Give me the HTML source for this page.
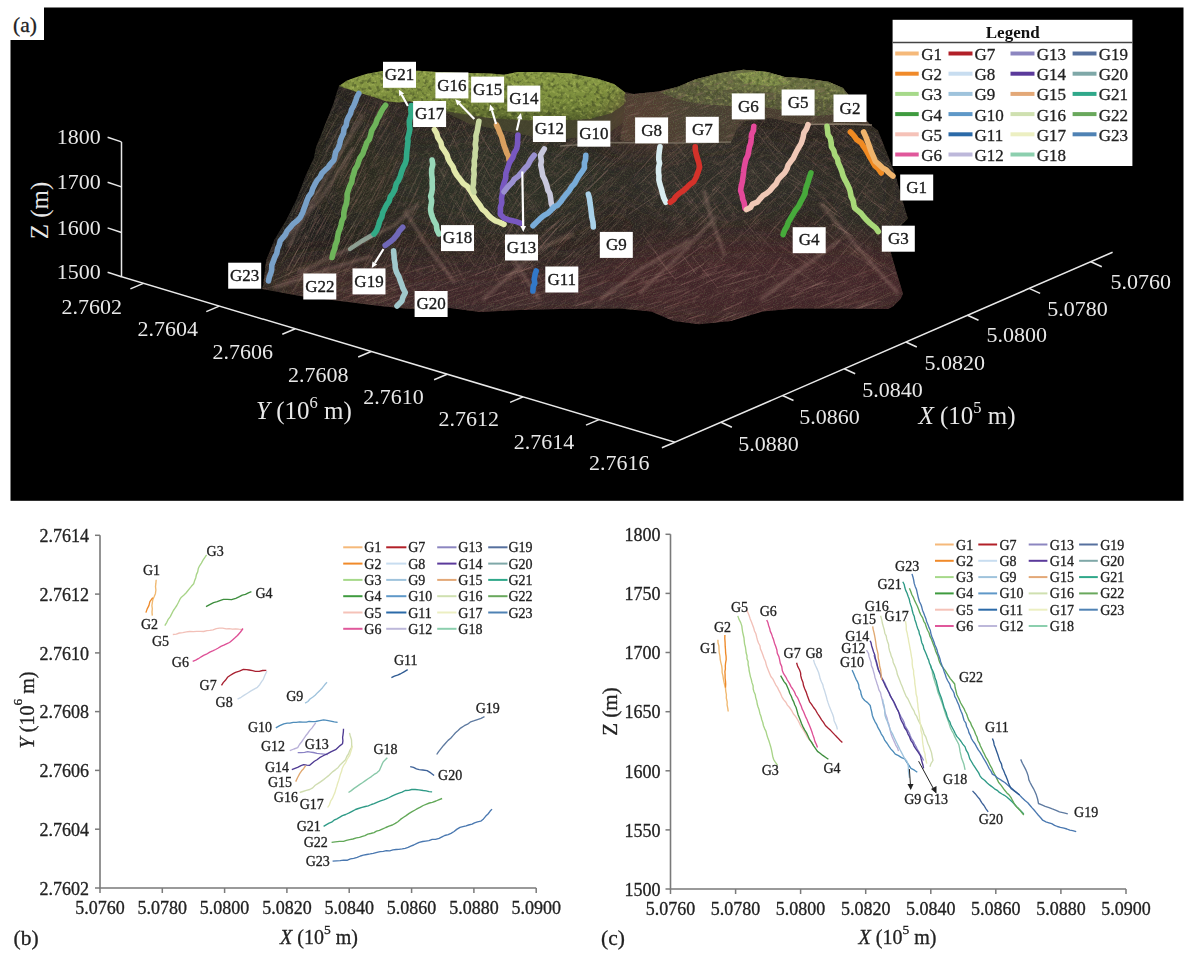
<!DOCTYPE html><html><head><meta charset="utf-8"><style>html,body{margin:0;padding:0;background:#fff;width:1195px;height:954px;overflow:hidden}svg{display:block;filter:blur(0.35px)}text{font-family:"Liberation Serif",serif}text[fill="#222"]{stroke:#222;stroke-width:0.3px}</style></head><body>
<svg width="1195" height="954" viewBox="0 0 1195 954">
<rect x="0" y="0" width="1195" height="954" fill="#fff"/>
<rect x="10.5" y="7.5" width="1173" height="493.3" fill="#000"/>
<rect x="9" y="6" width="35" height="34" fill="#fff"/>
<text x="13" y="31.5" font-size="21.5" fill="#222">(a)</text>
<defs>
<linearGradient id="topL" x1="0" y1="0" x2="0" y2="1"><stop offset="0" stop-color="#8a9c46"/><stop offset="0.6" stop-color="#7a8c3c"/><stop offset="1" stop-color="#56622c"/></linearGradient>
<linearGradient id="topR" x1="0" y1="0" x2="0" y2="1"><stop offset="0" stop-color="#6a6e40"/><stop offset="0.5" stop-color="#4e4a33"/><stop offset="1" stop-color="#43362c"/></linearGradient>
<linearGradient id="face" x1="0" y1="0" x2="0" y2="1"><stop offset="0" stop-color="#3a3328"/><stop offset="1" stop-color="#4a3028"/></linearGradient>
</defs>
<defs><clipPath id="fc"><polygon points="339.0,86.1 346.6,80.7 355.3,77.4 366.2,74.1 383.6,70.7 418.4,70.7 437.1,72.1 463.9,72.9 490.7,73.4 504.1,74.7 517.5,72.1 544.2,72.1 571.0,73.4 597.8,78.7 613.9,84.1 624.6,92.1 634.3,94.0 658.5,91.5 677.9,86.7 694.9,79.4 719.2,73.3 743.5,69.7 767.7,72.1 784.7,77.0 804.1,78.2 828.4,81.8 843.0,87.9 847.8,94.0 861.3,114.2 870.3,124.8 877.9,130.3 887.9,155.5 895.5,175.6 900.5,193.2 905.5,210.8 908.0,218.4 903.0,223.4 893.0,236.0 890.4,251.1 895.5,268.7 903.0,293.8 900.5,298.9 893.0,306.4 887.9,308.9 842.0,308.4 794.4,308.4 762.6,311.5 730.8,321.1 699.0,324.3 673.5,321.1 651.3,311.5 619.5,308.4 560.0,309.0 520.0,310.0 480.0,312.0 450.0,308.0 410.0,309.0 380.0,306.0 340.0,301.0 300.0,296.0 262.0,289.0 263.2,284.4 266.2,260.3 274.2,240.2 286.3,220.0 296.3,200.0 306.0,175.0 313.9,157.9 316.1,147.0 320.5,136.2 324.8,125.3 329.2,114.4 333.5,103.5 336.8,92.6"/></clipPath></defs>
<polygon points="339.0,86.1 346.6,80.7 355.3,77.4 366.2,74.1 383.6,70.7 418.4,70.7 437.1,72.1 463.9,72.9 490.7,73.4 504.1,74.7 517.5,72.1 544.2,72.1 571.0,73.4 597.8,78.7 613.9,84.1 624.6,92.1 634.3,94.0 658.5,91.5 677.9,86.7 694.9,79.4 719.2,73.3 743.5,69.7 767.7,72.1 784.7,77.0 804.1,78.2 828.4,81.8 843.0,87.9 847.8,94.0 861.3,114.2 870.3,124.8 877.9,130.3 887.9,155.5 895.5,175.6 900.5,193.2 905.5,210.8 908.0,218.4 903.0,223.4 893.0,236.0 890.4,251.1 895.5,268.7 903.0,293.8 900.5,298.9 893.0,306.4 887.9,308.9 842.0,308.4 794.4,308.4 762.6,311.5 730.8,321.1 699.0,324.3 673.5,321.1 651.3,311.5 619.5,308.4 560.0,309.0 520.0,310.0 480.0,312.0 450.0,308.0 410.0,309.0 380.0,306.0 340.0,301.0 300.0,296.0 262.0,289.0 263.2,284.4 266.2,260.3 274.2,240.2 286.3,220.0 296.3,200.0 306.0,175.0 313.9,157.9 316.1,147.0 320.5,136.2 324.8,125.3 329.2,114.4 333.5,103.5 336.8,92.6" fill="#2b2421"/>
<defs>
<filter id="bl" x="-50%" y="-50%" width="200%" height="200%"><feGaussianBlur stdDeviation="14"/></filter><filter id="sb2" x="-20%" y="-20%" width="140%" height="140%"><feGaussianBlur stdDeviation="1.5"/></filter>
<filter id="tx1" color-interpolation-filters="sRGB" filterUnits="userSpaceOnUse" x="-400" y="-400" width="1800" height="1200">
 <feTurbulence type="turbulence" baseFrequency="0.06 0.45" numOctaves="2" seed="7"/>
 <feColorMatrix type="matrix" values="0 0 0 0 0.60  0 0 0 0 0.45  0 0 0 0 0.42  3.2 0 0 0 -0.95"/>
</filter>
<filter id="tx2" color-interpolation-filters="sRGB" filterUnits="userSpaceOnUse" x="-400" y="-400" width="1800" height="1200">
 <feTurbulence type="fractalNoise" baseFrequency="0.9" numOctaves="1" seed="3"/>
 <feColorMatrix type="matrix" values="0 0 0 0 0.40  0 0 0 0 0.44  0 0 0 0 0.30  3 0 0 0 -1.4"/>
</filter>
</defs>
<g clip-path="url(#fc)">
<g filter="url(#bl)">
<ellipse cx="320" cy="190" rx="60" ry="110" fill="#1c1b18" opacity="0.7"/>
<ellipse cx="760" cy="285" rx="190" ry="50" fill="#44272a" opacity="0.85"/>
<ellipse cx="470" cy="295" rx="170" ry="32" fill="#42282a" opacity="0.8"/>
<ellipse cx="330" cy="285" rx="70" ry="25" fill="#46302c" opacity="0.6"/>
<ellipse cx="500" cy="180" rx="110" ry="50" fill="#2c2e24" opacity="0.8"/>
<ellipse cx="370" cy="170" rx="50" ry="60" fill="#2e2f26" opacity="0.6"/>
<ellipse cx="720" cy="180" rx="110" ry="40" fill="#2e2c26" opacity="0.7"/>
<ellipse cx="860" cy="190" rx="40" ry="50" fill="#2e2c26" opacity="0.6"/>
</g>
<g transform="rotate(-62 330 200)"><rect x="100" y="0" width="500" height="400" filter="url(#tx1)" opacity="0.15"/></g>
<g transform="rotate(-35 520 230)"><rect x="380" y="100" width="300" height="300" filter="url(#tx1)" opacity="0.15"/></g>
<g transform="rotate(-30 700 240)"><rect x="600" y="120" width="200" height="260" filter="url(#tx1)" opacity="0.15"/></g>
<g transform="rotate(30 820 240)"><rect x="740" y="120" width="220" height="260" filter="url(#tx1)" opacity="0.15"/></g>
<rect x="250" y="60" width="670" height="270" filter="url(#tx2)" opacity="0.4"/>
<g><line x1="674" y1="94" x2="661" y2="106" stroke="#b07a72" stroke-width="0.9" opacity="0.26"/><line x1="312" y1="188" x2="304" y2="207" stroke="#8e6a60" stroke-width="0.9" opacity="0.20"/><line x1="724" y1="254" x2="701" y2="276" stroke="#b07a72" stroke-width="1.0" opacity="0.13"/><line x1="532" y1="154" x2="518" y2="173" stroke="#b07a72" stroke-width="0.8" opacity="0.16"/><line x1="480" y1="151" x2="464" y2="176" stroke="#c89a90" stroke-width="0.6" opacity="0.15"/><line x1="667" y1="298" x2="648" y2="305" stroke="#b07a72" stroke-width="0.6" opacity="0.14"/><line x1="445" y1="107" x2="432" y2="129" stroke="#c89a90" stroke-width="0.9" opacity="0.17"/><line x1="497" y1="138" x2="516" y2="167" stroke="#b07a72" stroke-width="0.9" opacity="0.13"/><line x1="733" y1="127" x2="702" y2="155" stroke="#9a8a72" stroke-width="0.9" opacity="0.22"/><line x1="807" y1="272" x2="793" y2="278" stroke="#9a6c62" stroke-width="0.8" opacity="0.11"/><line x1="853" y1="222" x2="833" y2="249" stroke="#c89a90" stroke-width="1.0" opacity="0.22"/><line x1="349" y1="121" x2="333" y2="147" stroke="#9a8a72" stroke-width="0.9" opacity="0.26"/><line x1="517" y1="140" x2="508" y2="154" stroke="#b07a72" stroke-width="1.0" opacity="0.13"/><line x1="360" y1="249" x2="347" y2="272" stroke="#8e6a60" stroke-width="1.1" opacity="0.20"/><line x1="891" y1="292" x2="859" y2="308" stroke="#9a8a72" stroke-width="1.0" opacity="0.24"/><line x1="758" y1="169" x2="738" y2="187" stroke="#9a8a72" stroke-width="1.0" opacity="0.15"/><line x1="583" y1="130" x2="552" y2="156" stroke="#9a6c62" stroke-width="1.0" opacity="0.19"/><line x1="385" y1="177" x2="368" y2="216" stroke="#8e6a60" stroke-width="1.1" opacity="0.21"/><line x1="575" y1="115" x2="545" y2="146" stroke="#9a6c62" stroke-width="0.7" opacity="0.14"/><line x1="627" y1="107" x2="598" y2="132" stroke="#8e6a60" stroke-width="1.0" opacity="0.12"/><line x1="566" y1="218" x2="540" y2="248" stroke="#c89a90" stroke-width="1.1" opacity="0.27"/><line x1="750" y1="251" x2="779" y2="284" stroke="#9a8a72" stroke-width="0.8" opacity="0.26"/><line x1="551" y1="147" x2="542" y2="158" stroke="#8e6a60" stroke-width="0.7" opacity="0.14"/><line x1="302" y1="238" x2="285" y2="275" stroke="#9a6c62" stroke-width="0.6" opacity="0.14"/><line x1="693" y1="139" x2="663" y2="166" stroke="#8e6a60" stroke-width="0.8" opacity="0.24"/><line x1="784" y1="133" x2="802" y2="150" stroke="#c89a90" stroke-width="0.8" opacity="0.23"/><line x1="696" y1="321" x2="673" y2="333" stroke="#9a6c62" stroke-width="1.0" opacity="0.12"/><line x1="380" y1="215" x2="373" y2="233" stroke="#c89a90" stroke-width="0.7" opacity="0.27"/><line x1="545" y1="292" x2="531" y2="297" stroke="#8e6a60" stroke-width="1.0" opacity="0.27"/><line x1="862" y1="289" x2="836" y2="301" stroke="#b88e84" stroke-width="1.0" opacity="0.26"/><line x1="363" y1="89" x2="344" y2="126" stroke="#c89a90" stroke-width="0.7" opacity="0.23"/><line x1="733" y1="274" x2="706" y2="282" stroke="#b88e84" stroke-width="0.7" opacity="0.27"/><line x1="634" y1="217" x2="623" y2="227" stroke="#8e6a60" stroke-width="0.8" opacity="0.27"/><line x1="603" y1="101" x2="575" y2="129" stroke="#b07a72" stroke-width="0.9" opacity="0.22"/><line x1="409" y1="116" x2="397" y2="134" stroke="#8e6a60" stroke-width="0.6" opacity="0.11"/><line x1="686" y1="222" x2="669" y2="233" stroke="#9a8a72" stroke-width="0.8" opacity="0.15"/><line x1="341" y1="241" x2="321" y2="278" stroke="#b07a72" stroke-width="0.6" opacity="0.21"/><line x1="624" y1="112" x2="603" y2="132" stroke="#b88e84" stroke-width="1.1" opacity="0.26"/><line x1="831" y1="176" x2="854" y2="195" stroke="#9a6c62" stroke-width="0.9" opacity="0.28"/><line x1="683" y1="90" x2="706" y2="115" stroke="#b88e84" stroke-width="0.7" opacity="0.26"/><line x1="741" y1="125" x2="713" y2="147" stroke="#b88e84" stroke-width="0.9" opacity="0.25"/><line x1="586" y1="148" x2="574" y2="157" stroke="#9a8a72" stroke-width="0.8" opacity="0.15"/><line x1="672" y1="150" x2="695" y2="177" stroke="#8e6a60" stroke-width="0.6" opacity="0.11"/><line x1="833" y1="302" x2="797" y2="315" stroke="#8e6a60" stroke-width="0.9" opacity="0.18"/><line x1="702" y1="246" x2="669" y2="270" stroke="#c89a90" stroke-width="1.1" opacity="0.23"/><line x1="861" y1="144" x2="888" y2="172" stroke="#c89a90" stroke-width="0.6" opacity="0.23"/><line x1="473" y1="309" x2="434" y2="319" stroke="#b88e84" stroke-width="0.7" opacity="0.24"/><line x1="326" y1="295" x2="306" y2="300" stroke="#c89a90" stroke-width="0.8" opacity="0.25"/><line x1="826" y1="141" x2="812" y2="160" stroke="#b07a72" stroke-width="1.1" opacity="0.15"/><line x1="675" y1="183" x2="685" y2="194" stroke="#9a6c62" stroke-width="0.7" opacity="0.27"/><line x1="429" y1="114" x2="449" y2="146" stroke="#c89a90" stroke-width="0.9" opacity="0.19"/><line x1="507" y1="225" x2="525" y2="245" stroke="#8e6a60" stroke-width="1.1" opacity="0.20"/><line x1="726" y1="264" x2="702" y2="271" stroke="#b07a72" stroke-width="1.1" opacity="0.27"/><line x1="663" y1="245" x2="646" y2="261" stroke="#9a6c62" stroke-width="0.9" opacity="0.16"/><line x1="712" y1="219" x2="682" y2="250" stroke="#9a8a72" stroke-width="1.0" opacity="0.13"/><line x1="628" y1="184" x2="610" y2="199" stroke="#b88e84" stroke-width="0.8" opacity="0.20"/><line x1="684" y1="198" x2="661" y2="216" stroke="#9a8a72" stroke-width="0.7" opacity="0.12"/><line x1="593" y1="238" x2="566" y2="266" stroke="#b88e84" stroke-width="0.9" opacity="0.14"/><line x1="385" y1="94" x2="374" y2="120" stroke="#b07a72" stroke-width="0.8" opacity="0.26"/><line x1="632" y1="258" x2="614" y2="277" stroke="#b88e84" stroke-width="0.9" opacity="0.10"/><line x1="747" y1="271" x2="723" y2="282" stroke="#b88e84" stroke-width="1.0" opacity="0.23"/><line x1="559" y1="220" x2="546" y2="231" stroke="#b88e84" stroke-width="1.0" opacity="0.22"/><line x1="877" y1="299" x2="844" y2="311" stroke="#8e6a60" stroke-width="0.8" opacity="0.26"/><line x1="547" y1="126" x2="526" y2="143" stroke="#b88e84" stroke-width="1.0" opacity="0.15"/><line x1="764" y1="203" x2="753" y2="215" stroke="#9a6c62" stroke-width="0.7" opacity="0.16"/><line x1="840" y1="107" x2="868" y2="128" stroke="#9a8a72" stroke-width="0.7" opacity="0.17"/><line x1="472" y1="198" x2="460" y2="222" stroke="#8e6a60" stroke-width="1.1" opacity="0.10"/><line x1="832" y1="224" x2="853" y2="236" stroke="#c89a90" stroke-width="1.0" opacity="0.27"/><line x1="529" y1="265" x2="499" y2="276" stroke="#b88e84" stroke-width="0.8" opacity="0.15"/><line x1="573" y1="180" x2="545" y2="206" stroke="#9a8a72" stroke-width="0.7" opacity="0.18"/><line x1="339" y1="235" x2="329" y2="260" stroke="#8e6a60" stroke-width="0.9" opacity="0.12"/><line x1="536" y1="293" x2="516" y2="302" stroke="#9a6c62" stroke-width="0.7" opacity="0.16"/><line x1="754" y1="178" x2="742" y2="189" stroke="#b07a72" stroke-width="1.0" opacity="0.11"/><line x1="879" y1="141" x2="903" y2="164" stroke="#b07a72" stroke-width="1.1" opacity="0.14"/><line x1="338" y1="247" x2="328" y2="265" stroke="#9a8a72" stroke-width="0.7" opacity="0.17"/><line x1="726" y1="272" x2="704" y2="282" stroke="#8e6a60" stroke-width="0.6" opacity="0.16"/><line x1="699" y1="315" x2="666" y2="328" stroke="#b07a72" stroke-width="0.9" opacity="0.25"/><line x1="414" y1="253" x2="399" y2="284" stroke="#b07a72" stroke-width="1.0" opacity="0.20"/><line x1="688" y1="104" x2="715" y2="134" stroke="#c89a90" stroke-width="0.7" opacity="0.27"/><line x1="671" y1="284" x2="645" y2="292" stroke="#9a8a72" stroke-width="0.9" opacity="0.22"/><line x1="658" y1="306" x2="632" y2="314" stroke="#9a8a72" stroke-width="0.9" opacity="0.16"/><line x1="438" y1="195" x2="454" y2="225" stroke="#9a6c62" stroke-width="0.6" opacity="0.25"/><line x1="374" y1="138" x2="361" y2="159" stroke="#8e6a60" stroke-width="1.0" opacity="0.15"/><line x1="311" y1="259" x2="294" y2="291" stroke="#9a8a72" stroke-width="0.8" opacity="0.23"/><line x1="549" y1="92" x2="531" y2="111" stroke="#b88e84" stroke-width="0.8" opacity="0.20"/><line x1="565" y1="214" x2="540" y2="240" stroke="#9a6c62" stroke-width="0.8" opacity="0.18"/><line x1="456" y1="143" x2="442" y2="176" stroke="#9a8a72" stroke-width="0.7" opacity="0.14"/><line x1="572" y1="260" x2="549" y2="278" stroke="#9a6c62" stroke-width="1.1" opacity="0.25"/><line x1="449" y1="174" x2="467" y2="198" stroke="#9a6c62" stroke-width="0.6" opacity="0.11"/><line x1="673" y1="266" x2="660" y2="273" stroke="#9a6c62" stroke-width="0.8" opacity="0.18"/><line x1="376" y1="100" x2="360" y2="124" stroke="#b07a72" stroke-width="0.8" opacity="0.11"/><line x1="667" y1="101" x2="635" y2="128" stroke="#b07a72" stroke-width="1.1" opacity="0.12"/><line x1="756" y1="232" x2="776" y2="253" stroke="#c89a90" stroke-width="1.1" opacity="0.15"/><line x1="640" y1="190" x2="660" y2="215" stroke="#9a8a72" stroke-width="0.6" opacity="0.24"/><line x1="665" y1="151" x2="652" y2="165" stroke="#b07a72" stroke-width="0.7" opacity="0.17"/><line x1="707" y1="199" x2="683" y2="226" stroke="#9a8a72" stroke-width="1.0" opacity="0.11"/><line x1="408" y1="151" x2="391" y2="178" stroke="#b88e84" stroke-width="0.8" opacity="0.20"/><line x1="679" y1="303" x2="664" y2="308" stroke="#b88e84" stroke-width="1.0" opacity="0.21"/><line x1="795" y1="306" x2="769" y2="316" stroke="#9a6c62" stroke-width="0.9" opacity="0.27"/><line x1="583" y1="205" x2="573" y2="217" stroke="#c89a90" stroke-width="1.0" opacity="0.21"/><line x1="697" y1="292" x2="683" y2="297" stroke="#9a8a72" stroke-width="1.0" opacity="0.20"/><line x1="755" y1="130" x2="780" y2="162" stroke="#b88e84" stroke-width="1.1" opacity="0.18"/><line x1="563" y1="185" x2="551" y2="197" stroke="#b88e84" stroke-width="0.8" opacity="0.22"/><line x1="788" y1="218" x2="807" y2="229" stroke="#b07a72" stroke-width="1.1" opacity="0.17"/><line x1="686" y1="217" x2="665" y2="238" stroke="#8e6a60" stroke-width="1.0" opacity="0.21"/><line x1="753" y1="136" x2="769" y2="152" stroke="#9a8a72" stroke-width="0.8" opacity="0.11"/><line x1="668" y1="277" x2="645" y2="284" stroke="#b07a72" stroke-width="0.9" opacity="0.12"/><line x1="557" y1="116" x2="535" y2="135" stroke="#9a8a72" stroke-width="0.7" opacity="0.23"/><line x1="527" y1="202" x2="546" y2="226" stroke="#c89a90" stroke-width="0.7" opacity="0.21"/><line x1="744" y1="120" x2="719" y2="148" stroke="#c89a90" stroke-width="0.8" opacity="0.24"/><line x1="430" y1="89" x2="443" y2="117" stroke="#9a8a72" stroke-width="0.8" opacity="0.13"/><line x1="608" y1="170" x2="586" y2="191" stroke="#c89a90" stroke-width="1.1" opacity="0.26"/><line x1="506" y1="291" x2="484" y2="299" stroke="#c89a90" stroke-width="1.0" opacity="0.25"/><line x1="508" y1="245" x2="500" y2="258" stroke="#8e6a60" stroke-width="1.1" opacity="0.16"/><line x1="321" y1="288" x2="283" y2="306" stroke="#b07a72" stroke-width="1.0" opacity="0.17"/><line x1="684" y1="125" x2="666" y2="138" stroke="#8e6a60" stroke-width="0.9" opacity="0.22"/><line x1="813" y1="290" x2="788" y2="297" stroke="#9a6c62" stroke-width="0.9" opacity="0.26"/><line x1="575" y1="216" x2="559" y2="231" stroke="#9a8a72" stroke-width="1.1" opacity="0.28"/><line x1="744" y1="191" x2="718" y2="214" stroke="#b07a72" stroke-width="0.8" opacity="0.22"/><line x1="847" y1="99" x2="867" y2="114" stroke="#b88e84" stroke-width="0.7" opacity="0.17"/><line x1="702" y1="131" x2="676" y2="162" stroke="#8e6a60" stroke-width="0.9" opacity="0.19"/><line x1="637" y1="143" x2="617" y2="162" stroke="#9a8a72" stroke-width="0.6" opacity="0.24"/><line x1="845" y1="249" x2="880" y2="272" stroke="#8e6a60" stroke-width="0.7" opacity="0.27"/><line x1="707" y1="196" x2="689" y2="214" stroke="#c89a90" stroke-width="0.7" opacity="0.17"/><line x1="490" y1="158" x2="516" y2="187" stroke="#c89a90" stroke-width="0.7" opacity="0.20"/><line x1="704" y1="264" x2="675" y2="279" stroke="#c89a90" stroke-width="1.0" opacity="0.26"/><line x1="763" y1="143" x2="749" y2="156" stroke="#9a6c62" stroke-width="0.9" opacity="0.23"/><line x1="687" y1="287" x2="648" y2="300" stroke="#9a8a72" stroke-width="0.6" opacity="0.24"/><line x1="469" y1="186" x2="459" y2="215" stroke="#9a6c62" stroke-width="0.9" opacity="0.26"/><line x1="799" y1="149" x2="816" y2="164" stroke="#9a6c62" stroke-width="1.0" opacity="0.18"/><line x1="304" y1="267" x2="273" y2="281" stroke="#9a8a72" stroke-width="1.1" opacity="0.27"/><line x1="782" y1="175" x2="809" y2="189" stroke="#c89a90" stroke-width="0.8" opacity="0.23"/><line x1="427" y1="178" x2="439" y2="195" stroke="#b07a72" stroke-width="0.9" opacity="0.27"/><line x1="470" y1="233" x2="457" y2="257" stroke="#9a8a72" stroke-width="0.8" opacity="0.17"/><line x1="454" y1="205" x2="443" y2="233" stroke="#c89a90" stroke-width="0.8" opacity="0.22"/><line x1="742" y1="312" x2="708" y2="325" stroke="#b88e84" stroke-width="1.0" opacity="0.22"/><line x1="801" y1="234" x2="823" y2="246" stroke="#c89a90" stroke-width="0.8" opacity="0.14"/><line x1="496" y1="302" x2="481" y2="307" stroke="#9a6c62" stroke-width="0.7" opacity="0.12"/><line x1="810" y1="196" x2="791" y2="223" stroke="#b07a72" stroke-width="0.6" opacity="0.16"/><line x1="389" y1="285" x2="360" y2="295" stroke="#b88e84" stroke-width="0.8" opacity="0.13"/><line x1="817" y1="122" x2="846" y2="147" stroke="#b07a72" stroke-width="0.9" opacity="0.10"/><line x1="265" y1="275" x2="243" y2="285" stroke="#b88e84" stroke-width="0.7" opacity="0.12"/><line x1="531" y1="115" x2="512" y2="147" stroke="#8e6a60" stroke-width="0.9" opacity="0.18"/><line x1="400" y1="234" x2="379" y2="269" stroke="#9a8a72" stroke-width="0.9" opacity="0.18"/><line x1="569" y1="183" x2="548" y2="203" stroke="#c89a90" stroke-width="0.6" opacity="0.11"/><line x1="653" y1="104" x2="629" y2="123" stroke="#9a8a72" stroke-width="0.8" opacity="0.28"/><line x1="603" y1="196" x2="590" y2="207" stroke="#9a8a72" stroke-width="0.7" opacity="0.22"/><line x1="830" y1="219" x2="861" y2="244" stroke="#c89a90" stroke-width="0.8" opacity="0.18"/><line x1="527" y1="111" x2="541" y2="128" stroke="#b88e84" stroke-width="0.9" opacity="0.19"/><line x1="538" y1="264" x2="521" y2="271" stroke="#b07a72" stroke-width="0.9" opacity="0.20"/><line x1="471" y1="117" x2="492" y2="154" stroke="#c89a90" stroke-width="1.0" opacity="0.23"/><line x1="889" y1="230" x2="915" y2="245" stroke="#b88e84" stroke-width="0.9" opacity="0.14"/><line x1="326" y1="288" x2="292" y2="302" stroke="#8e6a60" stroke-width="0.7" opacity="0.18"/><line x1="622" y1="270" x2="590" y2="281" stroke="#8e6a60" stroke-width="0.6" opacity="0.27"/><line x1="798" y1="151" x2="828" y2="173" stroke="#9a6c62" stroke-width="0.8" opacity="0.13"/><line x1="349" y1="244" x2="335" y2="277" stroke="#b07a72" stroke-width="0.6" opacity="0.20"/><line x1="501" y1="196" x2="485" y2="227" stroke="#8e6a60" stroke-width="0.9" opacity="0.26"/><line x1="357" y1="267" x2="342" y2="274" stroke="#c89a90" stroke-width="0.9" opacity="0.19"/><line x1="545" y1="153" x2="531" y2="164" stroke="#c89a90" stroke-width="0.7" opacity="0.22"/><line x1="644" y1="213" x2="626" y2="232" stroke="#8e6a60" stroke-width="0.6" opacity="0.14"/><line x1="874" y1="270" x2="852" y2="276" stroke="#b07a72" stroke-width="0.6" opacity="0.23"/><line x1="370" y1="178" x2="355" y2="203" stroke="#9a8a72" stroke-width="1.0" opacity="0.11"/><line x1="819" y1="98" x2="832" y2="108" stroke="#9a6c62" stroke-width="0.9" opacity="0.20"/><line x1="720" y1="187" x2="690" y2="218" stroke="#b88e84" stroke-width="1.0" opacity="0.21"/><line x1="800" y1="306" x2="765" y2="323" stroke="#b88e84" stroke-width="0.8" opacity="0.17"/><line x1="307" y1="294" x2="287" y2="300" stroke="#b88e84" stroke-width="0.6" opacity="0.21"/><line x1="603" y1="134" x2="584" y2="150" stroke="#9a8a72" stroke-width="1.0" opacity="0.14"/><line x1="351" y1="135" x2="333" y2="167" stroke="#9a8a72" stroke-width="0.6" opacity="0.27"/><line x1="666" y1="198" x2="683" y2="220" stroke="#8e6a60" stroke-width="0.9" opacity="0.28"/><line x1="462" y1="192" x2="474" y2="212" stroke="#9a6c62" stroke-width="0.9" opacity="0.16"/><line x1="304" y1="197" x2="294" y2="221" stroke="#9a6c62" stroke-width="0.6" opacity="0.26"/><line x1="815" y1="234" x2="796" y2="258" stroke="#9a8a72" stroke-width="1.0" opacity="0.18"/><line x1="785" y1="242" x2="809" y2="260" stroke="#b07a72" stroke-width="0.8" opacity="0.25"/><line x1="310" y1="241" x2="297" y2="274" stroke="#c89a90" stroke-width="0.9" opacity="0.21"/><line x1="493" y1="306" x2="459" y2="319" stroke="#9a8a72" stroke-width="0.9" opacity="0.24"/><line x1="679" y1="104" x2="661" y2="121" stroke="#9a6c62" stroke-width="1.0" opacity="0.22"/><line x1="849" y1="295" x2="820" y2="307" stroke="#b88e84" stroke-width="1.1" opacity="0.16"/><line x1="685" y1="245" x2="654" y2="274" stroke="#9a6c62" stroke-width="0.9" opacity="0.22"/><line x1="470" y1="118" x2="456" y2="141" stroke="#9a6c62" stroke-width="0.6" opacity="0.16"/><line x1="878" y1="169" x2="916" y2="191" stroke="#b88e84" stroke-width="0.6" opacity="0.25"/><line x1="321" y1="271" x2="282" y2="281" stroke="#b07a72" stroke-width="0.9" opacity="0.26"/><line x1="660" y1="230" x2="635" y2="259" stroke="#8e6a60" stroke-width="1.0" opacity="0.13"/><line x1="542" y1="185" x2="526" y2="200" stroke="#c89a90" stroke-width="0.9" opacity="0.24"/><line x1="768" y1="143" x2="799" y2="167" stroke="#c89a90" stroke-width="1.1" opacity="0.13"/><line x1="699" y1="223" x2="682" y2="238" stroke="#c89a90" stroke-width="0.9" opacity="0.18"/><line x1="361" y1="135" x2="341" y2="170" stroke="#b07a72" stroke-width="0.9" opacity="0.26"/><line x1="618" y1="112" x2="588" y2="138" stroke="#9a6c62" stroke-width="0.6" opacity="0.13"/><line x1="549" y1="210" x2="537" y2="221" stroke="#b88e84" stroke-width="1.0" opacity="0.26"/><line x1="864" y1="186" x2="882" y2="198" stroke="#b07a72" stroke-width="0.8" opacity="0.11"/><line x1="865" y1="287" x2="829" y2="298" stroke="#b88e84" stroke-width="0.6" opacity="0.27"/><line x1="564" y1="285" x2="538" y2="293" stroke="#8e6a60" stroke-width="0.6" opacity="0.11"/><line x1="423" y1="286" x2="389" y2="298" stroke="#8e6a60" stroke-width="0.8" opacity="0.24"/><line x1="411" y1="117" x2="397" y2="147" stroke="#8e6a60" stroke-width="0.8" opacity="0.12"/><line x1="848" y1="229" x2="871" y2="250" stroke="#9a8a72" stroke-width="0.7" opacity="0.18"/><line x1="658" y1="145" x2="633" y2="169" stroke="#8e6a60" stroke-width="1.1" opacity="0.11"/><line x1="600" y1="208" x2="575" y2="227" stroke="#c89a90" stroke-width="1.0" opacity="0.11"/><line x1="508" y1="176" x2="501" y2="191" stroke="#b88e84" stroke-width="1.0" opacity="0.21"/><line x1="760" y1="262" x2="746" y2="268" stroke="#8e6a60" stroke-width="0.8" opacity="0.22"/><line x1="799" y1="250" x2="786" y2="265" stroke="#b88e84" stroke-width="0.6" opacity="0.24"/><line x1="555" y1="158" x2="542" y2="173" stroke="#b07a72" stroke-width="0.8" opacity="0.16"/><line x1="516" y1="281" x2="502" y2="287" stroke="#9a8a72" stroke-width="0.7" opacity="0.16"/><line x1="766" y1="293" x2="750" y2="300" stroke="#9a6c62" stroke-width="0.8" opacity="0.17"/><line x1="477" y1="132" x2="500" y2="163" stroke="#9a6c62" stroke-width="1.0" opacity="0.23"/><line x1="307" y1="231" x2="290" y2="256" stroke="#9a6c62" stroke-width="0.7" opacity="0.16"/><line x1="449" y1="194" x2="464" y2="216" stroke="#c89a90" stroke-width="0.6" opacity="0.26"/><line x1="673" y1="174" x2="698" y2="208" stroke="#b88e84" stroke-width="1.0" opacity="0.22"/><line x1="542" y1="118" x2="520" y2="143" stroke="#9a6c62" stroke-width="0.8" opacity="0.20"/><line x1="651" y1="249" x2="624" y2="274" stroke="#8e6a60" stroke-width="0.7" opacity="0.17"/><line x1="461" y1="154" x2="455" y2="173" stroke="#8e6a60" stroke-width="0.8" opacity="0.20"/><line x1="426" y1="150" x2="445" y2="177" stroke="#9a8a72" stroke-width="1.1" opacity="0.19"/><line x1="335" y1="290" x2="297" y2="305" stroke="#c89a90" stroke-width="1.1" opacity="0.25"/><line x1="692" y1="256" x2="718" y2="288" stroke="#b88e84" stroke-width="1.0" opacity="0.27"/><line x1="673" y1="276" x2="656" y2="282" stroke="#b88e84" stroke-width="1.0" opacity="0.14"/><line x1="579" y1="174" x2="558" y2="193" stroke="#8e6a60" stroke-width="0.7" opacity="0.26"/><line x1="725" y1="201" x2="693" y2="224" stroke="#b07a72" stroke-width="0.7" opacity="0.16"/><line x1="304" y1="198" x2="295" y2="214" stroke="#8e6a60" stroke-width="0.9" opacity="0.13"/><line x1="888" y1="191" x2="909" y2="211" stroke="#9a6c62" stroke-width="0.7" opacity="0.16"/><line x1="720" y1="170" x2="742" y2="202" stroke="#9a6c62" stroke-width="0.7" opacity="0.27"/><line x1="435" y1="236" x2="427" y2="253" stroke="#8e6a60" stroke-width="0.7" opacity="0.22"/><line x1="727" y1="231" x2="756" y2="259" stroke="#b07a72" stroke-width="0.6" opacity="0.22"/><line x1="633" y1="242" x2="613" y2="260" stroke="#9a8a72" stroke-width="0.6" opacity="0.26"/><line x1="612" y1="240" x2="598" y2="256" stroke="#9a8a72" stroke-width="0.8" opacity="0.18"/><line x1="706" y1="125" x2="691" y2="138" stroke="#8e6a60" stroke-width="0.7" opacity="0.26"/><line x1="481" y1="182" x2="491" y2="197" stroke="#b88e84" stroke-width="0.8" opacity="0.15"/><line x1="417" y1="111" x2="407" y2="134" stroke="#8e6a60" stroke-width="0.8" opacity="0.27"/><line x1="846" y1="281" x2="811" y2="289" stroke="#b88e84" stroke-width="1.0" opacity="0.19"/><line x1="592" y1="206" x2="582" y2="217" stroke="#c89a90" stroke-width="0.9" opacity="0.27"/><line x1="396" y1="172" x2="385" y2="198" stroke="#9a8a72" stroke-width="0.9" opacity="0.15"/><line x1="343" y1="151" x2="331" y2="174" stroke="#b07a72" stroke-width="0.8" opacity="0.20"/><line x1="382" y1="219" x2="372" y2="246" stroke="#8e6a60" stroke-width="0.7" opacity="0.28"/><line x1="701" y1="116" x2="675" y2="144" stroke="#9a6c62" stroke-width="0.9" opacity="0.17"/><line x1="349" y1="231" x2="343" y2="244" stroke="#b07a72" stroke-width="0.7" opacity="0.16"/><line x1="565" y1="196" x2="544" y2="217" stroke="#9a6c62" stroke-width="1.1" opacity="0.16"/><line x1="512" y1="234" x2="529" y2="258" stroke="#8e6a60" stroke-width="0.9" opacity="0.23"/><line x1="451" y1="281" x2="420" y2="294" stroke="#c89a90" stroke-width="0.9" opacity="0.24"/><line x1="730" y1="251" x2="714" y2="266" stroke="#9a8a72" stroke-width="1.0" opacity="0.24"/><line x1="633" y1="259" x2="620" y2="272" stroke="#9a8a72" stroke-width="1.0" opacity="0.24"/><line x1="504" y1="283" x2="475" y2="295" stroke="#9a8a72" stroke-width="0.7" opacity="0.10"/><line x1="460" y1="124" x2="445" y2="158" stroke="#c89a90" stroke-width="1.0" opacity="0.23"/><line x1="391" y1="165" x2="376" y2="191" stroke="#9a6c62" stroke-width="1.1" opacity="0.18"/><line x1="604" y1="217" x2="575" y2="245" stroke="#9a8a72" stroke-width="0.9" opacity="0.22"/><line x1="655" y1="134" x2="639" y2="151" stroke="#9a6c62" stroke-width="1.0" opacity="0.23"/><line x1="707" y1="204" x2="676" y2="232" stroke="#9a8a72" stroke-width="0.7" opacity="0.12"/><line x1="698" y1="178" x2="663" y2="203" stroke="#b88e84" stroke-width="0.7" opacity="0.15"/><line x1="723" y1="170" x2="694" y2="192" stroke="#b88e84" stroke-width="0.7" opacity="0.20"/><line x1="866" y1="253" x2="896" y2="274" stroke="#b88e84" stroke-width="0.7" opacity="0.22"/><line x1="603" y1="239" x2="586" y2="260" stroke="#9a8a72" stroke-width="0.8" opacity="0.22"/><line x1="683" y1="297" x2="651" y2="308" stroke="#9a6c62" stroke-width="0.8" opacity="0.22"/><line x1="850" y1="109" x2="828" y2="138" stroke="#b07a72" stroke-width="1.1" opacity="0.13"/><line x1="833" y1="130" x2="851" y2="149" stroke="#c89a90" stroke-width="0.7" opacity="0.23"/><line x1="826" y1="157" x2="852" y2="174" stroke="#b07a72" stroke-width="1.1" opacity="0.16"/><line x1="553" y1="240" x2="524" y2="269" stroke="#b88e84" stroke-width="1.0" opacity="0.18"/><line x1="381" y1="115" x2="370" y2="140" stroke="#9a6c62" stroke-width="1.0" opacity="0.10"/><line x1="476" y1="158" x2="459" y2="194" stroke="#c89a90" stroke-width="1.0" opacity="0.19"/><line x1="312" y1="247" x2="305" y2="263" stroke="#9a6c62" stroke-width="1.1" opacity="0.10"/><line x1="506" y1="194" x2="517" y2="214" stroke="#9a8a72" stroke-width="0.9" opacity="0.15"/><line x1="491" y1="144" x2="481" y2="160" stroke="#9a8a72" stroke-width="0.9" opacity="0.26"/><line x1="716" y1="162" x2="685" y2="191" stroke="#9a6c62" stroke-width="0.9" opacity="0.14"/><line x1="342" y1="124" x2="326" y2="152" stroke="#c89a90" stroke-width="1.0" opacity="0.26"/><line x1="751" y1="278" x2="716" y2="288" stroke="#9a8a72" stroke-width="1.0" opacity="0.26"/><line x1="309" y1="194" x2="300" y2="208" stroke="#8e6a60" stroke-width="0.7" opacity="0.25"/><line x1="846" y1="136" x2="833" y2="155" stroke="#8e6a60" stroke-width="0.8" opacity="0.22"/><line x1="725" y1="204" x2="735" y2="216" stroke="#b88e84" stroke-width="0.9" opacity="0.18"/><line x1="784" y1="259" x2="796" y2="267" stroke="#b88e84" stroke-width="0.9" opacity="0.11"/><line x1="481" y1="103" x2="471" y2="116" stroke="#c89a90" stroke-width="0.6" opacity="0.17"/><line x1="759" y1="270" x2="726" y2="277" stroke="#c89a90" stroke-width="0.8" opacity="0.26"/><line x1="549" y1="305" x2="534" y2="311" stroke="#9a8a72" stroke-width="1.0" opacity="0.12"/><line x1="818" y1="116" x2="807" y2="130" stroke="#b88e84" stroke-width="1.0" opacity="0.24"/><line x1="896" y1="198" x2="876" y2="220" stroke="#b88e84" stroke-width="0.7" opacity="0.16"/><line x1="730" y1="115" x2="754" y2="143" stroke="#b07a72" stroke-width="0.7" opacity="0.11"/><line x1="644" y1="194" x2="653" y2="206" stroke="#9a8a72" stroke-width="0.6" opacity="0.18"/><line x1="609" y1="267" x2="591" y2="272" stroke="#9a6c62" stroke-width="0.7" opacity="0.26"/><line x1="632" y1="225" x2="603" y2="250" stroke="#b88e84" stroke-width="0.8" opacity="0.13"/><line x1="687" y1="140" x2="665" y2="161" stroke="#8e6a60" stroke-width="1.0" opacity="0.26"/><line x1="665" y1="189" x2="648" y2="207" stroke="#9a8a72" stroke-width="0.9" opacity="0.24"/><line x1="464" y1="187" x2="456" y2="205" stroke="#8e6a60" stroke-width="0.8" opacity="0.25"/><line x1="452" y1="256" x2="465" y2="284" stroke="#c89a90" stroke-width="0.9" opacity="0.12"/><line x1="414" y1="136" x2="393" y2="172" stroke="#9a6c62" stroke-width="0.6" opacity="0.23"/><line x1="380" y1="152" x2="364" y2="179" stroke="#b07a72" stroke-width="0.7" opacity="0.24"/><line x1="729" y1="220" x2="700" y2="249" stroke="#9a6c62" stroke-width="1.1" opacity="0.10"/><line x1="569" y1="145" x2="554" y2="159" stroke="#b88e84" stroke-width="0.9" opacity="0.24"/><line x1="504" y1="214" x2="519" y2="234" stroke="#c89a90" stroke-width="0.8" opacity="0.24"/><line x1="728" y1="269" x2="710" y2="276" stroke="#9a6c62" stroke-width="0.8" opacity="0.20"/><line x1="400" y1="123" x2="382" y2="161" stroke="#8e6a60" stroke-width="1.0" opacity="0.15"/><line x1="384" y1="143" x2="373" y2="161" stroke="#8e6a60" stroke-width="0.9" opacity="0.22"/><line x1="424" y1="283" x2="391" y2="290" stroke="#c89a90" stroke-width="0.8" opacity="0.23"/><line x1="486" y1="121" x2="512" y2="153" stroke="#9a8a72" stroke-width="1.1" opacity="0.19"/><line x1="805" y1="106" x2="797" y2="117" stroke="#b88e84" stroke-width="1.0" opacity="0.14"/><line x1="718" y1="90" x2="728" y2="102" stroke="#9a8a72" stroke-width="0.9" opacity="0.21"/><line x1="571" y1="204" x2="553" y2="228" stroke="#b07a72" stroke-width="0.6" opacity="0.23"/><line x1="606" y1="156" x2="581" y2="181" stroke="#c89a90" stroke-width="1.0" opacity="0.26"/><line x1="353" y1="133" x2="334" y2="167" stroke="#9a6c62" stroke-width="1.0" opacity="0.11"/><line x1="883" y1="197" x2="898" y2="212" stroke="#9a8a72" stroke-width="1.0" opacity="0.11"/><line x1="502" y1="201" x2="493" y2="215" stroke="#c89a90" stroke-width="0.9" opacity="0.16"/><line x1="841" y1="306" x2="804" y2="322" stroke="#9a8a72" stroke-width="1.0" opacity="0.19"/><line x1="861" y1="301" x2="847" y2="306" stroke="#9a6c62" stroke-width="0.6" opacity="0.14"/><line x1="349" y1="283" x2="309" y2="294" stroke="#9a6c62" stroke-width="0.7" opacity="0.14"/><line x1="802" y1="180" x2="779" y2="209" stroke="#b88e84" stroke-width="1.0" opacity="0.22"/><line x1="306" y1="265" x2="291" y2="271" stroke="#b88e84" stroke-width="1.0" opacity="0.16"/><line x1="515" y1="271" x2="495" y2="281" stroke="#c89a90" stroke-width="0.8" opacity="0.16"/><line x1="871" y1="190" x2="855" y2="209" stroke="#8e6a60" stroke-width="0.7" opacity="0.14"/><line x1="504" y1="274" x2="481" y2="285" stroke="#9a6c62" stroke-width="0.7" opacity="0.10"/><line x1="457" y1="173" x2="467" y2="187" stroke="#c89a90" stroke-width="0.8" opacity="0.20"/><line x1="522" y1="94" x2="540" y2="121" stroke="#9a6c62" stroke-width="1.0" opacity="0.10"/><line x1="526" y1="273" x2="497" y2="282" stroke="#b88e84" stroke-width="0.9" opacity="0.13"/><line x1="504" y1="121" x2="516" y2="135" stroke="#b88e84" stroke-width="0.8" opacity="0.18"/><line x1="572" y1="106" x2="558" y2="122" stroke="#9a8a72" stroke-width="0.8" opacity="0.21"/><line x1="555" y1="120" x2="539" y2="140" stroke="#8e6a60" stroke-width="0.8" opacity="0.26"/><line x1="543" y1="190" x2="518" y2="212" stroke="#8e6a60" stroke-width="0.7" opacity="0.16"/><line x1="875" y1="136" x2="898" y2="149" stroke="#9a6c62" stroke-width="0.7" opacity="0.23"/><line x1="577" y1="224" x2="560" y2="243" stroke="#c89a90" stroke-width="0.8" opacity="0.27"/><line x1="373" y1="270" x2="341" y2="286" stroke="#9a8a72" stroke-width="0.7" opacity="0.24"/><line x1="799" y1="104" x2="814" y2="115" stroke="#9a6c62" stroke-width="0.7" opacity="0.22"/><line x1="723" y1="275" x2="684" y2="294" stroke="#c89a90" stroke-width="0.9" opacity="0.20"/><line x1="860" y1="294" x2="846" y2="300" stroke="#9a6c62" stroke-width="1.0" opacity="0.25"/><line x1="644" y1="305" x2="625" y2="314" stroke="#9a8a72" stroke-width="0.8" opacity="0.22"/><line x1="699" y1="183" x2="676" y2="198" stroke="#b07a72" stroke-width="0.6" opacity="0.14"/><line x1="744" y1="220" x2="761" y2="242" stroke="#c89a90" stroke-width="0.8" opacity="0.22"/><line x1="707" y1="124" x2="691" y2="140" stroke="#b07a72" stroke-width="0.7" opacity="0.27"/><line x1="348" y1="162" x2="339" y2="180" stroke="#c89a90" stroke-width="0.8" opacity="0.12"/><line x1="728" y1="195" x2="702" y2="224" stroke="#b07a72" stroke-width="0.6" opacity="0.16"/><line x1="327" y1="278" x2="291" y2="286" stroke="#8e6a60" stroke-width="0.7" opacity="0.13"/><line x1="407" y1="184" x2="394" y2="214" stroke="#c89a90" stroke-width="0.8" opacity="0.23"/><line x1="833" y1="195" x2="863" y2="214" stroke="#b88e84" stroke-width="0.7" opacity="0.23"/><line x1="776" y1="225" x2="763" y2="244" stroke="#c89a90" stroke-width="0.7" opacity="0.22"/><line x1="460" y1="180" x2="472" y2="202" stroke="#c89a90" stroke-width="0.9" opacity="0.25"/><line x1="717" y1="158" x2="739" y2="185" stroke="#9a6c62" stroke-width="0.7" opacity="0.15"/><line x1="375" y1="252" x2="362" y2="276" stroke="#b88e84" stroke-width="0.9" opacity="0.18"/><line x1="574" y1="215" x2="541" y2="242" stroke="#b88e84" stroke-width="0.9" opacity="0.19"/><line x1="347" y1="163" x2="340" y2="176" stroke="#9a6c62" stroke-width="1.1" opacity="0.19"/><line x1="383" y1="179" x2="367" y2="208" stroke="#c89a90" stroke-width="0.9" opacity="0.17"/><line x1="805" y1="204" x2="834" y2="229" stroke="#b88e84" stroke-width="0.7" opacity="0.15"/><line x1="607" y1="128" x2="582" y2="154" stroke="#c89a90" stroke-width="0.9" opacity="0.12"/><line x1="330" y1="272" x2="306" y2="278" stroke="#b07a72" stroke-width="1.0" opacity="0.18"/><line x1="398" y1="189" x2="381" y2="217" stroke="#b88e84" stroke-width="0.7" opacity="0.28"/><line x1="550" y1="171" x2="529" y2="188" stroke="#b07a72" stroke-width="1.0" opacity="0.14"/><line x1="786" y1="227" x2="811" y2="248" stroke="#c89a90" stroke-width="0.7" opacity="0.13"/><line x1="390" y1="137" x2="381" y2="160" stroke="#9a6c62" stroke-width="0.9" opacity="0.13"/><line x1="592" y1="301" x2="575" y2="306" stroke="#c89a90" stroke-width="1.1" opacity="0.28"/><line x1="823" y1="118" x2="851" y2="139" stroke="#b88e84" stroke-width="1.0" opacity="0.22"/><line x1="576" y1="225" x2="558" y2="245" stroke="#c89a90" stroke-width="0.6" opacity="0.24"/><line x1="759" y1="183" x2="787" y2="214" stroke="#9a6c62" stroke-width="0.8" opacity="0.19"/><line x1="636" y1="294" x2="620" y2="298" stroke="#c89a90" stroke-width="0.9" opacity="0.23"/><line x1="812" y1="277" x2="772" y2="292" stroke="#b88e84" stroke-width="0.8" opacity="0.16"/><line x1="441" y1="218" x2="428" y2="243" stroke="#9a6c62" stroke-width="1.0" opacity="0.24"/><line x1="285" y1="236" x2="277" y2="249" stroke="#b88e84" stroke-width="0.8" opacity="0.10"/><line x1="706" y1="119" x2="733" y2="149" stroke="#9a6c62" stroke-width="0.6" opacity="0.16"/><line x1="309" y1="245" x2="301" y2="259" stroke="#9a8a72" stroke-width="0.8" opacity="0.23"/><line x1="408" y1="243" x2="401" y2="255" stroke="#c89a90" stroke-width="0.6" opacity="0.21"/><line x1="595" y1="193" x2="580" y2="213" stroke="#b07a72" stroke-width="1.1" opacity="0.18"/><line x1="342" y1="105" x2="326" y2="137" stroke="#b07a72" stroke-width="0.7" opacity="0.17"/><line x1="451" y1="179" x2="435" y2="209" stroke="#b07a72" stroke-width="0.9" opacity="0.10"/><line x1="681" y1="192" x2="706" y2="219" stroke="#c89a90" stroke-width="0.9" opacity="0.18"/><line x1="397" y1="300" x2="381" y2="308" stroke="#9a8a72" stroke-width="0.8" opacity="0.27"/><line x1="461" y1="121" x2="471" y2="140" stroke="#8e6a60" stroke-width="0.9" opacity="0.21"/><line x1="765" y1="252" x2="751" y2="266" stroke="#8e6a60" stroke-width="0.9" opacity="0.23"/><line x1="449" y1="101" x2="441" y2="117" stroke="#c89a90" stroke-width="0.9" opacity="0.11"/><line x1="837" y1="91" x2="851" y2="103" stroke="#8e6a60" stroke-width="0.8" opacity="0.20"/><line x1="368" y1="200" x2="359" y2="213" stroke="#8e6a60" stroke-width="0.6" opacity="0.15"/><line x1="772" y1="208" x2="747" y2="235" stroke="#c89a90" stroke-width="1.0" opacity="0.11"/><line x1="606" y1="234" x2="591" y2="251" stroke="#8e6a60" stroke-width="1.1" opacity="0.28"/><line x1="357" y1="165" x2="339" y2="198" stroke="#9a8a72" stroke-width="0.9" opacity="0.11"/><line x1="713" y1="261" x2="702" y2="274" stroke="#c89a90" stroke-width="0.7" opacity="0.21"/><line x1="291" y1="246" x2="281" y2="263" stroke="#b07a72" stroke-width="1.0" opacity="0.23"/><line x1="598" y1="274" x2="579" y2="279" stroke="#b88e84" stroke-width="1.0" opacity="0.26"/><line x1="735" y1="116" x2="717" y2="136" stroke="#8e6a60" stroke-width="0.6" opacity="0.23"/><line x1="633" y1="106" x2="615" y2="124" stroke="#c89a90" stroke-width="1.0" opacity="0.13"/><line x1="358" y1="271" x2="325" y2="280" stroke="#b07a72" stroke-width="0.7" opacity="0.19"/><line x1="284" y1="293" x2="258" y2="304" stroke="#c89a90" stroke-width="1.1" opacity="0.13"/><line x1="781" y1="257" x2="766" y2="276" stroke="#c89a90" stroke-width="1.1" opacity="0.16"/><line x1="796" y1="223" x2="827" y2="250" stroke="#b88e84" stroke-width="0.7" opacity="0.19"/><line x1="829" y1="293" x2="807" y2="300" stroke="#b07a72" stroke-width="0.9" opacity="0.10"/><line x1="386" y1="222" x2="372" y2="251" stroke="#c89a90" stroke-width="0.8" opacity="0.27"/><line x1="735" y1="218" x2="708" y2="250" stroke="#b07a72" stroke-width="0.7" opacity="0.16"/><line x1="805" y1="296" x2="791" y2="299" stroke="#9a8a72" stroke-width="0.8" opacity="0.23"/><line x1="456" y1="137" x2="439" y2="176" stroke="#b88e84" stroke-width="1.0" opacity="0.12"/><line x1="858" y1="301" x2="825" y2="312" stroke="#9a6c62" stroke-width="0.8" opacity="0.23"/><line x1="635" y1="208" x2="617" y2="225" stroke="#8e6a60" stroke-width="0.9" opacity="0.18"/><line x1="426" y1="163" x2="442" y2="195" stroke="#9a6c62" stroke-width="0.8" opacity="0.14"/><line x1="759" y1="114" x2="741" y2="135" stroke="#c89a90" stroke-width="0.7" opacity="0.16"/><line x1="760" y1="195" x2="747" y2="207" stroke="#b88e84" stroke-width="1.0" opacity="0.15"/><line x1="717" y1="231" x2="698" y2="246" stroke="#b07a72" stroke-width="1.0" opacity="0.27"/><line x1="515" y1="100" x2="542" y2="134" stroke="#b07a72" stroke-width="1.1" opacity="0.25"/><line x1="619" y1="218" x2="608" y2="232" stroke="#b88e84" stroke-width="0.7" opacity="0.11"/><line x1="767" y1="141" x2="784" y2="158" stroke="#9a8a72" stroke-width="1.1" opacity="0.12"/><line x1="639" y1="305" x2="599" y2="325" stroke="#b88e84" stroke-width="1.1" opacity="0.18"/><line x1="798" y1="167" x2="809" y2="178" stroke="#8e6a60" stroke-width="0.8" opacity="0.23"/><line x1="580" y1="179" x2="563" y2="196" stroke="#b88e84" stroke-width="0.7" opacity="0.18"/><line x1="352" y1="234" x2="336" y2="263" stroke="#c89a90" stroke-width="0.8" opacity="0.20"/><line x1="345" y1="135" x2="329" y2="160" stroke="#9a8a72" stroke-width="1.1" opacity="0.20"/><line x1="722" y1="202" x2="699" y2="222" stroke="#9a6c62" stroke-width="0.8" opacity="0.13"/><line x1="464" y1="140" x2="490" y2="175" stroke="#8e6a60" stroke-width="0.8" opacity="0.21"/><line x1="407" y1="126" x2="399" y2="145" stroke="#8e6a60" stroke-width="1.0" opacity="0.27"/><line x1="399" y1="289" x2="375" y2="295" stroke="#b88e84" stroke-width="0.7" opacity="0.21"/><line x1="783" y1="253" x2="764" y2="283" stroke="#8e6a60" stroke-width="0.9" opacity="0.20"/><line x1="832" y1="205" x2="846" y2="212" stroke="#b07a72" stroke-width="0.7" opacity="0.14"/><line x1="600" y1="88" x2="584" y2="101" stroke="#b88e84" stroke-width="0.8" opacity="0.13"/><line x1="781" y1="294" x2="764" y2="302" stroke="#9a8a72" stroke-width="1.1" opacity="0.24"/><line x1="809" y1="292" x2="785" y2="298" stroke="#9a8a72" stroke-width="0.8" opacity="0.12"/><line x1="453" y1="120" x2="440" y2="144" stroke="#9a8a72" stroke-width="1.1" opacity="0.22"/><line x1="709" y1="308" x2="689" y2="314" stroke="#8e6a60" stroke-width="1.0" opacity="0.17"/><line x1="736" y1="158" x2="704" y2="186" stroke="#8e6a60" stroke-width="0.8" opacity="0.28"/><line x1="650" y1="306" x2="630" y2="311" stroke="#8e6a60" stroke-width="0.7" opacity="0.19"/><line x1="472" y1="106" x2="481" y2="123" stroke="#b07a72" stroke-width="1.0" opacity="0.22"/><line x1="733" y1="168" x2="718" y2="184" stroke="#b07a72" stroke-width="0.8" opacity="0.24"/><line x1="727" y1="99" x2="692" y2="125" stroke="#c89a90" stroke-width="0.8" opacity="0.17"/><line x1="613" y1="112" x2="585" y2="140" stroke="#9a8a72" stroke-width="1.0" opacity="0.14"/><line x1="551" y1="277" x2="538" y2="284" stroke="#9a6c62" stroke-width="1.1" opacity="0.11"/><line x1="366" y1="177" x2="351" y2="203" stroke="#b07a72" stroke-width="0.8" opacity="0.28"/><line x1="840" y1="255" x2="854" y2="267" stroke="#c89a90" stroke-width="0.7" opacity="0.12"/><line x1="390" y1="133" x2="371" y2="164" stroke="#9a8a72" stroke-width="0.9" opacity="0.22"/><line x1="450" y1="111" x2="469" y2="145" stroke="#b88e84" stroke-width="0.6" opacity="0.10"/><line x1="312" y1="283" x2="285" y2="292" stroke="#b07a72" stroke-width="0.6" opacity="0.13"/><line x1="446" y1="107" x2="436" y2="131" stroke="#c89a90" stroke-width="1.0" opacity="0.15"/><line x1="675" y1="180" x2="655" y2="194" stroke="#c89a90" stroke-width="0.6" opacity="0.18"/><line x1="428" y1="286" x2="410" y2="292" stroke="#9a8a72" stroke-width="0.9" opacity="0.12"/><line x1="480" y1="216" x2="460" y2="250" stroke="#8e6a60" stroke-width="0.8" opacity="0.20"/><line x1="823" y1="201" x2="835" y2="211" stroke="#9a8a72" stroke-width="0.6" opacity="0.20"/><line x1="594" y1="223" x2="579" y2="235" stroke="#c89a90" stroke-width="0.7" opacity="0.28"/><line x1="892" y1="280" x2="868" y2="291" stroke="#9a8a72" stroke-width="0.8" opacity="0.28"/><line x1="666" y1="286" x2="628" y2="302" stroke="#b07a72" stroke-width="0.6" opacity="0.20"/><line x1="617" y1="291" x2="578" y2="305" stroke="#b07a72" stroke-width="1.0" opacity="0.21"/><line x1="597" y1="187" x2="585" y2="201" stroke="#8e6a60" stroke-width="0.9" opacity="0.27"/><line x1="766" y1="274" x2="727" y2="285" stroke="#c89a90" stroke-width="0.7" opacity="0.22"/><line x1="630" y1="200" x2="613" y2="220" stroke="#8e6a60" stroke-width="0.9" opacity="0.22"/><line x1="472" y1="144" x2="492" y2="180" stroke="#b07a72" stroke-width="0.8" opacity="0.24"/><line x1="459" y1="288" x2="425" y2="297" stroke="#b88e84" stroke-width="0.7" opacity="0.28"/><line x1="545" y1="284" x2="521" y2="294" stroke="#9a8a72" stroke-width="0.6" opacity="0.18"/><line x1="853" y1="184" x2="885" y2="209" stroke="#b07a72" stroke-width="0.9" opacity="0.13"/><line x1="459" y1="208" x2="444" y2="234" stroke="#8e6a60" stroke-width="0.6" opacity="0.13"/><line x1="801" y1="286" x2="775" y2="297" stroke="#9a6c62" stroke-width="1.0" opacity="0.15"/><line x1="794" y1="208" x2="770" y2="232" stroke="#b88e84" stroke-width="0.8" opacity="0.21"/><line x1="371" y1="294" x2="348" y2="302" stroke="#b88e84" stroke-width="1.0" opacity="0.15"/><line x1="799" y1="109" x2="814" y2="121" stroke="#8e6a60" stroke-width="1.0" opacity="0.14"/><line x1="400" y1="141" x2="386" y2="172" stroke="#8e6a60" stroke-width="0.6" opacity="0.24"/><line x1="758" y1="90" x2="734" y2="112" stroke="#b07a72" stroke-width="0.7" opacity="0.21"/><line x1="873" y1="257" x2="855" y2="277" stroke="#c89a90" stroke-width="1.0" opacity="0.18"/><line x1="398" y1="160" x2="382" y2="188" stroke="#8e6a60" stroke-width="0.7" opacity="0.19"/><line x1="689" y1="288" x2="658" y2="300" stroke="#8e6a60" stroke-width="0.7" opacity="0.22"/><line x1="571" y1="168" x2="555" y2="185" stroke="#9a6c62" stroke-width="0.7" opacity="0.23"/><line x1="840" y1="159" x2="856" y2="173" stroke="#b07a72" stroke-width="1.0" opacity="0.24"/><line x1="648" y1="245" x2="658" y2="255" stroke="#c89a90" stroke-width="1.1" opacity="0.15"/><line x1="529" y1="180" x2="506" y2="218" stroke="#b88e84" stroke-width="0.8" opacity="0.23"/><line x1="705" y1="239" x2="676" y2="259" stroke="#8e6a60" stroke-width="0.8" opacity="0.13"/><line x1="686" y1="220" x2="673" y2="233" stroke="#9a6c62" stroke-width="1.0" opacity="0.20"/><line x1="844" y1="243" x2="873" y2="265" stroke="#9a6c62" stroke-width="0.8" opacity="0.26"/><line x1="498" y1="227" x2="513" y2="251" stroke="#9a8a72" stroke-width="0.9" opacity="0.27"/><line x1="583" y1="294" x2="561" y2="302" stroke="#b07a72" stroke-width="1.0" opacity="0.13"/><line x1="820" y1="131" x2="845" y2="152" stroke="#b88e84" stroke-width="0.8" opacity="0.11"/><line x1="551" y1="138" x2="528" y2="158" stroke="#b88e84" stroke-width="0.8" opacity="0.24"/><line x1="313" y1="234" x2="300" y2="256" stroke="#c89a90" stroke-width="0.8" opacity="0.11"/><line x1="386" y1="176" x2="377" y2="198" stroke="#8e6a60" stroke-width="0.7" opacity="0.22"/><line x1="665" y1="147" x2="679" y2="166" stroke="#b07a72" stroke-width="0.8" opacity="0.21"/><line x1="364" y1="283" x2="343" y2="292" stroke="#9a8a72" stroke-width="0.9" opacity="0.19"/><line x1="539" y1="251" x2="520" y2="287" stroke="#9a6c62" stroke-width="1.0" opacity="0.13"/><line x1="849" y1="280" x2="831" y2="290" stroke="#b88e84" stroke-width="0.7" opacity="0.10"/><line x1="586" y1="117" x2="557" y2="142" stroke="#c89a90" stroke-width="1.0" opacity="0.15"/><line x1="605" y1="100" x2="579" y2="120" stroke="#9a8a72" stroke-width="1.0" opacity="0.11"/><line x1="331" y1="193" x2="323" y2="213" stroke="#9a8a72" stroke-width="0.7" opacity="0.23"/><line x1="668" y1="159" x2="689" y2="180" stroke="#8e6a60" stroke-width="0.9" opacity="0.12"/><line x1="799" y1="113" x2="784" y2="130" stroke="#b07a72" stroke-width="0.8" opacity="0.21"/><line x1="765" y1="285" x2="740" y2="291" stroke="#c89a90" stroke-width="0.7" opacity="0.11"/><line x1="580" y1="137" x2="562" y2="152" stroke="#b07a72" stroke-width="0.6" opacity="0.12"/><line x1="327" y1="224" x2="307" y2="262" stroke="#8e6a60" stroke-width="0.6" opacity="0.23"/><line x1="848" y1="241" x2="865" y2="256" stroke="#c89a90" stroke-width="0.6" opacity="0.25"/><line x1="828" y1="290" x2="796" y2="303" stroke="#c89a90" stroke-width="1.0" opacity="0.12"/><line x1="752" y1="99" x2="738" y2="112" stroke="#9a6c62" stroke-width="1.0" opacity="0.27"/><line x1="431" y1="262" x2="439" y2="279" stroke="#c89a90" stroke-width="0.8" opacity="0.18"/><line x1="802" y1="252" x2="828" y2="273" stroke="#b88e84" stroke-width="0.7" opacity="0.23"/><line x1="359" y1="187" x2="341" y2="220" stroke="#9a8a72" stroke-width="0.8" opacity="0.21"/><line x1="765" y1="233" x2="740" y2="258" stroke="#b88e84" stroke-width="0.8" opacity="0.19"/><line x1="836" y1="192" x2="855" y2="206" stroke="#9a8a72" stroke-width="1.0" opacity="0.19"/><line x1="742" y1="260" x2="715" y2="281" stroke="#9a6c62" stroke-width="0.9" opacity="0.22"/><line x1="660" y1="191" x2="677" y2="208" stroke="#9a8a72" stroke-width="0.9" opacity="0.13"/><line x1="796" y1="299" x2="783" y2="304" stroke="#b88e84" stroke-width="0.9" opacity="0.18"/><line x1="580" y1="127" x2="562" y2="143" stroke="#9a6c62" stroke-width="1.1" opacity="0.11"/><line x1="401" y1="240" x2="391" y2="259" stroke="#c89a90" stroke-width="0.8" opacity="0.20"/><line x1="313" y1="206" x2="294" y2="245" stroke="#9a8a72" stroke-width="0.9" opacity="0.12"/><line x1="525" y1="220" x2="504" y2="251" stroke="#8e6a60" stroke-width="0.9" opacity="0.26"/><line x1="623" y1="243" x2="606" y2="260" stroke="#b07a72" stroke-width="1.0" opacity="0.25"/><line x1="472" y1="270" x2="439" y2="281" stroke="#9a6c62" stroke-width="1.0" opacity="0.12"/><line x1="752" y1="141" x2="728" y2="163" stroke="#9a6c62" stroke-width="0.9" opacity="0.17"/><line x1="578" y1="283" x2="552" y2="290" stroke="#9a6c62" stroke-width="0.9" opacity="0.13"/><line x1="864" y1="181" x2="879" y2="194" stroke="#9a6c62" stroke-width="0.7" opacity="0.17"/><line x1="862" y1="286" x2="827" y2="298" stroke="#c89a90" stroke-width="0.8" opacity="0.21"/><line x1="617" y1="191" x2="587" y2="219" stroke="#b88e84" stroke-width="0.9" opacity="0.13"/><line x1="789" y1="113" x2="762" y2="143" stroke="#8e6a60" stroke-width="1.0" opacity="0.18"/><line x1="654" y1="252" x2="625" y2="284" stroke="#9a6c62" stroke-width="0.8" opacity="0.12"/><line x1="525" y1="254" x2="541" y2="280" stroke="#9a6c62" stroke-width="1.0" opacity="0.27"/><line x1="669" y1="136" x2="690" y2="163" stroke="#9a8a72" stroke-width="0.7" opacity="0.23"/><line x1="610" y1="239" x2="583" y2="264" stroke="#8e6a60" stroke-width="0.8" opacity="0.20"/><line x1="692" y1="187" x2="709" y2="212" stroke="#c89a90" stroke-width="1.0" opacity="0.19"/><line x1="694" y1="135" x2="667" y2="157" stroke="#b88e84" stroke-width="1.0" opacity="0.22"/><line x1="448" y1="267" x2="414" y2="284" stroke="#b07a72" stroke-width="0.9" opacity="0.22"/><line x1="623" y1="141" x2="604" y2="159" stroke="#8e6a60" stroke-width="1.0" opacity="0.24"/><line x1="443" y1="245" x2="466" y2="282" stroke="#9a8a72" stroke-width="0.8" opacity="0.20"/><line x1="661" y1="273" x2="624" y2="283" stroke="#9a8a72" stroke-width="1.0" opacity="0.22"/><line x1="750" y1="218" x2="775" y2="243" stroke="#b88e84" stroke-width="0.7" opacity="0.13"/><line x1="702" y1="132" x2="689" y2="144" stroke="#b07a72" stroke-width="0.8" opacity="0.20"/><line x1="340" y1="226" x2="330" y2="248" stroke="#9a8a72" stroke-width="1.1" opacity="0.11"/><line x1="863" y1="229" x2="841" y2="255" stroke="#c89a90" stroke-width="1.0" opacity="0.20"/><line x1="303" y1="256" x2="282" y2="293" stroke="#8e6a60" stroke-width="0.6" opacity="0.19"/><line x1="527" y1="215" x2="508" y2="251" stroke="#9a8a72" stroke-width="0.8" opacity="0.16"/><line x1="398" y1="266" x2="357" y2="281" stroke="#9a8a72" stroke-width="0.6" opacity="0.22"/><line x1="547" y1="302" x2="516" y2="313" stroke="#b07a72" stroke-width="0.9" opacity="0.16"/><line x1="508" y1="216" x2="527" y2="238" stroke="#9a6c62" stroke-width="0.9" opacity="0.19"/><line x1="574" y1="158" x2="557" y2="174" stroke="#b07a72" stroke-width="1.1" opacity="0.13"/><line x1="881" y1="216" x2="897" y2="229" stroke="#9a8a72" stroke-width="1.0" opacity="0.26"/><line x1="533" y1="113" x2="556" y2="148" stroke="#9a8a72" stroke-width="0.9" opacity="0.10"/><line x1="725" y1="97" x2="701" y2="126" stroke="#8e6a60" stroke-width="0.6" opacity="0.25"/><line x1="852" y1="185" x2="873" y2="201" stroke="#b07a72" stroke-width="0.8" opacity="0.12"/><line x1="296" y1="265" x2="261" y2="282" stroke="#9a6c62" stroke-width="1.1" opacity="0.12"/><line x1="770" y1="159" x2="804" y2="185" stroke="#c89a90" stroke-width="0.8" opacity="0.22"/><line x1="565" y1="214" x2="549" y2="234" stroke="#8e6a60" stroke-width="0.7" opacity="0.21"/><line x1="450" y1="298" x2="411" y2="308" stroke="#9a8a72" stroke-width="0.8" opacity="0.27"/><line x1="618" y1="220" x2="609" y2="230" stroke="#8e6a60" stroke-width="0.8" opacity="0.20"/><line x1="741" y1="260" x2="718" y2="284" stroke="#8e6a60" stroke-width="0.7" opacity="0.13"/><line x1="659" y1="148" x2="634" y2="177" stroke="#b07a72" stroke-width="1.0" opacity="0.27"/><line x1="615" y1="157" x2="604" y2="170" stroke="#9a8a72" stroke-width="0.9" opacity="0.27"/><line x1="489" y1="247" x2="475" y2="277" stroke="#b88e84" stroke-width="0.8" opacity="0.18"/><line x1="659" y1="160" x2="681" y2="182" stroke="#9a6c62" stroke-width="1.1" opacity="0.13"/><line x1="460" y1="274" x2="428" y2="284" stroke="#9a6c62" stroke-width="1.0" opacity="0.12"/><line x1="735" y1="296" x2="712" y2="305" stroke="#9a6c62" stroke-width="0.8" opacity="0.12"/><line x1="678" y1="107" x2="663" y2="118" stroke="#8e6a60" stroke-width="0.7" opacity="0.23"/><line x1="665" y1="260" x2="640" y2="282" stroke="#8e6a60" stroke-width="0.9" opacity="0.24"/><line x1="394" y1="97" x2="377" y2="134" stroke="#8e6a60" stroke-width="0.8" opacity="0.24"/><line x1="495" y1="141" x2="513" y2="163" stroke="#b07a72" stroke-width="0.8" opacity="0.19"/><line x1="689" y1="289" x2="658" y2="298" stroke="#b88e84" stroke-width="1.0" opacity="0.13"/><line x1="359" y1="222" x2="340" y2="257" stroke="#b88e84" stroke-width="1.0" opacity="0.19"/><line x1="490" y1="140" x2="504" y2="157" stroke="#b88e84" stroke-width="0.6" opacity="0.14"/><line x1="850" y1="174" x2="880" y2="200" stroke="#b07a72" stroke-width="1.1" opacity="0.16"/><line x1="716" y1="212" x2="698" y2="224" stroke="#8e6a60" stroke-width="0.9" opacity="0.17"/><line x1="503" y1="227" x2="490" y2="249" stroke="#b88e84" stroke-width="0.9" opacity="0.16"/><line x1="823" y1="203" x2="834" y2="213" stroke="#b88e84" stroke-width="0.8" opacity="0.14"/><line x1="592" y1="155" x2="580" y2="169" stroke="#8e6a60" stroke-width="1.0" opacity="0.12"/><line x1="406" y1="280" x2="379" y2="289" stroke="#c89a90" stroke-width="0.8" opacity="0.21"/><line x1="679" y1="185" x2="659" y2="210" stroke="#b88e84" stroke-width="0.7" opacity="0.19"/><line x1="838" y1="123" x2="854" y2="134" stroke="#c89a90" stroke-width="0.9" opacity="0.20"/><line x1="267" y1="259" x2="256" y2="278" stroke="#b07a72" stroke-width="0.7" opacity="0.21"/><line x1="564" y1="202" x2="546" y2="222" stroke="#b88e84" stroke-width="1.0" opacity="0.25"/><line x1="374" y1="244" x2="359" y2="277" stroke="#9a6c62" stroke-width="1.1" opacity="0.21"/><line x1="342" y1="92" x2="322" y2="128" stroke="#9a8a72" stroke-width="0.8" opacity="0.13"/><line x1="318" y1="201" x2="311" y2="214" stroke="#8e6a60" stroke-width="0.9" opacity="0.12"/><line x1="571" y1="119" x2="543" y2="146" stroke="#9a8a72" stroke-width="0.9" opacity="0.19"/><line x1="498" y1="98" x2="521" y2="128" stroke="#c89a90" stroke-width="0.8" opacity="0.24"/><line x1="850" y1="286" x2="824" y2="295" stroke="#9a6c62" stroke-width="0.8" opacity="0.14"/><line x1="818" y1="155" x2="805" y2="170" stroke="#9a8a72" stroke-width="1.0" opacity="0.10"/><line x1="597" y1="211" x2="583" y2="226" stroke="#9a6c62" stroke-width="0.8" opacity="0.12"/><line x1="534" y1="227" x2="547" y2="250" stroke="#9a6c62" stroke-width="0.9" opacity="0.28"/><line x1="515" y1="136" x2="535" y2="160" stroke="#c89a90" stroke-width="0.7" opacity="0.16"/><line x1="481" y1="255" x2="461" y2="283" stroke="#9a8a72" stroke-width="0.7" opacity="0.24"/><line x1="588" y1="274" x2="557" y2="283" stroke="#9a8a72" stroke-width="1.0" opacity="0.13"/><line x1="861" y1="191" x2="882" y2="206" stroke="#8e6a60" stroke-width="0.6" opacity="0.17"/><line x1="596" y1="257" x2="566" y2="286" stroke="#b88e84" stroke-width="0.9" opacity="0.18"/><line x1="387" y1="244" x2="375" y2="263" stroke="#b07a72" stroke-width="1.0" opacity="0.19"/><line x1="712" y1="234" x2="728" y2="248" stroke="#b07a72" stroke-width="1.1" opacity="0.12"/><line x1="436" y1="183" x2="446" y2="200" stroke="#b07a72" stroke-width="1.0" opacity="0.11"/><line x1="798" y1="305" x2="759" y2="321" stroke="#9a6c62" stroke-width="0.7" opacity="0.27"/><line x1="553" y1="184" x2="541" y2="199" stroke="#8e6a60" stroke-width="0.7" opacity="0.11"/><line x1="829" y1="281" x2="796" y2="292" stroke="#c89a90" stroke-width="0.9" opacity="0.24"/><line x1="556" y1="197" x2="545" y2="207" stroke="#b07a72" stroke-width="0.7" opacity="0.17"/><line x1="772" y1="140" x2="758" y2="159" stroke="#9a6c62" stroke-width="0.9" opacity="0.10"/><line x1="800" y1="147" x2="829" y2="170" stroke="#9a6c62" stroke-width="0.6" opacity="0.27"/><line x1="567" y1="172" x2="550" y2="186" stroke="#9a8a72" stroke-width="0.9" opacity="0.26"/><line x1="582" y1="135" x2="552" y2="162" stroke="#b88e84" stroke-width="0.7" opacity="0.25"/><line x1="803" y1="172" x2="816" y2="182" stroke="#9a8a72" stroke-width="0.8" opacity="0.10"/><line x1="810" y1="176" x2="846" y2="201" stroke="#8e6a60" stroke-width="1.0" opacity="0.19"/><line x1="439" y1="141" x2="426" y2="177" stroke="#c89a90" stroke-width="1.1" opacity="0.11"/><line x1="482" y1="292" x2="456" y2="300" stroke="#b07a72" stroke-width="0.9" opacity="0.18"/><line x1="706" y1="91" x2="695" y2="103" stroke="#9a6c62" stroke-width="0.9" opacity="0.15"/><line x1="614" y1="144" x2="592" y2="167" stroke="#9a6c62" stroke-width="0.7" opacity="0.18"/><line x1="530" y1="266" x2="505" y2="276" stroke="#c89a90" stroke-width="0.7" opacity="0.12"/><line x1="632" y1="142" x2="618" y2="159" stroke="#b88e84" stroke-width="0.9" opacity="0.25"/><line x1="383" y1="278" x2="356" y2="286" stroke="#b07a72" stroke-width="0.7" opacity="0.19"/><line x1="594" y1="259" x2="576" y2="274" stroke="#8e6a60" stroke-width="1.0" opacity="0.11"/><line x1="396" y1="148" x2="387" y2="162" stroke="#9a8a72" stroke-width="0.8" opacity="0.16"/><line x1="424" y1="93" x2="410" y2="124" stroke="#8e6a60" stroke-width="0.7" opacity="0.20"/><line x1="680" y1="129" x2="655" y2="152" stroke="#c89a90" stroke-width="1.0" opacity="0.18"/><line x1="306" y1="233" x2="287" y2="271" stroke="#b88e84" stroke-width="0.9" opacity="0.27"/><line x1="531" y1="233" x2="539" y2="247" stroke="#b88e84" stroke-width="0.8" opacity="0.16"/><line x1="683" y1="256" x2="696" y2="274" stroke="#c89a90" stroke-width="1.0" opacity="0.27"/><line x1="745" y1="211" x2="730" y2="224" stroke="#b07a72" stroke-width="0.7" opacity="0.14"/><line x1="420" y1="264" x2="400" y2="270" stroke="#c89a90" stroke-width="0.7" opacity="0.11"/><line x1="831" y1="218" x2="852" y2="239" stroke="#b07a72" stroke-width="0.7" opacity="0.21"/><line x1="510" y1="142" x2="521" y2="157" stroke="#8e6a60" stroke-width="1.0" opacity="0.11"/><line x1="690" y1="292" x2="663" y2="303" stroke="#8e6a60" stroke-width="1.1" opacity="0.20"/><line x1="608" y1="228" x2="583" y2="254" stroke="#8e6a60" stroke-width="0.8" opacity="0.22"/><line x1="605" y1="303" x2="585" y2="311" stroke="#b07a72" stroke-width="0.8" opacity="0.17"/><line x1="425" y1="160" x2="409" y2="193" stroke="#b88e84" stroke-width="0.8" opacity="0.18"/><line x1="875" y1="201" x2="903" y2="227" stroke="#8e6a60" stroke-width="0.7" opacity="0.10"/><line x1="500" y1="186" x2="511" y2="201" stroke="#9a8a72" stroke-width="0.9" opacity="0.25"/><line x1="399" y1="107" x2="385" y2="132" stroke="#8e6a60" stroke-width="1.0" opacity="0.22"/><line x1="441" y1="264" x2="416" y2="271" stroke="#b07a72" stroke-width="0.7" opacity="0.15"/><line x1="672" y1="234" x2="649" y2="252" stroke="#9a6c62" stroke-width="0.6" opacity="0.11"/><line x1="605" y1="132" x2="591" y2="149" stroke="#9a8a72" stroke-width="0.8" opacity="0.10"/><line x1="397" y1="188" x2="382" y2="212" stroke="#9a6c62" stroke-width="0.8" opacity="0.24"/><line x1="471" y1="288" x2="456" y2="292" stroke="#c89a90" stroke-width="0.6" opacity="0.18"/><line x1="381" y1="287" x2="343" y2="298" stroke="#b07a72" stroke-width="1.1" opacity="0.23"/><line x1="385" y1="262" x2="355" y2="277" stroke="#b88e84" stroke-width="0.8" opacity="0.22"/><line x1="459" y1="165" x2="445" y2="191" stroke="#b07a72" stroke-width="0.7" opacity="0.21"/><line x1="385" y1="298" x2="365" y2="304" stroke="#b07a72" stroke-width="0.7" opacity="0.18"/><line x1="265" y1="276" x2="240" y2="285" stroke="#b88e84" stroke-width="0.6" opacity="0.11"/><line x1="768" y1="201" x2="747" y2="231" stroke="#b88e84" stroke-width="0.7" opacity="0.12"/><line x1="660" y1="309" x2="628" y2="316" stroke="#b07a72" stroke-width="0.8" opacity="0.13"/><line x1="606" y1="113" x2="590" y2="130" stroke="#8e6a60" stroke-width="1.0" opacity="0.24"/><line x1="783" y1="192" x2="804" y2="206" stroke="#9a8a72" stroke-width="0.7" opacity="0.26"/><line x1="573" y1="192" x2="549" y2="218" stroke="#b88e84" stroke-width="0.9" opacity="0.20"/><line x1="467" y1="199" x2="461" y2="217" stroke="#9a6c62" stroke-width="1.0" opacity="0.20"/><line x1="552" y1="272" x2="519" y2="284" stroke="#b07a72" stroke-width="0.9" opacity="0.17"/><line x1="661" y1="164" x2="639" y2="184" stroke="#c89a90" stroke-width="0.7" opacity="0.22"/><line x1="757" y1="125" x2="732" y2="147" stroke="#b07a72" stroke-width="0.6" opacity="0.22"/><line x1="372" y1="95" x2="364" y2="114" stroke="#b07a72" stroke-width="0.9" opacity="0.25"/><line x1="686" y1="213" x2="696" y2="225" stroke="#b88e84" stroke-width="0.9" opacity="0.11"/><line x1="864" y1="137" x2="894" y2="163" stroke="#c89a90" stroke-width="1.0" opacity="0.11"/><line x1="527" y1="175" x2="515" y2="194" stroke="#b07a72" stroke-width="1.0" opacity="0.25"/><line x1="595" y1="112" x2="578" y2="131" stroke="#b88e84" stroke-width="0.9" opacity="0.14"/><line x1="665" y1="130" x2="688" y2="159" stroke="#9a8a72" stroke-width="0.9" opacity="0.22"/><line x1="715" y1="189" x2="703" y2="204" stroke="#c89a90" stroke-width="0.9" opacity="0.22"/><line x1="605" y1="230" x2="573" y2="256" stroke="#8e6a60" stroke-width="1.1" opacity="0.16"/><line x1="498" y1="269" x2="465" y2="282" stroke="#8e6a60" stroke-width="0.7" opacity="0.20"/><line x1="501" y1="218" x2="517" y2="240" stroke="#c89a90" stroke-width="0.6" opacity="0.11"/><line x1="441" y1="92" x2="429" y2="111" stroke="#9a6c62" stroke-width="1.1" opacity="0.14"/><line x1="461" y1="271" x2="424" y2="280" stroke="#8e6a60" stroke-width="0.9" opacity="0.20"/><line x1="629" y1="110" x2="616" y2="124" stroke="#9a6c62" stroke-width="0.8" opacity="0.20"/><line x1="408" y1="280" x2="384" y2="292" stroke="#b88e84" stroke-width="1.0" opacity="0.23"/><line x1="774" y1="129" x2="748" y2="157" stroke="#b07a72" stroke-width="0.9" opacity="0.15"/><line x1="734" y1="225" x2="702" y2="252" stroke="#9a6c62" stroke-width="0.8" opacity="0.25"/><line x1="528" y1="294" x2="508" y2="299" stroke="#9a8a72" stroke-width="1.0" opacity="0.27"/><line x1="670" y1="238" x2="660" y2="249" stroke="#8e6a60" stroke-width="0.9" opacity="0.16"/><line x1="712" y1="124" x2="727" y2="145" stroke="#c89a90" stroke-width="1.0" opacity="0.20"/><line x1="314" y1="190" x2="304" y2="206" stroke="#9a6c62" stroke-width="0.6" opacity="0.20"/><line x1="311" y1="207" x2="301" y2="222" stroke="#b88e84" stroke-width="0.8" opacity="0.14"/><line x1="514" y1="223" x2="504" y2="243" stroke="#c89a90" stroke-width="0.8" opacity="0.27"/><line x1="314" y1="247" x2="303" y2="269" stroke="#9a6c62" stroke-width="0.8" opacity="0.22"/><line x1="759" y1="128" x2="725" y2="155" stroke="#c89a90" stroke-width="0.9" opacity="0.18"/><line x1="860" y1="143" x2="838" y2="172" stroke="#b07a72" stroke-width="0.7" opacity="0.11"/><line x1="877" y1="308" x2="839" y2="318" stroke="#b07a72" stroke-width="0.8" opacity="0.24"/><line x1="455" y1="200" x2="472" y2="225" stroke="#b88e84" stroke-width="0.9" opacity="0.24"/><line x1="614" y1="236" x2="587" y2="257" stroke="#9a8a72" stroke-width="0.6" opacity="0.20"/><line x1="690" y1="98" x2="677" y2="114" stroke="#9a8a72" stroke-width="0.9" opacity="0.11"/><line x1="684" y1="90" x2="657" y2="111" stroke="#9a8a72" stroke-width="0.8" opacity="0.12"/><line x1="447" y1="297" x2="406" y2="313" stroke="#8e6a60" stroke-width="1.1" opacity="0.12"/><line x1="462" y1="293" x2="443" y2="300" stroke="#8e6a60" stroke-width="1.1" opacity="0.20"/><line x1="722" y1="97" x2="741" y2="119" stroke="#9a8a72" stroke-width="0.7" opacity="0.16"/><line x1="486" y1="236" x2="459" y2="271" stroke="#9a6c62" stroke-width="1.0" opacity="0.21"/><line x1="831" y1="299" x2="816" y2="303" stroke="#8e6a60" stroke-width="1.1" opacity="0.14"/><line x1="479" y1="181" x2="468" y2="204" stroke="#9a8a72" stroke-width="0.9" opacity="0.21"/><line x1="404" y1="145" x2="387" y2="185" stroke="#8e6a60" stroke-width="0.8" opacity="0.20"/><line x1="390" y1="121" x2="372" y2="154" stroke="#b88e84" stroke-width="0.8" opacity="0.23"/><line x1="598" y1="120" x2="564" y2="147" stroke="#b88e84" stroke-width="0.9" opacity="0.20"/><line x1="359" y1="104" x2="342" y2="135" stroke="#b88e84" stroke-width="0.8" opacity="0.26"/><line x1="731" y1="269" x2="706" y2="276" stroke="#c89a90" stroke-width="0.8" opacity="0.23"/><line x1="793" y1="239" x2="771" y2="269" stroke="#b07a72" stroke-width="0.7" opacity="0.10"/><line x1="652" y1="233" x2="676" y2="258" stroke="#9a6c62" stroke-width="0.6" opacity="0.24"/><line x1="343" y1="289" x2="311" y2="300" stroke="#b88e84" stroke-width="1.0" opacity="0.19"/><line x1="345" y1="134" x2="332" y2="168" stroke="#b07a72" stroke-width="1.1" opacity="0.27"/><line x1="401" y1="247" x2="393" y2="266" stroke="#b88e84" stroke-width="1.1" opacity="0.28"/><line x1="823" y1="204" x2="854" y2="230" stroke="#c89a90" stroke-width="0.8" opacity="0.11"/><line x1="737" y1="178" x2="705" y2="206" stroke="#8e6a60" stroke-width="0.9" opacity="0.19"/><line x1="829" y1="275" x2="803" y2="284" stroke="#b07a72" stroke-width="1.0" opacity="0.14"/><line x1="379" y1="192" x2="359" y2="223" stroke="#9a6c62" stroke-width="0.8" opacity="0.18"/><line x1="657" y1="101" x2="672" y2="124" stroke="#9a8a72" stroke-width="0.8" opacity="0.23"/><line x1="329" y1="273" x2="295" y2="281" stroke="#b88e84" stroke-width="0.8" opacity="0.16"/><line x1="842" y1="300" x2="826" y2="305" stroke="#9a6c62" stroke-width="0.9" opacity="0.26"/><line x1="777" y1="258" x2="806" y2="278" stroke="#9a8a72" stroke-width="0.8" opacity="0.19"/><line x1="507" y1="275" x2="467" y2="290" stroke="#c89a90" stroke-width="0.9" opacity="0.11"/><line x1="367" y1="167" x2="345" y2="201" stroke="#b88e84" stroke-width="1.0" opacity="0.13"/><line x1="721" y1="187" x2="687" y2="213" stroke="#9a6c62" stroke-width="0.9" opacity="0.12"/><line x1="341" y1="136" x2="330" y2="155" stroke="#c89a90" stroke-width="0.8" opacity="0.19"/><line x1="784" y1="232" x2="811" y2="249" stroke="#c89a90" stroke-width="0.8" opacity="0.18"/><line x1="833" y1="154" x2="807" y2="183" stroke="#b07a72" stroke-width="0.7" opacity="0.11"/><line x1="484" y1="122" x2="463" y2="156" stroke="#9a6c62" stroke-width="0.8" opacity="0.12"/><line x1="361" y1="155" x2="343" y2="186" stroke="#8e6a60" stroke-width="1.0" opacity="0.13"/><line x1="553" y1="225" x2="540" y2="236" stroke="#9a6c62" stroke-width="0.8" opacity="0.26"/><line x1="792" y1="268" x2="777" y2="272" stroke="#c89a90" stroke-width="0.7" opacity="0.23"/><line x1="435" y1="213" x2="420" y2="242" stroke="#b07a72" stroke-width="0.9" opacity="0.28"/><line x1="601" y1="109" x2="578" y2="130" stroke="#9a8a72" stroke-width="0.7" opacity="0.21"/><line x1="462" y1="213" x2="476" y2="242" stroke="#c89a90" stroke-width="0.9" opacity="0.21"/><line x1="578" y1="131" x2="552" y2="155" stroke="#b88e84" stroke-width="0.6" opacity="0.10"/><line x1="665" y1="116" x2="631" y2="145" stroke="#c89a90" stroke-width="0.6" opacity="0.16"/><line x1="783" y1="138" x2="770" y2="157" stroke="#b07a72" stroke-width="0.8" opacity="0.19"/><line x1="467" y1="89" x2="486" y2="120" stroke="#8e6a60" stroke-width="1.1" opacity="0.25"/><line x1="382" y1="286" x2="355" y2="293" stroke="#c89a90" stroke-width="1.0" opacity="0.22"/><line x1="570" y1="237" x2="547" y2="256" stroke="#9a6c62" stroke-width="0.8" opacity="0.25"/><line x1="596" y1="222" x2="574" y2="243" stroke="#b07a72" stroke-width="0.7" opacity="0.22"/><line x1="779" y1="298" x2="739" y2="315" stroke="#9a6c62" stroke-width="1.0" opacity="0.16"/><line x1="501" y1="215" x2="488" y2="237" stroke="#8e6a60" stroke-width="0.7" opacity="0.24"/><line x1="457" y1="291" x2="436" y2="298" stroke="#b07a72" stroke-width="0.8" opacity="0.14"/><line x1="397" y1="160" x2="382" y2="194" stroke="#b88e84" stroke-width="1.1" opacity="0.18"/><line x1="583" y1="133" x2="555" y2="156" stroke="#8e6a60" stroke-width="0.8" opacity="0.16"/><line x1="759" y1="111" x2="770" y2="126" stroke="#9a8a72" stroke-width="0.6" opacity="0.17"/><line x1="821" y1="115" x2="848" y2="138" stroke="#8e6a60" stroke-width="1.0" opacity="0.16"/><line x1="837" y1="112" x2="827" y2="123" stroke="#9a6c62" stroke-width="0.9" opacity="0.14"/><line x1="386" y1="156" x2="369" y2="189" stroke="#9a8a72" stroke-width="0.7" opacity="0.13"/><line x1="434" y1="92" x2="425" y2="115" stroke="#9a6c62" stroke-width="0.7" opacity="0.27"/><line x1="782" y1="224" x2="808" y2="242" stroke="#9a6c62" stroke-width="0.9" opacity="0.11"/><line x1="311" y1="181" x2="291" y2="216" stroke="#9a8a72" stroke-width="1.0" opacity="0.23"/><line x1="659" y1="162" x2="633" y2="185" stroke="#8e6a60" stroke-width="0.6" opacity="0.27"/><line x1="756" y1="223" x2="724" y2="250" stroke="#c89a90" stroke-width="0.6" opacity="0.16"/><line x1="677" y1="270" x2="637" y2="284" stroke="#b88e84" stroke-width="1.0" opacity="0.21"/><line x1="853" y1="181" x2="836" y2="198" stroke="#9a6c62" stroke-width="0.8" opacity="0.11"/><line x1="566" y1="171" x2="553" y2="185" stroke="#9a6c62" stroke-width="0.9" opacity="0.12"/><line x1="322" y1="282" x2="300" y2="288" stroke="#9a8a72" stroke-width="0.6" opacity="0.15"/><line x1="557" y1="228" x2="543" y2="244" stroke="#b88e84" stroke-width="1.1" opacity="0.17"/><line x1="478" y1="281" x2="443" y2="293" stroke="#c89a90" stroke-width="0.9" opacity="0.16"/><line x1="710" y1="129" x2="740" y2="158" stroke="#8e6a60" stroke-width="1.0" opacity="0.12"/><line x1="645" y1="165" x2="631" y2="178" stroke="#c89a90" stroke-width="0.6" opacity="0.12"/><line x1="788" y1="271" x2="761" y2="281" stroke="#9a8a72" stroke-width="0.6" opacity="0.14"/><line x1="346" y1="226" x2="326" y2="258" stroke="#b88e84" stroke-width="0.9" opacity="0.18"/><line x1="446" y1="234" x2="465" y2="262" stroke="#9a6c62" stroke-width="0.7" opacity="0.24"/><line x1="700" y1="306" x2="666" y2="314" stroke="#9a6c62" stroke-width="1.1" opacity="0.20"/><line x1="656" y1="209" x2="643" y2="219" stroke="#8e6a60" stroke-width="1.1" opacity="0.10"/><line x1="327" y1="155" x2="317" y2="180" stroke="#8e6a60" stroke-width="0.8" opacity="0.16"/><line x1="506" y1="178" x2="491" y2="202" stroke="#b88e84" stroke-width="0.9" opacity="0.25"/><line x1="491" y1="187" x2="507" y2="217" stroke="#b88e84" stroke-width="0.6" opacity="0.22"/><line x1="349" y1="298" x2="308" y2="311" stroke="#b88e84" stroke-width="0.6" opacity="0.22"/><line x1="527" y1="196" x2="543" y2="219" stroke="#c89a90" stroke-width="0.9" opacity="0.18"/><line x1="488" y1="132" x2="467" y2="166" stroke="#b88e84" stroke-width="1.0" opacity="0.15"/><line x1="862" y1="225" x2="883" y2="247" stroke="#9a8a72" stroke-width="0.8" opacity="0.20"/><line x1="733" y1="213" x2="721" y2="223" stroke="#8e6a60" stroke-width="0.6" opacity="0.19"/><line x1="741" y1="316" x2="711" y2="330" stroke="#8e6a60" stroke-width="0.8" opacity="0.11"/><line x1="480" y1="273" x2="452" y2="283" stroke="#c89a90" stroke-width="0.9" opacity="0.16"/><line x1="448" y1="128" x2="462" y2="155" stroke="#b07a72" stroke-width="0.9" opacity="0.20"/><line x1="630" y1="244" x2="606" y2="270" stroke="#b07a72" stroke-width="0.7" opacity="0.11"/><line x1="586" y1="290" x2="570" y2="297" stroke="#9a6c62" stroke-width="0.7" opacity="0.15"/><line x1="741" y1="231" x2="761" y2="258" stroke="#9a6c62" stroke-width="1.0" opacity="0.15"/><line x1="714" y1="203" x2="728" y2="223" stroke="#b07a72" stroke-width="1.1" opacity="0.21"/><line x1="793" y1="287" x2="768" y2="294" stroke="#c89a90" stroke-width="0.7" opacity="0.18"/><line x1="673" y1="138" x2="682" y2="151" stroke="#9a6c62" stroke-width="1.0" opacity="0.12"/><line x1="365" y1="183" x2="349" y2="215" stroke="#8e6a60" stroke-width="0.7" opacity="0.22"/><line x1="510" y1="150" x2="538" y2="181" stroke="#c89a90" stroke-width="0.8" opacity="0.16"/><line x1="319" y1="214" x2="302" y2="249" stroke="#8e6a60" stroke-width="1.1" opacity="0.25"/><line x1="474" y1="151" x2="460" y2="179" stroke="#c89a90" stroke-width="1.0" opacity="0.23"/><line x1="736" y1="228" x2="712" y2="252" stroke="#b88e84" stroke-width="0.8" opacity="0.10"/><line x1="524" y1="212" x2="546" y2="241" stroke="#9a6c62" stroke-width="0.7" opacity="0.10"/><line x1="685" y1="286" x2="653" y2="294" stroke="#9a8a72" stroke-width="1.1" opacity="0.12"/><line x1="651" y1="177" x2="678" y2="210" stroke="#b07a72" stroke-width="0.9" opacity="0.15"/><line x1="673" y1="307" x2="649" y2="317" stroke="#9a8a72" stroke-width="1.0" opacity="0.16"/><line x1="361" y1="106" x2="348" y2="127" stroke="#9a6c62" stroke-width="1.1" opacity="0.15"/><line x1="787" y1="130" x2="820" y2="157" stroke="#8e6a60" stroke-width="0.8" opacity="0.22"/><line x1="326" y1="216" x2="311" y2="245" stroke="#b07a72" stroke-width="1.1" opacity="0.23"/><line x1="629" y1="147" x2="601" y2="177" stroke="#b88e84" stroke-width="0.9" opacity="0.10"/><line x1="354" y1="166" x2="348" y2="179" stroke="#9a8a72" stroke-width="1.1" opacity="0.19"/><line x1="541" y1="288" x2="505" y2="298" stroke="#8e6a60" stroke-width="0.7" opacity="0.17"/><line x1="706" y1="273" x2="679" y2="286" stroke="#9a6c62" stroke-width="0.8" opacity="0.15"/><line x1="679" y1="175" x2="659" y2="195" stroke="#9a6c62" stroke-width="0.9" opacity="0.13"/><line x1="380" y1="253" x2="362" y2="280" stroke="#9a6c62" stroke-width="0.8" opacity="0.26"/><line x1="542" y1="133" x2="533" y2="144" stroke="#8e6a60" stroke-width="0.7" opacity="0.17"/><line x1="774" y1="240" x2="806" y2="263" stroke="#c89a90" stroke-width="1.1" opacity="0.10"/><line x1="477" y1="168" x2="467" y2="186" stroke="#9a8a72" stroke-width="0.9" opacity="0.18"/><line x1="699" y1="295" x2="671" y2="308" stroke="#b07a72" stroke-width="0.6" opacity="0.13"/><line x1="683" y1="200" x2="709" y2="224" stroke="#b88e84" stroke-width="0.6" opacity="0.21"/><line x1="848" y1="283" x2="818" y2="297" stroke="#8e6a60" stroke-width="0.6" opacity="0.25"/><line x1="330" y1="229" x2="322" y2="243" stroke="#b88e84" stroke-width="0.8" opacity="0.25"/><line x1="632" y1="121" x2="603" y2="145" stroke="#b07a72" stroke-width="0.9" opacity="0.16"/><line x1="334" y1="121" x2="318" y2="153" stroke="#8e6a60" stroke-width="0.7" opacity="0.14"/><line x1="636" y1="120" x2="611" y2="141" stroke="#c89a90" stroke-width="1.0" opacity="0.10"/><line x1="574" y1="90" x2="563" y2="102" stroke="#9a8a72" stroke-width="0.9" opacity="0.15"/><line x1="709" y1="276" x2="693" y2="282" stroke="#b88e84" stroke-width="0.9" opacity="0.19"/><line x1="655" y1="97" x2="631" y2="119" stroke="#b07a72" stroke-width="0.9" opacity="0.24"/><line x1="483" y1="89" x2="464" y2="128" stroke="#b07a72" stroke-width="0.9" opacity="0.26"/><line x1="901" y1="208" x2="928" y2="229" stroke="#9a6c62" stroke-width="0.6" opacity="0.12"/><line x1="353" y1="288" x2="325" y2="295" stroke="#b88e84" stroke-width="0.9" opacity="0.11"/><line x1="677" y1="156" x2="654" y2="178" stroke="#c89a90" stroke-width="0.6" opacity="0.23"/><line x1="861" y1="130" x2="874" y2="141" stroke="#b88e84" stroke-width="1.0" opacity="0.21"/><line x1="469" y1="135" x2="478" y2="149" stroke="#b88e84" stroke-width="0.6" opacity="0.23"/><line x1="825" y1="177" x2="851" y2="195" stroke="#b07a72" stroke-width="1.0" opacity="0.13"/><line x1="863" y1="196" x2="886" y2="211" stroke="#b88e84" stroke-width="0.9" opacity="0.28"/><line x1="387" y1="118" x2="379" y2="132" stroke="#b88e84" stroke-width="0.7" opacity="0.18"/><line x1="529" y1="268" x2="508" y2="277" stroke="#b88e84" stroke-width="1.0" opacity="0.21"/><line x1="656" y1="128" x2="665" y2="142" stroke="#8e6a60" stroke-width="0.8" opacity="0.28"/><line x1="642" y1="286" x2="609" y2="300" stroke="#9a8a72" stroke-width="1.0" opacity="0.14"/><line x1="539" y1="141" x2="515" y2="174" stroke="#c89a90" stroke-width="1.1" opacity="0.11"/><line x1="563" y1="270" x2="536" y2="284" stroke="#c89a90" stroke-width="1.0" opacity="0.23"/><line x1="319" y1="205" x2="305" y2="239" stroke="#9a8a72" stroke-width="1.0" opacity="0.27"/><line x1="342" y1="158" x2="334" y2="173" stroke="#c89a90" stroke-width="0.9" opacity="0.13"/><line x1="556" y1="223" x2="525" y2="253" stroke="#c89a90" stroke-width="1.0" opacity="0.26"/><line x1="521" y1="275" x2="495" y2="286" stroke="#9a8a72" stroke-width="0.6" opacity="0.21"/><line x1="507" y1="252" x2="490" y2="284" stroke="#9a8a72" stroke-width="1.1" opacity="0.20"/><line x1="775" y1="275" x2="739" y2="292" stroke="#9a8a72" stroke-width="1.1" opacity="0.19"/><line x1="851" y1="174" x2="872" y2="188" stroke="#8e6a60" stroke-width="0.6" opacity="0.17"/><line x1="680" y1="255" x2="692" y2="271" stroke="#9a6c62" stroke-width="0.7" opacity="0.12"/><line x1="392" y1="265" x2="370" y2="275" stroke="#9a6c62" stroke-width="0.9" opacity="0.18"/><line x1="551" y1="207" x2="530" y2="225" stroke="#8e6a60" stroke-width="0.9" opacity="0.20"/><line x1="446" y1="235" x2="432" y2="273" stroke="#b07a72" stroke-width="0.6" opacity="0.26"/><line x1="327" y1="153" x2="312" y2="178" stroke="#b88e84" stroke-width="0.9" opacity="0.21"/><line x1="610" y1="119" x2="591" y2="139" stroke="#9a8a72" stroke-width="0.6" opacity="0.13"/><line x1="269" y1="278" x2="241" y2="286" stroke="#9a6c62" stroke-width="0.8" opacity="0.16"/><line x1="678" y1="165" x2="696" y2="189" stroke="#8e6a60" stroke-width="0.8" opacity="0.15"/><line x1="341" y1="275" x2="322" y2="284" stroke="#c89a90" stroke-width="0.8" opacity="0.15"/><line x1="809" y1="123" x2="824" y2="134" stroke="#b88e84" stroke-width="1.0" opacity="0.15"/><line x1="892" y1="287" x2="860" y2="297" stroke="#b88e84" stroke-width="0.7" opacity="0.12"/><line x1="544" y1="176" x2="521" y2="202" stroke="#9a8a72" stroke-width="0.8" opacity="0.16"/><line x1="499" y1="216" x2="490" y2="231" stroke="#b07a72" stroke-width="0.8" opacity="0.19"/><line x1="350" y1="197" x2="344" y2="209" stroke="#9a8a72" stroke-width="0.9" opacity="0.19"/><line x1="679" y1="158" x2="648" y2="178" stroke="#8e6a60" stroke-width="0.9" opacity="0.24"/><line x1="732" y1="307" x2="716" y2="313" stroke="#c89a90" stroke-width="1.1" opacity="0.13"/><line x1="616" y1="161" x2="589" y2="189" stroke="#c89a90" stroke-width="0.8" opacity="0.16"/><line x1="653" y1="134" x2="683" y2="165" stroke="#9a6c62" stroke-width="0.7" opacity="0.12"/><line x1="811" y1="248" x2="829" y2="267" stroke="#c89a90" stroke-width="0.8" opacity="0.21"/><line x1="873" y1="303" x2="856" y2="310" stroke="#c89a90" stroke-width="0.8" opacity="0.17"/><line x1="441" y1="171" x2="448" y2="186" stroke="#9a8a72" stroke-width="1.0" opacity="0.23"/><line x1="527" y1="193" x2="503" y2="228" stroke="#c89a90" stroke-width="1.0" opacity="0.17"/><line x1="802" y1="230" x2="825" y2="246" stroke="#8e6a60" stroke-width="1.1" opacity="0.11"/><line x1="884" y1="267" x2="860" y2="279" stroke="#9a6c62" stroke-width="0.8" opacity="0.20"/><line x1="720" y1="267" x2="702" y2="275" stroke="#c89a90" stroke-width="0.7" opacity="0.19"/><line x1="794" y1="160" x2="775" y2="184" stroke="#c89a90" stroke-width="0.7" opacity="0.24"/><line x1="356" y1="159" x2="339" y2="188" stroke="#b07a72" stroke-width="0.9" opacity="0.26"/><line x1="528" y1="205" x2="514" y2="238" stroke="#c89a90" stroke-width="1.1" opacity="0.11"/><line x1="743" y1="226" x2="758" y2="242" stroke="#9a8a72" stroke-width="0.8" opacity="0.22"/><line x1="333" y1="209" x2="314" y2="244" stroke="#b88e84" stroke-width="0.9" opacity="0.13"/><line x1="557" y1="252" x2="546" y2="264" stroke="#9a6c62" stroke-width="0.8" opacity="0.26"/><line x1="488" y1="157" x2="470" y2="189" stroke="#b88e84" stroke-width="1.0" opacity="0.21"/><line x1="364" y1="164" x2="348" y2="200" stroke="#9a6c62" stroke-width="0.7" opacity="0.23"/><line x1="492" y1="215" x2="500" y2="227" stroke="#8e6a60" stroke-width="0.7" opacity="0.24"/><line x1="525" y1="306" x2="506" y2="315" stroke="#8e6a60" stroke-width="0.7" opacity="0.13"/><line x1="843" y1="233" x2="818" y2="258" stroke="#9a8a72" stroke-width="1.0" opacity="0.12"/><line x1="557" y1="106" x2="525" y2="133" stroke="#c89a90" stroke-width="0.8" opacity="0.22"/><line x1="346" y1="193" x2="329" y2="217" stroke="#9a6c62" stroke-width="0.7" opacity="0.15"/><line x1="743" y1="116" x2="729" y2="128" stroke="#b88e84" stroke-width="0.8" opacity="0.14"/><line x1="898" y1="189" x2="928" y2="210" stroke="#c89a90" stroke-width="0.6" opacity="0.12"/><line x1="774" y1="210" x2="806" y2="236" stroke="#b07a72" stroke-width="0.6" opacity="0.22"/><line x1="749" y1="273" x2="730" y2="278" stroke="#b88e84" stroke-width="0.7" opacity="0.16"/><line x1="314" y1="288" x2="273" y2="299" stroke="#9a6c62" stroke-width="0.8" opacity="0.25"/><line x1="766" y1="233" x2="755" y2="246" stroke="#8e6a60" stroke-width="1.0" opacity="0.20"/><line x1="724" y1="317" x2="691" y2="332" stroke="#b07a72" stroke-width="1.1" opacity="0.12"/><line x1="395" y1="207" x2="382" y2="229" stroke="#8e6a60" stroke-width="0.7" opacity="0.22"/><line x1="325" y1="286" x2="299" y2="292" stroke="#8e6a60" stroke-width="0.7" opacity="0.12"/><line x1="327" y1="120" x2="309" y2="150" stroke="#8e6a60" stroke-width="1.0" opacity="0.11"/><line x1="578" y1="179" x2="553" y2="205" stroke="#9a8a72" stroke-width="1.1" opacity="0.18"/><line x1="618" y1="157" x2="603" y2="170" stroke="#b07a72" stroke-width="1.0" opacity="0.24"/><line x1="870" y1="175" x2="890" y2="196" stroke="#b07a72" stroke-width="0.8" opacity="0.19"/><line x1="698" y1="116" x2="674" y2="137" stroke="#b07a72" stroke-width="1.0" opacity="0.26"/><line x1="366" y1="174" x2="357" y2="193" stroke="#c89a90" stroke-width="0.7" opacity="0.25"/><line x1="730" y1="154" x2="749" y2="180" stroke="#9a8a72" stroke-width="1.1" opacity="0.16"/><line x1="692" y1="313" x2="663" y2="320" stroke="#b88e84" stroke-width="1.0" opacity="0.12"/><line x1="419" y1="206" x2="410" y2="222" stroke="#b07a72" stroke-width="1.0" opacity="0.25"/><line x1="581" y1="94" x2="560" y2="119" stroke="#9a6c62" stroke-width="0.7" opacity="0.21"/><line x1="747" y1="270" x2="728" y2="275" stroke="#9a8a72" stroke-width="0.8" opacity="0.19"/><line x1="610" y1="280" x2="597" y2="285" stroke="#b07a72" stroke-width="1.1" opacity="0.26"/><line x1="333" y1="195" x2="318" y2="218" stroke="#b07a72" stroke-width="0.6" opacity="0.20"/><line x1="819" y1="160" x2="803" y2="182" stroke="#9a6c62" stroke-width="1.0" opacity="0.19"/><line x1="327" y1="248" x2="309" y2="278" stroke="#8e6a60" stroke-width="0.8" opacity="0.20"/><line x1="357" y1="101" x2="344" y2="130" stroke="#c89a90" stroke-width="0.9" opacity="0.16"/><line x1="803" y1="171" x2="779" y2="199" stroke="#9a8a72" stroke-width="0.8" opacity="0.12"/><line x1="481" y1="173" x2="495" y2="189" stroke="#b88e84" stroke-width="0.9" opacity="0.21"/><line x1="851" y1="104" x2="868" y2="113" stroke="#8e6a60" stroke-width="0.8" opacity="0.18"/><line x1="821" y1="223" x2="850" y2="241" stroke="#8e6a60" stroke-width="0.6" opacity="0.16"/><line x1="629" y1="164" x2="610" y2="187" stroke="#9a8a72" stroke-width="0.9" opacity="0.16"/><line x1="584" y1="269" x2="554" y2="282" stroke="#9a6c62" stroke-width="1.1" opacity="0.14"/><line x1="671" y1="319" x2="636" y2="336" stroke="#b88e84" stroke-width="0.7" opacity="0.11"/><line x1="403" y1="264" x2="368" y2="281" stroke="#b07a72" stroke-width="0.9" opacity="0.15"/><line x1="626" y1="214" x2="609" y2="231" stroke="#b07a72" stroke-width="0.9" opacity="0.15"/><line x1="782" y1="191" x2="766" y2="212" stroke="#9a6c62" stroke-width="0.9" opacity="0.18"/><line x1="755" y1="131" x2="734" y2="151" stroke="#b88e84" stroke-width="0.9" opacity="0.14"/><line x1="885" y1="264" x2="846" y2="279" stroke="#8e6a60" stroke-width="1.0" opacity="0.25"/><line x1="731" y1="102" x2="718" y2="116" stroke="#b88e84" stroke-width="1.0" opacity="0.24"/><line x1="808" y1="185" x2="837" y2="212" stroke="#9a6c62" stroke-width="1.0" opacity="0.22"/><line x1="423" y1="230" x2="433" y2="246" stroke="#b07a72" stroke-width="0.7" opacity="0.25"/><line x1="559" y1="221" x2="536" y2="245" stroke="#b07a72" stroke-width="0.7" opacity="0.15"/><line x1="274" y1="275" x2="246" y2="287" stroke="#9a8a72" stroke-width="1.0" opacity="0.27"/><line x1="573" y1="93" x2="561" y2="103" stroke="#8e6a60" stroke-width="0.7" opacity="0.11"/><line x1="881" y1="301" x2="842" y2="313" stroke="#c89a90" stroke-width="1.1" opacity="0.23"/><line x1="347" y1="115" x2="325" y2="150" stroke="#8e6a60" stroke-width="0.9" opacity="0.20"/><line x1="763" y1="212" x2="745" y2="224" stroke="#b07a72" stroke-width="1.0" opacity="0.16"/><line x1="800" y1="263" x2="765" y2="273" stroke="#c89a90" stroke-width="0.7" opacity="0.12"/><line x1="395" y1="153" x2="377" y2="189" stroke="#b07a72" stroke-width="0.8" opacity="0.17"/><line x1="876" y1="163" x2="894" y2="175" stroke="#9a6c62" stroke-width="1.0" opacity="0.27"/><line x1="493" y1="258" x2="521" y2="290" stroke="#8e6a60" stroke-width="0.6" opacity="0.23"/><line x1="778" y1="101" x2="760" y2="126" stroke="#9a6c62" stroke-width="0.9" opacity="0.23"/><line x1="847" y1="250" x2="818" y2="278" stroke="#c89a90" stroke-width="0.6" opacity="0.27"/><line x1="863" y1="306" x2="824" y2="322" stroke="#b88e84" stroke-width="0.7" opacity="0.25"/><line x1="360" y1="192" x2="343" y2="227" stroke="#9a8a72" stroke-width="0.8" opacity="0.11"/><line x1="823" y1="283" x2="795" y2="290" stroke="#c89a90" stroke-width="1.1" opacity="0.16"/><line x1="532" y1="306" x2="515" y2="314" stroke="#9a6c62" stroke-width="0.9" opacity="0.16"/><line x1="649" y1="281" x2="623" y2="289" stroke="#b07a72" stroke-width="1.0" opacity="0.22"/><line x1="375" y1="193" x2="368" y2="205" stroke="#b88e84" stroke-width="0.9" opacity="0.16"/><line x1="799" y1="269" x2="766" y2="278" stroke="#9a6c62" stroke-width="0.8" opacity="0.26"/><line x1="342" y1="129" x2="331" y2="150" stroke="#9a6c62" stroke-width="0.7" opacity="0.17"/><line x1="374" y1="296" x2="335" y2="305" stroke="#b88e84" stroke-width="0.6" opacity="0.10"/><line x1="621" y1="233" x2="610" y2="246" stroke="#c89a90" stroke-width="0.7" opacity="0.23"/><line x1="366" y1="183" x2="356" y2="202" stroke="#b07a72" stroke-width="1.1" opacity="0.13"/><line x1="599" y1="271" x2="562" y2="281" stroke="#c89a90" stroke-width="0.7" opacity="0.23"/><line x1="380" y1="292" x2="358" y2="299" stroke="#c89a90" stroke-width="0.8" opacity="0.18"/><line x1="390" y1="139" x2="371" y2="169" stroke="#b88e84" stroke-width="0.8" opacity="0.17"/><line x1="351" y1="157" x2="337" y2="186" stroke="#b88e84" stroke-width="0.8" opacity="0.22"/><line x1="555" y1="90" x2="540" y2="109" stroke="#9a8a72" stroke-width="0.8" opacity="0.14"/><line x1="506" y1="188" x2="526" y2="212" stroke="#b07a72" stroke-width="0.8" opacity="0.14"/><line x1="647" y1="265" x2="627" y2="275" stroke="#8e6a60" stroke-width="0.8" opacity="0.28"/><line x1="695" y1="119" x2="709" y2="133" stroke="#b88e84" stroke-width="0.9" opacity="0.27"/><line x1="830" y1="119" x2="851" y2="136" stroke="#9a6c62" stroke-width="0.7" opacity="0.11"/><line x1="339" y1="295" x2="304" y2="304" stroke="#c89a90" stroke-width="0.7" opacity="0.26"/><line x1="656" y1="268" x2="635" y2="278" stroke="#b88e84" stroke-width="0.8" opacity="0.28"/><line x1="755" y1="124" x2="772" y2="145" stroke="#b88e84" stroke-width="0.7" opacity="0.14"/><line x1="717" y1="191" x2="700" y2="209" stroke="#9a8a72" stroke-width="0.9" opacity="0.18"/><line x1="329" y1="259" x2="319" y2="281" stroke="#b88e84" stroke-width="1.0" opacity="0.13"/><line x1="365" y1="209" x2="348" y2="246" stroke="#8e6a60" stroke-width="0.7" opacity="0.28"/><line x1="416" y1="206" x2="407" y2="228" stroke="#9a6c62" stroke-width="0.9" opacity="0.22"/><line x1="513" y1="228" x2="503" y2="243" stroke="#b07a72" stroke-width="0.8" opacity="0.23"/><line x1="569" y1="237" x2="547" y2="262" stroke="#9a6c62" stroke-width="1.1" opacity="0.22"/><line x1="878" y1="165" x2="848" y2="193" stroke="#8e6a60" stroke-width="0.7" opacity="0.26"/><line x1="780" y1="155" x2="802" y2="176" stroke="#8e6a60" stroke-width="0.8" opacity="0.17"/><line x1="822" y1="109" x2="852" y2="131" stroke="#9a6c62" stroke-width="0.9" opacity="0.27"/><line x1="356" y1="159" x2="337" y2="189" stroke="#9a6c62" stroke-width="1.1" opacity="0.21"/><line x1="490" y1="111" x2="507" y2="134" stroke="#c89a90" stroke-width="0.8" opacity="0.20"/><line x1="532" y1="267" x2="501" y2="276" stroke="#c89a90" stroke-width="0.9" opacity="0.12"/><line x1="698" y1="241" x2="718" y2="262" stroke="#9a8a72" stroke-width="0.9" opacity="0.12"/><line x1="562" y1="107" x2="544" y2="122" stroke="#b88e84" stroke-width="0.9" opacity="0.15"/><line x1="418" y1="189" x2="403" y2="216" stroke="#b07a72" stroke-width="0.9" opacity="0.19"/><line x1="526" y1="198" x2="545" y2="223" stroke="#8e6a60" stroke-width="0.6" opacity="0.23"/><line x1="558" y1="274" x2="543" y2="278" stroke="#c89a90" stroke-width="1.0" opacity="0.15"/><line x1="640" y1="196" x2="616" y2="218" stroke="#9a6c62" stroke-width="0.8" opacity="0.27"/><line x1="786" y1="138" x2="809" y2="160" stroke="#9a8a72" stroke-width="0.7" opacity="0.20"/><line x1="367" y1="201" x2="347" y2="236" stroke="#9a8a72" stroke-width="0.9" opacity="0.19"/><line x1="491" y1="248" x2="500" y2="262" stroke="#b88e84" stroke-width="0.6" opacity="0.12"/><line x1="818" y1="138" x2="805" y2="155" stroke="#9a8a72" stroke-width="1.0" opacity="0.20"/><line x1="311" y1="270" x2="287" y2="282" stroke="#b07a72" stroke-width="0.7" opacity="0.13"/><line x1="715" y1="316" x2="678" y2="330" stroke="#8e6a60" stroke-width="0.7" opacity="0.15"/><line x1="798" y1="181" x2="827" y2="196" stroke="#9a8a72" stroke-width="0.8" opacity="0.17"/><line x1="580" y1="225" x2="547" y2="254" stroke="#b07a72" stroke-width="0.8" opacity="0.19"/><line x1="642" y1="233" x2="665" y2="266" stroke="#b88e84" stroke-width="1.0" opacity="0.20"/><line x1="531" y1="163" x2="516" y2="193" stroke="#c89a90" stroke-width="0.7" opacity="0.21"/><line x1="678" y1="194" x2="663" y2="211" stroke="#b88e84" stroke-width="0.8" opacity="0.18"/><line x1="588" y1="227" x2="557" y2="255" stroke="#9a8a72" stroke-width="0.9" opacity="0.12"/><line x1="447" y1="257" x2="462" y2="288" stroke="#9a8a72" stroke-width="0.8" opacity="0.19"/><line x1="391" y1="252" x2="380" y2="278" stroke="#b88e84" stroke-width="0.7" opacity="0.21"/><line x1="321" y1="187" x2="308" y2="206" stroke="#b88e84" stroke-width="0.9" opacity="0.28"/><line x1="490" y1="150" x2="473" y2="186" stroke="#8e6a60" stroke-width="0.6" opacity="0.11"/><line x1="537" y1="234" x2="522" y2="259" stroke="#9a6c62" stroke-width="1.0" opacity="0.24"/><line x1="759" y1="220" x2="729" y2="246" stroke="#8e6a60" stroke-width="0.9" opacity="0.23"/><line x1="862" y1="192" x2="889" y2="216" stroke="#b07a72" stroke-width="1.0" opacity="0.21"/><line x1="817" y1="112" x2="808" y2="126" stroke="#9a8a72" stroke-width="0.7" opacity="0.14"/><line x1="492" y1="261" x2="507" y2="285" stroke="#b07a72" stroke-width="0.7" opacity="0.17"/><line x1="792" y1="117" x2="812" y2="134" stroke="#b07a72" stroke-width="0.7" opacity="0.25"/><line x1="479" y1="208" x2="463" y2="239" stroke="#c89a90" stroke-width="0.8" opacity="0.22"/><line x1="354" y1="267" x2="335" y2="274" stroke="#c89a90" stroke-width="0.8" opacity="0.17"/><line x1="555" y1="290" x2="532" y2="297" stroke="#b07a72" stroke-width="0.8" opacity="0.24"/><line x1="725" y1="211" x2="710" y2="229" stroke="#b88e84" stroke-width="0.8" opacity="0.17"/><line x1="354" y1="224" x2="329" y2="260" stroke="#9a8a72" stroke-width="1.0" opacity="0.28"/><line x1="530" y1="298" x2="491" y2="310" stroke="#9a8a72" stroke-width="1.0" opacity="0.26"/><line x1="601" y1="306" x2="575" y2="314" stroke="#b88e84" stroke-width="1.0" opacity="0.21"/><line x1="660" y1="193" x2="629" y2="214" stroke="#c89a90" stroke-width="1.0" opacity="0.26"/><line x1="310" y1="215" x2="294" y2="247" stroke="#b88e84" stroke-width="0.9" opacity="0.20"/><line x1="395" y1="209" x2="385" y2="231" stroke="#9a8a72" stroke-width="0.7" opacity="0.11"/><line x1="777" y1="228" x2="793" y2="245" stroke="#c89a90" stroke-width="1.1" opacity="0.12"/><line x1="666" y1="172" x2="634" y2="200" stroke="#c89a90" stroke-width="0.7" opacity="0.23"/><line x1="625" y1="300" x2="597" y2="309" stroke="#8e6a60" stroke-width="0.7" opacity="0.15"/><line x1="692" y1="281" x2="675" y2="287" stroke="#c89a90" stroke-width="0.9" opacity="0.14"/><line x1="470" y1="226" x2="479" y2="242" stroke="#c89a90" stroke-width="1.0" opacity="0.11"/><line x1="567" y1="194" x2="547" y2="215" stroke="#8e6a60" stroke-width="0.9" opacity="0.24"/><line x1="826" y1="226" x2="809" y2="248" stroke="#c89a90" stroke-width="1.0" opacity="0.18"/><line x1="362" y1="208" x2="349" y2="232" stroke="#9a8a72" stroke-width="0.9" opacity="0.20"/><line x1="710" y1="196" x2="678" y2="224" stroke="#9a6c62" stroke-width="1.1" opacity="0.12"/><line x1="813" y1="114" x2="826" y2="123" stroke="#b88e84" stroke-width="0.7" opacity="0.15"/><line x1="500" y1="158" x2="490" y2="173" stroke="#8e6a60" stroke-width="0.8" opacity="0.27"/><line x1="455" y1="155" x2="441" y2="180" stroke="#b07a72" stroke-width="0.9" opacity="0.11"/><line x1="458" y1="195" x2="470" y2="221" stroke="#9a8a72" stroke-width="1.0" opacity="0.12"/><line x1="346" y1="239" x2="328" y2="268" stroke="#b88e84" stroke-width="1.0" opacity="0.16"/><line x1="779" y1="245" x2="813" y2="268" stroke="#9a6c62" stroke-width="0.9" opacity="0.27"/><line x1="838" y1="262" x2="800" y2="275" stroke="#9a8a72" stroke-width="0.6" opacity="0.21"/><line x1="760" y1="161" x2="782" y2="183" stroke="#b88e84" stroke-width="1.1" opacity="0.20"/><line x1="751" y1="315" x2="717" y2="327" stroke="#8e6a60" stroke-width="1.0" opacity="0.12"/><line x1="868" y1="131" x2="884" y2="143" stroke="#9a8a72" stroke-width="1.0" opacity="0.20"/><line x1="310" y1="214" x2="297" y2="243" stroke="#c89a90" stroke-width="1.0" opacity="0.10"/><line x1="541" y1="186" x2="523" y2="201" stroke="#9a6c62" stroke-width="0.6" opacity="0.28"/><line x1="610" y1="156" x2="586" y2="184" stroke="#b88e84" stroke-width="0.8" opacity="0.17"/><line x1="366" y1="234" x2="359" y2="247" stroke="#b07a72" stroke-width="0.7" opacity="0.12"/><line x1="348" y1="300" x2="310" y2="316" stroke="#b07a72" stroke-width="0.6" opacity="0.14"/><line x1="646" y1="144" x2="661" y2="165" stroke="#b07a72" stroke-width="0.7" opacity="0.16"/><line x1="617" y1="104" x2="597" y2="129" stroke="#b07a72" stroke-width="0.7" opacity="0.27"/><line x1="697" y1="146" x2="708" y2="160" stroke="#8e6a60" stroke-width="0.8" opacity="0.12"/><line x1="671" y1="136" x2="642" y2="168" stroke="#b88e84" stroke-width="0.9" opacity="0.18"/><line x1="852" y1="195" x2="883" y2="225" stroke="#8e6a60" stroke-width="0.7" opacity="0.27"/><line x1="571" y1="230" x2="551" y2="246" stroke="#9a6c62" stroke-width="1.0" opacity="0.14"/><line x1="806" y1="155" x2="828" y2="176" stroke="#9a6c62" stroke-width="0.6" opacity="0.23"/><line x1="799" y1="260" x2="814" y2="273" stroke="#8e6a60" stroke-width="1.1" opacity="0.16"/><line x1="702" y1="169" x2="672" y2="189" stroke="#9a6c62" stroke-width="0.7" opacity="0.28"/><line x1="479" y1="197" x2="502" y2="223" stroke="#9a8a72" stroke-width="1.1" opacity="0.21"/><line x1="369" y1="220" x2="354" y2="244" stroke="#c89a90" stroke-width="0.9" opacity="0.24"/><line x1="680" y1="106" x2="650" y2="131" stroke="#c89a90" stroke-width="0.9" opacity="0.16"/><line x1="787" y1="284" x2="769" y2="291" stroke="#9a8a72" stroke-width="1.1" opacity="0.12"/><line x1="498" y1="134" x2="491" y2="147" stroke="#9a6c62" stroke-width="0.9" opacity="0.23"/><line x1="380" y1="281" x2="344" y2="293" stroke="#b88e84" stroke-width="0.7" opacity="0.19"/><line x1="493" y1="155" x2="476" y2="195" stroke="#9a8a72" stroke-width="0.8" opacity="0.26"/><line x1="628" y1="205" x2="604" y2="229" stroke="#8e6a60" stroke-width="0.9" opacity="0.21"/><line x1="370" y1="227" x2="361" y2="243" stroke="#8e6a60" stroke-width="1.0" opacity="0.26"/><line x1="732" y1="153" x2="764" y2="183" stroke="#9a8a72" stroke-width="0.9" opacity="0.15"/><line x1="622" y1="196" x2="596" y2="216" stroke="#9a8a72" stroke-width="0.6" opacity="0.27"/><line x1="434" y1="249" x2="449" y2="275" stroke="#b07a72" stroke-width="1.0" opacity="0.14"/><line x1="437" y1="188" x2="451" y2="209" stroke="#9a6c62" stroke-width="0.6" opacity="0.20"/><line x1="272" y1="263" x2="246" y2="269" stroke="#b07a72" stroke-width="1.1" opacity="0.14"/><line x1="471" y1="103" x2="460" y2="128" stroke="#b07a72" stroke-width="0.9" opacity="0.21"/><line x1="474" y1="147" x2="453" y2="185" stroke="#b07a72" stroke-width="1.0" opacity="0.19"/><line x1="410" y1="105" x2="397" y2="129" stroke="#b07a72" stroke-width="0.9" opacity="0.20"/><line x1="810" y1="103" x2="842" y2="125" stroke="#b07a72" stroke-width="0.8" opacity="0.21"/><line x1="298" y1="249" x2="287" y2="269" stroke="#c89a90" stroke-width="0.8" opacity="0.21"/><line x1="524" y1="293" x2="493" y2="302" stroke="#c89a90" stroke-width="0.8" opacity="0.24"/><line x1="831" y1="235" x2="859" y2="255" stroke="#b07a72" stroke-width="0.8" opacity="0.16"/><line x1="381" y1="112" x2="373" y2="126" stroke="#b88e84" stroke-width="1.1" opacity="0.12"/><line x1="588" y1="172" x2="565" y2="195" stroke="#b88e84" stroke-width="0.7" opacity="0.24"/><line x1="749" y1="162" x2="760" y2="177" stroke="#9a6c62" stroke-width="0.9" opacity="0.15"/><line x1="891" y1="211" x2="880" y2="222" stroke="#8e6a60" stroke-width="1.0" opacity="0.20"/><line x1="387" y1="104" x2="375" y2="130" stroke="#9a8a72" stroke-width="1.1" opacity="0.21"/><line x1="472" y1="225" x2="487" y2="247" stroke="#b88e84" stroke-width="0.7" opacity="0.26"/><line x1="851" y1="206" x2="877" y2="229" stroke="#c89a90" stroke-width="0.9" opacity="0.14"/><line x1="736" y1="314" x2="703" y2="328" stroke="#b88e84" stroke-width="0.8" opacity="0.25"/><line x1="489" y1="219" x2="480" y2="237" stroke="#8e6a60" stroke-width="1.1" opacity="0.16"/><line x1="441" y1="140" x2="452" y2="161" stroke="#8e6a60" stroke-width="0.7" opacity="0.14"/><line x1="370" y1="150" x2="355" y2="186" stroke="#b88e84" stroke-width="0.8" opacity="0.24"/><line x1="455" y1="145" x2="474" y2="182" stroke="#8e6a60" stroke-width="1.0" opacity="0.26"/><line x1="860" y1="276" x2="837" y2="287" stroke="#9a6c62" stroke-width="0.8" opacity="0.18"/><line x1="672" y1="306" x2="641" y2="315" stroke="#8e6a60" stroke-width="0.7" opacity="0.13"/><line x1="417" y1="237" x2="409" y2="253" stroke="#8e6a60" stroke-width="1.1" opacity="0.26"/><line x1="392" y1="107" x2="376" y2="137" stroke="#b07a72" stroke-width="0.7" opacity="0.17"/><line x1="833" y1="266" x2="806" y2="277" stroke="#b88e84" stroke-width="0.8" opacity="0.17"/><line x1="710" y1="258" x2="686" y2="278" stroke="#9a8a72" stroke-width="1.1" opacity="0.21"/><line x1="388" y1="293" x2="366" y2="301" stroke="#c89a90" stroke-width="0.9" opacity="0.27"/><line x1="500" y1="218" x2="487" y2="238" stroke="#8e6a60" stroke-width="0.8" opacity="0.21"/><line x1="560" y1="235" x2="540" y2="255" stroke="#c89a90" stroke-width="0.8" opacity="0.19"/><line x1="434" y1="94" x2="452" y2="122" stroke="#9a6c62" stroke-width="1.1" opacity="0.15"/><line x1="584" y1="218" x2="570" y2="235" stroke="#b88e84" stroke-width="0.6" opacity="0.11"/><line x1="384" y1="166" x2="367" y2="201" stroke="#9a8a72" stroke-width="1.0" opacity="0.13"/><line x1="651" y1="121" x2="675" y2="154" stroke="#b07a72" stroke-width="1.0" opacity="0.15"/><line x1="875" y1="283" x2="861" y2="287" stroke="#9a8a72" stroke-width="0.9" opacity="0.24"/><line x1="353" y1="182" x2="338" y2="215" stroke="#c89a90" stroke-width="0.7" opacity="0.21"/><line x1="617" y1="199" x2="599" y2="215" stroke="#b07a72" stroke-width="0.8" opacity="0.13"/><line x1="759" y1="253" x2="732" y2="282" stroke="#b07a72" stroke-width="0.8" opacity="0.20"/><line x1="801" y1="169" x2="832" y2="189" stroke="#9a8a72" stroke-width="0.9" opacity="0.16"/><line x1="270" y1="274" x2="252" y2="279" stroke="#9a6c62" stroke-width="0.9" opacity="0.24"/><line x1="854" y1="224" x2="869" y2="237" stroke="#c89a90" stroke-width="0.6" opacity="0.17"/><line x1="566" y1="166" x2="540" y2="187" stroke="#9a6c62" stroke-width="0.6" opacity="0.12"/><line x1="617" y1="96" x2="596" y2="115" stroke="#b88e84" stroke-width="0.7" opacity="0.26"/><line x1="508" y1="137" x2="516" y2="150" stroke="#b07a72" stroke-width="0.8" opacity="0.10"/><line x1="469" y1="304" x2="428" y2="320" stroke="#b88e84" stroke-width="0.9" opacity="0.19"/><line x1="822" y1="119" x2="853" y2="142" stroke="#9a8a72" stroke-width="0.8" opacity="0.21"/><line x1="870" y1="227" x2="851" y2="248" stroke="#b88e84" stroke-width="0.6" opacity="0.13"/><line x1="784" y1="213" x2="764" y2="232" stroke="#8e6a60" stroke-width="0.6" opacity="0.12"/><line x1="678" y1="306" x2="642" y2="321" stroke="#9a6c62" stroke-width="0.8" opacity="0.25"/><line x1="812" y1="186" x2="837" y2="212" stroke="#c89a90" stroke-width="0.8" opacity="0.22"/><line x1="713" y1="111" x2="724" y2="128" stroke="#b88e84" stroke-width="0.7" opacity="0.21"/><line x1="446" y1="305" x2="412" y2="316" stroke="#b88e84" stroke-width="1.1" opacity="0.17"/><line x1="754" y1="117" x2="742" y2="129" stroke="#9a6c62" stroke-width="0.8" opacity="0.13"/><line x1="391" y1="99" x2="379" y2="129" stroke="#9a8a72" stroke-width="1.0" opacity="0.17"/><line x1="744" y1="291" x2="730" y2="296" stroke="#b07a72" stroke-width="1.0" opacity="0.12"/><line x1="694" y1="198" x2="673" y2="220" stroke="#b88e84" stroke-width="1.0" opacity="0.18"/><line x1="563" y1="154" x2="538" y2="184" stroke="#8e6a60" stroke-width="0.7" opacity="0.15"/><line x1="605" y1="181" x2="582" y2="209" stroke="#9a8a72" stroke-width="0.7" opacity="0.18"/><line x1="372" y1="257" x2="355" y2="282" stroke="#c89a90" stroke-width="0.9" opacity="0.25"/><line x1="787" y1="240" x2="775" y2="253" stroke="#9a8a72" stroke-width="0.8" opacity="0.11"/><line x1="757" y1="308" x2="738" y2="316" stroke="#b07a72" stroke-width="0.6" opacity="0.11"/><line x1="265" y1="282" x2="249" y2="287" stroke="#b07a72" stroke-width="1.0" opacity="0.25"/><line x1="365" y1="128" x2="357" y2="143" stroke="#9a6c62" stroke-width="0.8" opacity="0.21"/><line x1="664" y1="309" x2="639" y2="319" stroke="#b88e84" stroke-width="0.7" opacity="0.16"/><line x1="369" y1="183" x2="358" y2="206" stroke="#c89a90" stroke-width="0.7" opacity="0.22"/><line x1="437" y1="236" x2="431" y2="255" stroke="#9a6c62" stroke-width="1.0" opacity="0.19"/><line x1="773" y1="307" x2="753" y2="314" stroke="#b07a72" stroke-width="0.9" opacity="0.28"/><line x1="711" y1="249" x2="725" y2="262" stroke="#9a8a72" stroke-width="0.8" opacity="0.25"/><line x1="571" y1="167" x2="548" y2="189" stroke="#c89a90" stroke-width="0.9" opacity="0.23"/><line x1="585" y1="255" x2="576" y2="267" stroke="#b07a72" stroke-width="0.8" opacity="0.23"/><line x1="751" y1="235" x2="732" y2="257" stroke="#b88e84" stroke-width="0.7" opacity="0.14"/><line x1="739" y1="166" x2="712" y2="191" stroke="#b07a72" stroke-width="0.9" opacity="0.28"/><line x1="679" y1="156" x2="656" y2="183" stroke="#9a6c62" stroke-width="0.7" opacity="0.20"/><line x1="849" y1="246" x2="874" y2="270" stroke="#b88e84" stroke-width="0.9" opacity="0.17"/><line x1="466" y1="193" x2="456" y2="220" stroke="#b88e84" stroke-width="0.6" opacity="0.28"/><line x1="369" y1="218" x2="358" y2="235" stroke="#8e6a60" stroke-width="0.6" opacity="0.23"/><line x1="459" y1="259" x2="446" y2="288" stroke="#9a6c62" stroke-width="0.7" opacity="0.18"/><line x1="671" y1="152" x2="641" y2="183" stroke="#c89a90" stroke-width="0.8" opacity="0.18"/><line x1="532" y1="232" x2="552" y2="265" stroke="#c89a90" stroke-width="0.6" opacity="0.17"/><line x1="814" y1="268" x2="784" y2="276" stroke="#b88e84" stroke-width="0.9" opacity="0.13"/><line x1="504" y1="160" x2="523" y2="186" stroke="#b07a72" stroke-width="0.8" opacity="0.23"/><line x1="383" y1="305" x2="348" y2="323" stroke="#9a8a72" stroke-width="1.0" opacity="0.19"/><line x1="891" y1="176" x2="928" y2="200" stroke="#b07a72" stroke-width="0.8" opacity="0.11"/><line x1="859" y1="179" x2="837" y2="209" stroke="#9a6c62" stroke-width="1.0" opacity="0.24"/><line x1="483" y1="256" x2="501" y2="284" stroke="#c89a90" stroke-width="1.0" opacity="0.14"/><line x1="278" y1="281" x2="245" y2="291" stroke="#9a8a72" stroke-width="0.9" opacity="0.13"/><line x1="352" y1="147" x2="335" y2="176" stroke="#b88e84" stroke-width="0.6" opacity="0.24"/><line x1="677" y1="305" x2="648" y2="317" stroke="#b07a72" stroke-width="0.9" opacity="0.13"/><line x1="532" y1="285" x2="511" y2="294" stroke="#8e6a60" stroke-width="0.9" opacity="0.17"/><line x1="457" y1="186" x2="446" y2="215" stroke="#9a6c62" stroke-width="1.0" opacity="0.15"/><line x1="392" y1="265" x2="379" y2="270" stroke="#b88e84" stroke-width="1.0" opacity="0.10"/><line x1="301" y1="253" x2="285" y2="283" stroke="#9a8a72" stroke-width="0.8" opacity="0.13"/><line x1="377" y1="120" x2="364" y2="146" stroke="#b07a72" stroke-width="0.8" opacity="0.25"/><line x1="377" y1="102" x2="362" y2="136" stroke="#9a6c62" stroke-width="1.1" opacity="0.26"/><line x1="544" y1="304" x2="514" y2="319" stroke="#b07a72" stroke-width="0.7" opacity="0.17"/><line x1="436" y1="169" x2="422" y2="200" stroke="#b07a72" stroke-width="0.6" opacity="0.15"/><line x1="881" y1="246" x2="905" y2="262" stroke="#b07a72" stroke-width="0.8" opacity="0.19"/><line x1="885" y1="151" x2="905" y2="165" stroke="#c89a90" stroke-width="0.8" opacity="0.22"/><line x1="480" y1="163" x2="460" y2="190" stroke="#c89a90" stroke-width="0.9" opacity="0.28"/><line x1="827" y1="279" x2="791" y2="297" stroke="#c89a90" stroke-width="1.0" opacity="0.26"/><line x1="346" y1="231" x2="334" y2="249" stroke="#9a8a72" stroke-width="1.0" opacity="0.14"/><line x1="551" y1="251" x2="528" y2="269" stroke="#9a8a72" stroke-width="0.7" opacity="0.28"/><line x1="882" y1="281" x2="860" y2="292" stroke="#b07a72" stroke-width="1.1" opacity="0.23"/><line x1="699" y1="143" x2="675" y2="165" stroke="#b07a72" stroke-width="0.8" opacity="0.27"/><line x1="872" y1="201" x2="843" y2="230" stroke="#9a8a72" stroke-width="0.8" opacity="0.21"/><line x1="721" y1="294" x2="685" y2="304" stroke="#9a8a72" stroke-width="0.9" opacity="0.12"/><line x1="777" y1="159" x2="745" y2="189" stroke="#c89a90" stroke-width="0.7" opacity="0.18"/><line x1="331" y1="245" x2="322" y2="264" stroke="#9a8a72" stroke-width="0.9" opacity="0.12"/><line x1="863" y1="165" x2="880" y2="178" stroke="#9a6c62" stroke-width="0.9" opacity="0.27"/><line x1="694" y1="246" x2="712" y2="268" stroke="#9a8a72" stroke-width="0.8" opacity="0.14"/><line x1="632" y1="307" x2="610" y2="318" stroke="#9a8a72" stroke-width="1.0" opacity="0.23"/><line x1="683" y1="274" x2="657" y2="280" stroke="#b88e84" stroke-width="0.7" opacity="0.12"/><line x1="740" y1="310" x2="723" y2="315" stroke="#9a6c62" stroke-width="0.7" opacity="0.16"/><line x1="504" y1="263" x2="475" y2="275" stroke="#b88e84" stroke-width="1.0" opacity="0.28"/><line x1="464" y1="175" x2="451" y2="203" stroke="#b88e84" stroke-width="0.7" opacity="0.10"/><line x1="813" y1="163" x2="836" y2="181" stroke="#c89a90" stroke-width="0.7" opacity="0.15"/><line x1="744" y1="289" x2="730" y2="293" stroke="#9a6c62" stroke-width="0.8" opacity="0.28"/><line x1="718" y1="201" x2="693" y2="226" stroke="#c89a90" stroke-width="0.6" opacity="0.25"/><line x1="355" y1="258" x2="332" y2="293" stroke="#b88e84" stroke-width="1.0" opacity="0.11"/><line x1="822" y1="130" x2="840" y2="145" stroke="#9a8a72" stroke-width="1.1" opacity="0.13"/><line x1="532" y1="200" x2="545" y2="222" stroke="#8e6a60" stroke-width="1.0" opacity="0.15"/><line x1="860" y1="254" x2="848" y2="268" stroke="#8e6a60" stroke-width="1.0" opacity="0.11"/><line x1="867" y1="160" x2="857" y2="175" stroke="#9a8a72" stroke-width="0.8" opacity="0.26"/><line x1="392" y1="279" x2="362" y2="292" stroke="#9a6c62" stroke-width="1.0" opacity="0.20"/><line x1="699" y1="322" x2="661" y2="340" stroke="#c89a90" stroke-width="0.9" opacity="0.13"/><line x1="332" y1="210" x2="320" y2="234" stroke="#b88e84" stroke-width="0.9" opacity="0.17"/><line x1="575" y1="251" x2="549" y2="272" stroke="#c89a90" stroke-width="1.0" opacity="0.28"/><line x1="694" y1="109" x2="667" y2="128" stroke="#9a6c62" stroke-width="0.9" opacity="0.18"/><line x1="335" y1="240" x2="323" y2="257" stroke="#8e6a60" stroke-width="0.9" opacity="0.20"/><line x1="434" y1="265" x2="416" y2="270" stroke="#c89a90" stroke-width="1.1" opacity="0.23"/><line x1="450" y1="118" x2="475" y2="151" stroke="#8e6a60" stroke-width="0.7" opacity="0.25"/><line x1="606" y1="280" x2="579" y2="291" stroke="#8e6a60" stroke-width="0.9" opacity="0.25"/><line x1="682" y1="267" x2="651" y2="280" stroke="#b07a72" stroke-width="0.7" opacity="0.21"/><line x1="373" y1="219" x2="363" y2="234" stroke="#b88e84" stroke-width="0.9" opacity="0.22"/><line x1="748" y1="108" x2="731" y2="126" stroke="#8e6a60" stroke-width="0.7" opacity="0.28"/><line x1="686" y1="147" x2="663" y2="165" stroke="#9a6c62" stroke-width="0.9" opacity="0.18"/><line x1="633" y1="253" x2="602" y2="283" stroke="#9a6c62" stroke-width="0.9" opacity="0.19"/><line x1="706" y1="245" x2="693" y2="260" stroke="#9a6c62" stroke-width="1.0" opacity="0.14"/><line x1="343" y1="219" x2="332" y2="238" stroke="#9a8a72" stroke-width="0.9" opacity="0.11"/><line x1="422" y1="178" x2="415" y2="194" stroke="#9a6c62" stroke-width="0.9" opacity="0.27"/><line x1="349" y1="136" x2="338" y2="155" stroke="#9a8a72" stroke-width="0.9" opacity="0.13"/><line x1="499" y1="244" x2="490" y2="260" stroke="#c89a90" stroke-width="0.8" opacity="0.27"/><line x1="417" y1="152" x2="401" y2="182" stroke="#c89a90" stroke-width="0.6" opacity="0.22"/><line x1="493" y1="167" x2="517" y2="196" stroke="#9a6c62" stroke-width="0.6" opacity="0.17"/><line x1="890" y1="178" x2="902" y2="190" stroke="#8e6a60" stroke-width="1.0" opacity="0.16"/><line x1="793" y1="204" x2="774" y2="229" stroke="#9a6c62" stroke-width="0.9" opacity="0.21"/><line x1="842" y1="128" x2="875" y2="148" stroke="#9a8a72" stroke-width="1.1" opacity="0.20"/><line x1="644" y1="289" x2="628" y2="296" stroke="#b07a72" stroke-width="0.9" opacity="0.23"/><line x1="686" y1="122" x2="695" y2="134" stroke="#9a8a72" stroke-width="0.9" opacity="0.17"/><line x1="764" y1="249" x2="749" y2="260" stroke="#9a6c62" stroke-width="1.0" opacity="0.19"/><line x1="436" y1="189" x2="421" y2="226" stroke="#9a6c62" stroke-width="0.8" opacity="0.16"/><line x1="733" y1="312" x2="719" y2="319" stroke="#9a8a72" stroke-width="0.7" opacity="0.27"/><line x1="784" y1="91" x2="818" y2="116" stroke="#b88e84" stroke-width="0.8" opacity="0.19"/><line x1="712" y1="184" x2="739" y2="212" stroke="#b07a72" stroke-width="1.0" opacity="0.23"/><line x1="746" y1="146" x2="772" y2="179" stroke="#8e6a60" stroke-width="0.9" opacity="0.11"/><line x1="549" y1="128" x2="520" y2="151" stroke="#b88e84" stroke-width="0.7" opacity="0.17"/><line x1="342" y1="172" x2="332" y2="199" stroke="#b88e84" stroke-width="0.8" opacity="0.12"/><line x1="854" y1="147" x2="826" y2="175" stroke="#9a6c62" stroke-width="0.7" opacity="0.15"/><line x1="395" y1="263" x2="375" y2="270" stroke="#9a6c62" stroke-width="1.1" opacity="0.27"/><line x1="593" y1="300" x2="553" y2="310" stroke="#c89a90" stroke-width="0.6" opacity="0.10"/><line x1="557" y1="159" x2="541" y2="178" stroke="#9a8a72" stroke-width="0.7" opacity="0.16"/><line x1="321" y1="205" x2="310" y2="232" stroke="#b88e84" stroke-width="0.8" opacity="0.26"/><line x1="419" y1="200" x2="408" y2="222" stroke="#b88e84" stroke-width="0.9" opacity="0.15"/><line x1="543" y1="121" x2="532" y2="131" stroke="#9a8a72" stroke-width="0.7" opacity="0.13"/><line x1="742" y1="302" x2="724" y2="310" stroke="#c89a90" stroke-width="1.1" opacity="0.28"/><line x1="333" y1="204" x2="317" y2="234" stroke="#b88e84" stroke-width="0.8" opacity="0.24"/><line x1="833" y1="207" x2="814" y2="225" stroke="#b07a72" stroke-width="1.1" opacity="0.24"/><line x1="338" y1="170" x2="325" y2="202" stroke="#b07a72" stroke-width="0.9" opacity="0.16"/><line x1="539" y1="157" x2="557" y2="177" stroke="#8e6a60" stroke-width="0.7" opacity="0.19"/><line x1="418" y1="270" x2="376" y2="281" stroke="#b88e84" stroke-width="0.9" opacity="0.18"/><line x1="565" y1="274" x2="533" y2="289" stroke="#8e6a60" stroke-width="0.7" opacity="0.28"/><line x1="642" y1="238" x2="626" y2="258" stroke="#9a6c62" stroke-width="1.1" opacity="0.27"/><line x1="534" y1="234" x2="520" y2="255" stroke="#8e6a60" stroke-width="0.8" opacity="0.21"/><line x1="407" y1="168" x2="393" y2="194" stroke="#9a8a72" stroke-width="0.6" opacity="0.12"/><line x1="721" y1="147" x2="712" y2="157" stroke="#9a8a72" stroke-width="1.0" opacity="0.14"/><line x1="564" y1="303" x2="547" y2="312" stroke="#c89a90" stroke-width="0.8" opacity="0.15"/><line x1="616" y1="292" x2="583" y2="306" stroke="#9a6c62" stroke-width="1.0" opacity="0.21"/><line x1="651" y1="144" x2="633" y2="162" stroke="#b07a72" stroke-width="0.7" opacity="0.23"/><line x1="334" y1="227" x2="315" y2="255" stroke="#b88e84" stroke-width="0.7" opacity="0.18"/><line x1="660" y1="159" x2="644" y2="170" stroke="#9a8a72" stroke-width="0.7" opacity="0.12"/><line x1="529" y1="257" x2="542" y2="281" stroke="#9a8a72" stroke-width="0.7" opacity="0.18"/><line x1="571" y1="212" x2="542" y2="236" stroke="#b88e84" stroke-width="0.9" opacity="0.23"/><line x1="339" y1="99" x2="321" y2="132" stroke="#9a8a72" stroke-width="0.7" opacity="0.25"/><line x1="579" y1="214" x2="568" y2="226" stroke="#c89a90" stroke-width="1.0" opacity="0.17"/><line x1="765" y1="183" x2="778" y2="190" stroke="#8e6a60" stroke-width="0.7" opacity="0.23"/><line x1="831" y1="275" x2="798" y2="288" stroke="#8e6a60" stroke-width="0.7" opacity="0.25"/><line x1="449" y1="152" x2="444" y2="166" stroke="#b88e84" stroke-width="0.7" opacity="0.22"/><line x1="872" y1="154" x2="902" y2="176" stroke="#9a8a72" stroke-width="1.1" opacity="0.28"/><line x1="393" y1="116" x2="376" y2="144" stroke="#9a6c62" stroke-width="0.8" opacity="0.27"/><line x1="834" y1="151" x2="859" y2="171" stroke="#9a6c62" stroke-width="1.1" opacity="0.21"/><line x1="733" y1="154" x2="708" y2="171" stroke="#8e6a60" stroke-width="0.7" opacity="0.23"/><line x1="505" y1="243" x2="494" y2="260" stroke="#9a6c62" stroke-width="0.7" opacity="0.21"/><line x1="817" y1="182" x2="848" y2="200" stroke="#9a6c62" stroke-width="0.7" opacity="0.19"/><line x1="580" y1="197" x2="565" y2="209" stroke="#8e6a60" stroke-width="0.8" opacity="0.23"/><line x1="679" y1="93" x2="649" y2="118" stroke="#9a8a72" stroke-width="0.9" opacity="0.11"/><line x1="321" y1="213" x2="301" y2="246" stroke="#8e6a60" stroke-width="0.6" opacity="0.17"/><line x1="342" y1="271" x2="303" y2="287" stroke="#8e6a60" stroke-width="0.6" opacity="0.27"/><line x1="737" y1="168" x2="750" y2="181" stroke="#8e6a60" stroke-width="1.0" opacity="0.25"/><line x1="456" y1="202" x2="445" y2="234" stroke="#9a8a72" stroke-width="0.9" opacity="0.10"/><line x1="322" y1="298" x2="309" y2="303" stroke="#b88e84" stroke-width="0.6" opacity="0.18"/><line x1="352" y1="243" x2="335" y2="280" stroke="#c89a90" stroke-width="0.9" opacity="0.23"/><line x1="846" y1="205" x2="880" y2="230" stroke="#9a6c62" stroke-width="0.8" opacity="0.21"/><line x1="858" y1="300" x2="839" y2="306" stroke="#8e6a60" stroke-width="0.8" opacity="0.13"/><line x1="534" y1="300" x2="502" y2="309" stroke="#9a6c62" stroke-width="0.8" opacity="0.12"/><line x1="855" y1="245" x2="882" y2="267" stroke="#b07a72" stroke-width="1.0" opacity="0.26"/><line x1="896" y1="272" x2="879" y2="280" stroke="#c89a90" stroke-width="1.0" opacity="0.24"/><line x1="568" y1="104" x2="538" y2="134" stroke="#9a6c62" stroke-width="0.7" opacity="0.16"/><line x1="339" y1="270" x2="312" y2="281" stroke="#c89a90" stroke-width="0.9" opacity="0.17"/><line x1="775" y1="167" x2="756" y2="185" stroke="#8e6a60" stroke-width="0.8" opacity="0.20"/><line x1="604" y1="283" x2="575" y2="294" stroke="#c89a90" stroke-width="0.9" opacity="0.24"/><line x1="786" y1="140" x2="798" y2="148" stroke="#b07a72" stroke-width="0.8" opacity="0.19"/><line x1="343" y1="114" x2="329" y2="135" stroke="#b88e84" stroke-width="0.7" opacity="0.13"/><line x1="853" y1="145" x2="868" y2="156" stroke="#9a8a72" stroke-width="1.0" opacity="0.17"/><line x1="498" y1="254" x2="483" y2="282" stroke="#b88e84" stroke-width="0.6" opacity="0.17"/><line x1="628" y1="281" x2="610" y2="289" stroke="#9a8a72" stroke-width="0.7" opacity="0.19"/><line x1="876" y1="199" x2="854" y2="229" stroke="#9a8a72" stroke-width="0.6" opacity="0.12"/><line x1="294" y1="240" x2="285" y2="257" stroke="#b88e84" stroke-width="0.6" opacity="0.25"/><line x1="700" y1="296" x2="664" y2="308" stroke="#8e6a60" stroke-width="0.9" opacity="0.23"/><line x1="533" y1="125" x2="511" y2="163" stroke="#b88e84" stroke-width="1.0" opacity="0.17"/><line x1="651" y1="106" x2="667" y2="124" stroke="#9a8a72" stroke-width="0.8" opacity="0.17"/><line x1="533" y1="152" x2="520" y2="181" stroke="#9a6c62" stroke-width="0.6" opacity="0.15"/><line x1="610" y1="103" x2="583" y2="129" stroke="#9a6c62" stroke-width="0.7" opacity="0.14"/><line x1="864" y1="145" x2="885" y2="167" stroke="#8e6a60" stroke-width="1.1" opacity="0.19"/><line x1="747" y1="315" x2="725" y2="323" stroke="#c89a90" stroke-width="1.0" opacity="0.28"/><line x1="715" y1="111" x2="691" y2="128" stroke="#8e6a60" stroke-width="1.0" opacity="0.13"/><line x1="640" y1="179" x2="611" y2="206" stroke="#9a6c62" stroke-width="0.7" opacity="0.22"/><line x1="307" y1="236" x2="295" y2="254" stroke="#b88e84" stroke-width="1.0" opacity="0.22"/><line x1="759" y1="126" x2="782" y2="154" stroke="#9a8a72" stroke-width="0.9" opacity="0.24"/><line x1="548" y1="119" x2="526" y2="143" stroke="#c89a90" stroke-width="0.6" opacity="0.23"/><line x1="702" y1="145" x2="729" y2="178" stroke="#8e6a60" stroke-width="0.9" opacity="0.19"/><line x1="782" y1="122" x2="817" y2="147" stroke="#b07a72" stroke-width="0.8" opacity="0.18"/><line x1="366" y1="158" x2="354" y2="187" stroke="#9a6c62" stroke-width="0.6" opacity="0.13"/><line x1="761" y1="149" x2="730" y2="169" stroke="#c89a90" stroke-width="0.9" opacity="0.13"/><line x1="336" y1="223" x2="322" y2="260" stroke="#c89a90" stroke-width="0.8" opacity="0.21"/><line x1="701" y1="192" x2="725" y2="227" stroke="#9a6c62" stroke-width="0.6" opacity="0.17"/><line x1="550" y1="296" x2="535" y2="299" stroke="#9a8a72" stroke-width="0.6" opacity="0.24"/><line x1="713" y1="221" x2="696" y2="236" stroke="#b88e84" stroke-width="0.9" opacity="0.25"/><line x1="401" y1="295" x2="378" y2="303" stroke="#c89a90" stroke-width="0.9" opacity="0.26"/><line x1="559" y1="108" x2="529" y2="136" stroke="#c89a90" stroke-width="1.0" opacity="0.14"/><line x1="470" y1="163" x2="493" y2="191" stroke="#b07a72" stroke-width="0.7" opacity="0.11"/><line x1="357" y1="199" x2="345" y2="220" stroke="#b07a72" stroke-width="1.1" opacity="0.24"/><line x1="296" y1="280" x2="254" y2="292" stroke="#b88e84" stroke-width="0.6" opacity="0.26"/><line x1="879" y1="250" x2="895" y2="260" stroke="#b88e84" stroke-width="0.6" opacity="0.17"/><line x1="450" y1="257" x2="467" y2="286" stroke="#9a6c62" stroke-width="0.7" opacity="0.11"/><line x1="841" y1="190" x2="862" y2="202" stroke="#c89a90" stroke-width="0.8" opacity="0.20"/><line x1="541" y1="304" x2="505" y2="317" stroke="#8e6a60" stroke-width="1.0" opacity="0.21"/><line x1="306" y1="246" x2="294" y2="267" stroke="#9a8a72" stroke-width="1.0" opacity="0.23"/><line x1="462" y1="124" x2="474" y2="150" stroke="#9a6c62" stroke-width="0.7" opacity="0.27"/><line x1="521" y1="211" x2="496" y2="245" stroke="#b88e84" stroke-width="0.9" opacity="0.22"/><line x1="634" y1="97" x2="619" y2="110" stroke="#9a8a72" stroke-width="0.9" opacity="0.13"/><line x1="502" y1="170" x2="484" y2="196" stroke="#b07a72" stroke-width="0.8" opacity="0.17"/><line x1="453" y1="161" x2="437" y2="190" stroke="#c89a90" stroke-width="0.8" opacity="0.16"/><line x1="797" y1="189" x2="814" y2="198" stroke="#c89a90" stroke-width="0.8" opacity="0.20"/><line x1="362" y1="191" x2="347" y2="222" stroke="#9a8a72" stroke-width="0.8" opacity="0.15"/><line x1="661" y1="307" x2="619" y2="319" stroke="#b07a72" stroke-width="0.6" opacity="0.10"/><line x1="746" y1="236" x2="766" y2="255" stroke="#8e6a60" stroke-width="1.0" opacity="0.22"/><line x1="813" y1="138" x2="827" y2="148" stroke="#c89a90" stroke-width="1.1" opacity="0.16"/><line x1="775" y1="198" x2="750" y2="225" stroke="#b07a72" stroke-width="1.1" opacity="0.24"/><line x1="587" y1="151" x2="570" y2="167" stroke="#c89a90" stroke-width="0.9" opacity="0.10"/><line x1="272" y1="275" x2="244" y2="283" stroke="#9a8a72" stroke-width="0.9" opacity="0.16"/><line x1="381" y1="241" x2="361" y2="273" stroke="#8e6a60" stroke-width="0.8" opacity="0.27"/><line x1="511" y1="261" x2="525" y2="286" stroke="#c89a90" stroke-width="0.7" opacity="0.23"/><line x1="338" y1="116" x2="325" y2="139" stroke="#9a8a72" stroke-width="1.1" opacity="0.25"/><line x1="359" y1="164" x2="354" y2="178" stroke="#b07a72" stroke-width="0.9" opacity="0.21"/><line x1="273" y1="256" x2="264" y2="269" stroke="#c89a90" stroke-width="0.6" opacity="0.23"/><line x1="764" y1="132" x2="777" y2="151" stroke="#8e6a60" stroke-width="1.0" opacity="0.23"/><line x1="784" y1="178" x2="801" y2="191" stroke="#b88e84" stroke-width="0.9" opacity="0.21"/><line x1="634" y1="113" x2="612" y2="135" stroke="#b07a72" stroke-width="0.7" opacity="0.15"/><line x1="373" y1="106" x2="351" y2="141" stroke="#b88e84" stroke-width="0.8" opacity="0.19"/><line x1="705" y1="177" x2="684" y2="194" stroke="#b88e84" stroke-width="0.7" opacity="0.10"/><line x1="372" y1="222" x2="365" y2="235" stroke="#9a6c62" stroke-width="1.1" opacity="0.19"/><line x1="657" y1="218" x2="642" y2="233" stroke="#b07a72" stroke-width="0.7" opacity="0.11"/><line x1="355" y1="293" x2="336" y2="302" stroke="#9a6c62" stroke-width="0.7" opacity="0.12"/><line x1="708" y1="118" x2="675" y2="146" stroke="#9a6c62" stroke-width="1.0" opacity="0.22"/><line x1="561" y1="280" x2="521" y2="295" stroke="#b88e84" stroke-width="0.7" opacity="0.14"/><line x1="809" y1="258" x2="842" y2="277" stroke="#8e6a60" stroke-width="0.8" opacity="0.24"/><line x1="880" y1="204" x2="910" y2="224" stroke="#9a6c62" stroke-width="0.9" opacity="0.21"/><line x1="536" y1="222" x2="555" y2="256" stroke="#c89a90" stroke-width="0.7" opacity="0.11"/><line x1="590" y1="227" x2="564" y2="256" stroke="#9a8a72" stroke-width="1.1" opacity="0.20"/><line x1="516" y1="115" x2="527" y2="131" stroke="#b88e84" stroke-width="0.6" opacity="0.22"/><line x1="499" y1="273" x2="477" y2="283" stroke="#b07a72" stroke-width="1.0" opacity="0.14"/><line x1="627" y1="164" x2="616" y2="176" stroke="#9a6c62" stroke-width="0.9" opacity="0.19"/><line x1="322" y1="154" x2="302" y2="189" stroke="#9a8a72" stroke-width="0.6" opacity="0.26"/><line x1="531" y1="267" x2="509" y2="276" stroke="#b88e84" stroke-width="0.6" opacity="0.19"/><line x1="333" y1="195" x2="318" y2="223" stroke="#b88e84" stroke-width="0.9" opacity="0.15"/><line x1="677" y1="291" x2="636" y2="300" stroke="#9a6c62" stroke-width="0.7" opacity="0.27"/><line x1="601" y1="168" x2="583" y2="190" stroke="#c89a90" stroke-width="1.0" opacity="0.15"/><line x1="749" y1="183" x2="766" y2="206" stroke="#b07a72" stroke-width="0.8" opacity="0.23"/><line x1="553" y1="289" x2="536" y2="293" stroke="#9a6c62" stroke-width="1.1" opacity="0.12"/><line x1="402" y1="284" x2="362" y2="302" stroke="#9a8a72" stroke-width="1.0" opacity="0.14"/><line x1="313" y1="260" x2="292" y2="292" stroke="#8e6a60" stroke-width="1.1" opacity="0.27"/><line x1="824" y1="150" x2="858" y2="174" stroke="#b07a72" stroke-width="0.7" opacity="0.22"/><line x1="774" y1="178" x2="763" y2="193" stroke="#c89a90" stroke-width="0.7" opacity="0.16"/><line x1="352" y1="226" x2="330" y2="261" stroke="#9a8a72" stroke-width="0.8" opacity="0.12"/><line x1="601" y1="225" x2="569" y2="254" stroke="#9a6c62" stroke-width="1.0" opacity="0.19"/><line x1="315" y1="270" x2="292" y2="277" stroke="#b88e84" stroke-width="0.9" opacity="0.23"/><line x1="390" y1="106" x2="381" y2="120" stroke="#b07a72" stroke-width="0.9" opacity="0.18"/><line x1="507" y1="204" x2="527" y2="228" stroke="#8e6a60" stroke-width="0.9" opacity="0.16"/><line x1="874" y1="256" x2="857" y2="280" stroke="#b88e84" stroke-width="0.7" opacity="0.17"/><line x1="894" y1="294" x2="858" y2="306" stroke="#b88e84" stroke-width="0.6" opacity="0.18"/><line x1="705" y1="314" x2="688" y2="319" stroke="#c89a90" stroke-width="1.0" opacity="0.23"/><line x1="413" y1="300" x2="399" y2="306" stroke="#9a8a72" stroke-width="0.9" opacity="0.16"/><line x1="333" y1="218" x2="324" y2="237" stroke="#c89a90" stroke-width="0.9" opacity="0.19"/><line x1="319" y1="242" x2="305" y2="265" stroke="#9a6c62" stroke-width="0.7" opacity="0.13"/><line x1="436" y1="232" x2="445" y2="245" stroke="#b88e84" stroke-width="1.1" opacity="0.14"/><line x1="429" y1="104" x2="414" y2="141" stroke="#9a8a72" stroke-width="1.0" opacity="0.17"/><line x1="321" y1="262" x2="309" y2="280" stroke="#b88e84" stroke-width="0.7" opacity="0.14"/><line x1="672" y1="255" x2="659" y2="265" stroke="#8e6a60" stroke-width="1.1" opacity="0.21"/><line x1="739" y1="290" x2="721" y2="296" stroke="#9a8a72" stroke-width="0.6" opacity="0.13"/><line x1="844" y1="122" x2="864" y2="140" stroke="#b07a72" stroke-width="0.7" opacity="0.15"/><line x1="305" y1="249" x2="288" y2="276" stroke="#c89a90" stroke-width="0.9" opacity="0.19"/><line x1="417" y1="114" x2="400" y2="140" stroke="#9a6c62" stroke-width="1.0" opacity="0.19"/><line x1="365" y1="123" x2="356" y2="144" stroke="#9a8a72" stroke-width="0.8" opacity="0.19"/><line x1="485" y1="217" x2="502" y2="239" stroke="#9a6c62" stroke-width="0.8" opacity="0.16"/><line x1="594" y1="245" x2="564" y2="271" stroke="#c89a90" stroke-width="0.7" opacity="0.22"/><line x1="732" y1="93" x2="704" y2="112" stroke="#b88e84" stroke-width="0.8" opacity="0.11"/><line x1="633" y1="253" x2="619" y2="267" stroke="#b07a72" stroke-width="0.7" opacity="0.27"/><line x1="673" y1="317" x2="640" y2="326" stroke="#c89a90" stroke-width="1.1" opacity="0.26"/><line x1="370" y1="304" x2="347" y2="313" stroke="#8e6a60" stroke-width="0.8" opacity="0.28"/><line x1="458" y1="98" x2="465" y2="114" stroke="#c89a90" stroke-width="0.9" opacity="0.24"/><line x1="482" y1="114" x2="465" y2="144" stroke="#c89a90" stroke-width="0.9" opacity="0.19"/><line x1="445" y1="220" x2="436" y2="241" stroke="#9a6c62" stroke-width="0.6" opacity="0.11"/><line x1="440" y1="229" x2="434" y2="241" stroke="#9a6c62" stroke-width="0.9" opacity="0.10"/><line x1="420" y1="171" x2="403" y2="207" stroke="#9a8a72" stroke-width="1.1" opacity="0.20"/><line x1="880" y1="257" x2="893" y2="272" stroke="#8e6a60" stroke-width="1.1" opacity="0.15"/><line x1="418" y1="249" x2="406" y2="272" stroke="#b07a72" stroke-width="1.0" opacity="0.27"/><line x1="646" y1="129" x2="627" y2="143" stroke="#8e6a60" stroke-width="0.7" opacity="0.24"/><line x1="419" y1="187" x2="409" y2="208" stroke="#9a6c62" stroke-width="0.9" opacity="0.21"/><line x1="613" y1="177" x2="592" y2="194" stroke="#b88e84" stroke-width="0.9" opacity="0.22"/><line x1="585" y1="250" x2="568" y2="268" stroke="#c89a90" stroke-width="0.8" opacity="0.17"/><line x1="882" y1="188" x2="899" y2="203" stroke="#b88e84" stroke-width="0.9" opacity="0.17"/><line x1="662" y1="301" x2="647" y2="305" stroke="#c89a90" stroke-width="0.7" opacity="0.22"/><line x1="558" y1="269" x2="521" y2="282" stroke="#b07a72" stroke-width="0.6" opacity="0.25"/><line x1="681" y1="167" x2="657" y2="187" stroke="#9a8a72" stroke-width="0.8" opacity="0.11"/><line x1="740" y1="248" x2="761" y2="276" stroke="#8e6a60" stroke-width="0.7" opacity="0.23"/><line x1="579" y1="141" x2="550" y2="168" stroke="#9a6c62" stroke-width="0.9" opacity="0.23"/><line x1="868" y1="279" x2="849" y2="285" stroke="#b07a72" stroke-width="0.6" opacity="0.21"/><line x1="334" y1="111" x2="323" y2="137" stroke="#8e6a60" stroke-width="0.8" opacity="0.11"/><line x1="335" y1="184" x2="313" y2="216" stroke="#8e6a60" stroke-width="0.7" opacity="0.21"/><line x1="543" y1="244" x2="531" y2="258" stroke="#b07a72" stroke-width="0.7" opacity="0.25"/><line x1="686" y1="128" x2="698" y2="144" stroke="#c89a90" stroke-width="0.7" opacity="0.22"/><line x1="883" y1="205" x2="868" y2="225" stroke="#b07a72" stroke-width="0.8" opacity="0.25"/><line x1="352" y1="155" x2="342" y2="179" stroke="#8e6a60" stroke-width="0.8" opacity="0.22"/><line x1="840" y1="235" x2="857" y2="253" stroke="#b88e84" stroke-width="0.8" opacity="0.23"/><line x1="489" y1="291" x2="466" y2="299" stroke="#9a8a72" stroke-width="0.9" opacity="0.19"/><line x1="369" y1="124" x2="354" y2="151" stroke="#c89a90" stroke-width="1.0" opacity="0.24"/><line x1="437" y1="269" x2="414" y2="279" stroke="#9a8a72" stroke-width="0.8" opacity="0.27"/><line x1="652" y1="131" x2="673" y2="162" stroke="#8e6a60" stroke-width="0.7" opacity="0.23"/><line x1="641" y1="226" x2="657" y2="246" stroke="#b07a72" stroke-width="0.6" opacity="0.23"/><line x1="407" y1="246" x2="391" y2="276" stroke="#9a6c62" stroke-width="1.0" opacity="0.28"/><line x1="785" y1="262" x2="818" y2="285" stroke="#9a8a72" stroke-width="1.0" opacity="0.24"/><line x1="530" y1="103" x2="556" y2="133" stroke="#b07a72" stroke-width="0.8" opacity="0.17"/><line x1="668" y1="95" x2="645" y2="121" stroke="#c89a90" stroke-width="0.7" opacity="0.21"/><line x1="619" y1="134" x2="595" y2="159" stroke="#b88e84" stroke-width="0.7" opacity="0.13"/><line x1="788" y1="280" x2="759" y2="293" stroke="#9a8a72" stroke-width="1.1" opacity="0.12"/><line x1="627" y1="293" x2="595" y2="306" stroke="#9a8a72" stroke-width="0.9" opacity="0.19"/><line x1="800" y1="223" x2="820" y2="237" stroke="#8e6a60" stroke-width="1.0" opacity="0.24"/><line x1="542" y1="236" x2="519" y2="256" stroke="#b88e84" stroke-width="1.0" opacity="0.15"/><line x1="332" y1="143" x2="320" y2="163" stroke="#b88e84" stroke-width="1.0" opacity="0.15"/><line x1="797" y1="181" x2="833" y2="200" stroke="#9a6c62" stroke-width="0.6" opacity="0.20"/><line x1="583" y1="183" x2="561" y2="210" stroke="#b07a72" stroke-width="0.9" opacity="0.27"/><line x1="386" y1="298" x2="368" y2="307" stroke="#9a8a72" stroke-width="0.8" opacity="0.24"/><line x1="853" y1="103" x2="890" y2="123" stroke="#8e6a60" stroke-width="1.0" opacity="0.24"/><line x1="877" y1="230" x2="848" y2="258" stroke="#c89a90" stroke-width="1.1" opacity="0.15"/><line x1="587" y1="242" x2="571" y2="259" stroke="#b88e84" stroke-width="0.6" opacity="0.11"/><line x1="762" y1="280" x2="724" y2="294" stroke="#9a8a72" stroke-width="0.9" opacity="0.10"/><line x1="571" y1="180" x2="559" y2="193" stroke="#9a8a72" stroke-width="0.8" opacity="0.12"/><line x1="542" y1="301" x2="517" y2="306" stroke="#b88e84" stroke-width="0.8" opacity="0.27"/><line x1="411" y1="110" x2="401" y2="134" stroke="#8e6a60" stroke-width="0.9" opacity="0.28"/><line x1="787" y1="106" x2="805" y2="120" stroke="#9a6c62" stroke-width="0.8" opacity="0.22"/><line x1="415" y1="157" x2="401" y2="182" stroke="#b07a72" stroke-width="0.9" opacity="0.11"/><line x1="870" y1="137" x2="853" y2="155" stroke="#b88e84" stroke-width="0.8" opacity="0.15"/><line x1="495" y1="219" x2="484" y2="238" stroke="#9a8a72" stroke-width="0.9" opacity="0.12"/><line x1="482" y1="185" x2="494" y2="201" stroke="#b88e84" stroke-width="1.0" opacity="0.19"/><line x1="455" y1="219" x2="440" y2="254" stroke="#b88e84" stroke-width="0.6" opacity="0.14"/><line x1="543" y1="269" x2="529" y2="273" stroke="#b07a72" stroke-width="0.7" opacity="0.21"/><line x1="294" y1="291" x2="281" y2="296" stroke="#c89a90" stroke-width="0.8" opacity="0.11"/><line x1="390" y1="132" x2="383" y2="146" stroke="#9a6c62" stroke-width="0.6" opacity="0.24"/><line x1="869" y1="304" x2="846" y2="310" stroke="#9a6c62" stroke-width="1.0" opacity="0.21"/><line x1="751" y1="169" x2="769" y2="189" stroke="#9a8a72" stroke-width="1.1" opacity="0.24"/><line x1="784" y1="219" x2="768" y2="235" stroke="#8e6a60" stroke-width="0.8" opacity="0.20"/><line x1="627" y1="211" x2="611" y2="230" stroke="#9a8a72" stroke-width="1.1" opacity="0.14"/><line x1="850" y1="155" x2="838" y2="166" stroke="#b88e84" stroke-width="1.0" opacity="0.15"/><line x1="629" y1="97" x2="614" y2="114" stroke="#9a6c62" stroke-width="1.0" opacity="0.25"/><line x1="653" y1="117" x2="677" y2="148" stroke="#b88e84" stroke-width="0.8" opacity="0.10"/><line x1="490" y1="239" x2="475" y2="267" stroke="#b07a72" stroke-width="0.7" opacity="0.21"/><line x1="461" y1="103" x2="447" y2="138" stroke="#9a6c62" stroke-width="1.0" opacity="0.12"/><line x1="668" y1="123" x2="681" y2="139" stroke="#9a8a72" stroke-width="0.6" opacity="0.22"/><line x1="819" y1="225" x2="834" y2="239" stroke="#9a8a72" stroke-width="1.1" opacity="0.28"/><line x1="266" y1="288" x2="236" y2="296" stroke="#b07a72" stroke-width="0.9" opacity="0.16"/><line x1="306" y1="193" x2="296" y2="212" stroke="#9a6c62" stroke-width="0.9" opacity="0.25"/><line x1="701" y1="105" x2="686" y2="115" stroke="#9a6c62" stroke-width="0.9" opacity="0.16"/><line x1="894" y1="301" x2="854" y2="316" stroke="#9a6c62" stroke-width="0.9" opacity="0.13"/><line x1="654" y1="280" x2="619" y2="292" stroke="#8e6a60" stroke-width="1.0" opacity="0.23"/><line x1="871" y1="178" x2="851" y2="208" stroke="#c89a90" stroke-width="1.0" opacity="0.22"/><line x1="736" y1="216" x2="713" y2="235" stroke="#b07a72" stroke-width="0.9" opacity="0.22"/><line x1="596" y1="163" x2="575" y2="187" stroke="#b88e84" stroke-width="0.8" opacity="0.24"/><line x1="709" y1="193" x2="691" y2="210" stroke="#8e6a60" stroke-width="0.6" opacity="0.17"/><line x1="572" y1="143" x2="556" y2="156" stroke="#b88e84" stroke-width="1.1" opacity="0.14"/><line x1="851" y1="248" x2="838" y2="266" stroke="#9a6c62" stroke-width="0.8" opacity="0.12"/><line x1="523" y1="208" x2="506" y2="236" stroke="#b88e84" stroke-width="1.0" opacity="0.26"/><line x1="428" y1="219" x2="435" y2="235" stroke="#b07a72" stroke-width="1.0" opacity="0.10"/><line x1="364" y1="105" x2="350" y2="132" stroke="#c89a90" stroke-width="1.1" opacity="0.16"/><line x1="519" y1="220" x2="545" y2="251" stroke="#9a6c62" stroke-width="0.9" opacity="0.21"/><line x1="739" y1="172" x2="712" y2="191" stroke="#9a8a72" stroke-width="1.0" opacity="0.15"/><line x1="568" y1="120" x2="543" y2="148" stroke="#8e6a60" stroke-width="0.6" opacity="0.26"/><line x1="644" y1="176" x2="659" y2="194" stroke="#b88e84" stroke-width="0.9" opacity="0.21"/><line x1="450" y1="169" x2="464" y2="190" stroke="#b88e84" stroke-width="1.1" opacity="0.11"/><line x1="874" y1="297" x2="848" y2="305" stroke="#9a6c62" stroke-width="0.9" opacity="0.21"/><line x1="320" y1="155" x2="312" y2="176" stroke="#c89a90" stroke-width="0.7" opacity="0.13"/><line x1="870" y1="149" x2="841" y2="180" stroke="#9a8a72" stroke-width="0.7" opacity="0.12"/><line x1="617" y1="209" x2="596" y2="233" stroke="#b07a72" stroke-width="1.1" opacity="0.20"/><line x1="778" y1="90" x2="796" y2="103" stroke="#8e6a60" stroke-width="0.8" opacity="0.18"/><line x1="338" y1="196" x2="318" y2="225" stroke="#b07a72" stroke-width="0.8" opacity="0.18"/><line x1="427" y1="293" x2="392" y2="301" stroke="#b07a72" stroke-width="1.1" opacity="0.24"/><line x1="743" y1="141" x2="723" y2="162" stroke="#9a6c62" stroke-width="0.8" opacity="0.23"/><line x1="695" y1="106" x2="723" y2="136" stroke="#c89a90" stroke-width="0.7" opacity="0.23"/><line x1="596" y1="133" x2="568" y2="160" stroke="#9a8a72" stroke-width="0.6" opacity="0.21"/><line x1="696" y1="151" x2="682" y2="165" stroke="#c89a90" stroke-width="0.7" opacity="0.14"/><line x1="816" y1="266" x2="802" y2="273" stroke="#8e6a60" stroke-width="0.9" opacity="0.23"/><line x1="280" y1="251" x2="264" y2="280" stroke="#b88e84" stroke-width="0.9" opacity="0.19"/><line x1="685" y1="131" x2="652" y2="154" stroke="#9a8a72" stroke-width="0.8" opacity="0.24"/><line x1="512" y1="173" x2="525" y2="189" stroke="#9a6c62" stroke-width="0.8" opacity="0.18"/><line x1="417" y1="189" x2="400" y2="228" stroke="#9a8a72" stroke-width="0.7" opacity="0.23"/><line x1="717" y1="271" x2="681" y2="285" stroke="#c89a90" stroke-width="0.9" opacity="0.22"/><line x1="396" y1="290" x2="367" y2="301" stroke="#9a6c62" stroke-width="0.7" opacity="0.16"/><line x1="511" y1="193" x2="521" y2="205" stroke="#c89a90" stroke-width="1.0" opacity="0.16"/><line x1="791" y1="161" x2="826" y2="182" stroke="#8e6a60" stroke-width="0.7" opacity="0.21"/><line x1="876" y1="233" x2="902" y2="248" stroke="#9a8a72" stroke-width="0.6" opacity="0.17"/><line x1="766" y1="167" x2="790" y2="186" stroke="#9a8a72" stroke-width="0.6" opacity="0.14"/><line x1="804" y1="182" x2="782" y2="212" stroke="#9a6c62" stroke-width="0.8" opacity="0.14"/><line x1="735" y1="311" x2="722" y2="317" stroke="#8e6a60" stroke-width="0.7" opacity="0.17"/><line x1="573" y1="125" x2="559" y2="141" stroke="#9a8a72" stroke-width="0.7" opacity="0.15"/><line x1="336" y1="274" x2="319" y2="279" stroke="#9a8a72" stroke-width="1.0" opacity="0.26"/><line x1="305" y1="208" x2="287" y2="238" stroke="#b07a72" stroke-width="0.6" opacity="0.25"/><line x1="651" y1="124" x2="667" y2="144" stroke="#8e6a60" stroke-width="1.0" opacity="0.24"/><line x1="533" y1="264" x2="508" y2="275" stroke="#b07a72" stroke-width="0.7" opacity="0.22"/><line x1="564" y1="157" x2="537" y2="190" stroke="#8e6a60" stroke-width="0.7" opacity="0.15"/><line x1="715" y1="208" x2="696" y2="229" stroke="#c89a90" stroke-width="1.1" opacity="0.24"/><line x1="723" y1="195" x2="737" y2="217" stroke="#b88e84" stroke-width="0.8" opacity="0.19"/><line x1="326" y1="162" x2="314" y2="192" stroke="#b07a72" stroke-width="0.6" opacity="0.13"/><line x1="821" y1="204" x2="843" y2="219" stroke="#c89a90" stroke-width="0.9" opacity="0.25"/><line x1="753" y1="102" x2="736" y2="118" stroke="#9a6c62" stroke-width="1.0" opacity="0.11"/><line x1="706" y1="230" x2="693" y2="245" stroke="#8e6a60" stroke-width="1.0" opacity="0.20"/><line x1="460" y1="243" x2="475" y2="267" stroke="#8e6a60" stroke-width="1.0" opacity="0.28"/><line x1="713" y1="177" x2="689" y2="205" stroke="#b88e84" stroke-width="0.7" opacity="0.26"/><line x1="329" y1="298" x2="299" y2="309" stroke="#8e6a60" stroke-width="0.8" opacity="0.23"/><line x1="613" y1="183" x2="595" y2="203" stroke="#9a6c62" stroke-width="1.0" opacity="0.26"/><line x1="433" y1="164" x2="442" y2="181" stroke="#9a6c62" stroke-width="0.9" opacity="0.14"/><line x1="657" y1="257" x2="675" y2="279" stroke="#b88e84" stroke-width="1.1" opacity="0.27"/><line x1="727" y1="290" x2="700" y2="303" stroke="#c89a90" stroke-width="0.6" opacity="0.17"/><line x1="353" y1="104" x2="340" y2="123" stroke="#b88e84" stroke-width="0.7" opacity="0.12"/><line x1="555" y1="110" x2="532" y2="132" stroke="#b07a72" stroke-width="0.8" opacity="0.20"/><line x1="403" y1="237" x2="391" y2="255" stroke="#c89a90" stroke-width="0.9" opacity="0.16"/><line x1="664" y1="184" x2="638" y2="205" stroke="#b88e84" stroke-width="0.6" opacity="0.13"/><line x1="734" y1="154" x2="720" y2="166" stroke="#8e6a60" stroke-width="0.9" opacity="0.24"/><line x1="471" y1="271" x2="450" y2="278" stroke="#9a8a72" stroke-width="1.0" opacity="0.22"/><line x1="565" y1="128" x2="532" y2="157" stroke="#b07a72" stroke-width="1.1" opacity="0.21"/><line x1="349" y1="201" x2="343" y2="216" stroke="#b07a72" stroke-width="0.7" opacity="0.25"/><line x1="534" y1="200" x2="544" y2="214" stroke="#8e6a60" stroke-width="0.8" opacity="0.24"/><line x1="718" y1="172" x2="729" y2="184" stroke="#8e6a60" stroke-width="1.0" opacity="0.27"/><line x1="874" y1="286" x2="837" y2="297" stroke="#8e6a60" stroke-width="0.8" opacity="0.23"/><line x1="419" y1="116" x2="401" y2="144" stroke="#b88e84" stroke-width="0.6" opacity="0.17"/><line x1="560" y1="247" x2="545" y2="260" stroke="#8e6a60" stroke-width="1.0" opacity="0.27"/><line x1="380" y1="177" x2="356" y2="213" stroke="#b88e84" stroke-width="0.8" opacity="0.19"/><line x1="317" y1="175" x2="299" y2="213" stroke="#8e6a60" stroke-width="0.7" opacity="0.22"/><line x1="675" y1="182" x2="689" y2="200" stroke="#b07a72" stroke-width="1.1" opacity="0.25"/><line x1="820" y1="308" x2="788" y2="315" stroke="#c89a90" stroke-width="0.7" opacity="0.23"/><line x1="679" y1="217" x2="670" y2="229" stroke="#9a8a72" stroke-width="0.7" opacity="0.23"/><line x1="825" y1="119" x2="839" y2="130" stroke="#c89a90" stroke-width="0.9" opacity="0.11"/><line x1="319" y1="217" x2="308" y2="233" stroke="#8e6a60" stroke-width="1.0" opacity="0.16"/><line x1="695" y1="301" x2="677" y2="306" stroke="#8e6a60" stroke-width="1.0" opacity="0.17"/><line x1="528" y1="246" x2="512" y2="282" stroke="#8e6a60" stroke-width="0.7" opacity="0.15"/><line x1="368" y1="99" x2="351" y2="129" stroke="#c89a90" stroke-width="0.7" opacity="0.23"/><line x1="804" y1="89" x2="818" y2="99" stroke="#c89a90" stroke-width="0.9" opacity="0.23"/><line x1="626" y1="198" x2="615" y2="211" stroke="#9a8a72" stroke-width="0.6" opacity="0.16"/><line x1="665" y1="93" x2="650" y2="106" stroke="#9a6c62" stroke-width="0.8" opacity="0.26"/><line x1="873" y1="161" x2="845" y2="191" stroke="#b88e84" stroke-width="1.0" opacity="0.23"/><line x1="458" y1="178" x2="469" y2="193" stroke="#9a6c62" stroke-width="0.8" opacity="0.25"/><line x1="434" y1="135" x2="449" y2="158" stroke="#b07a72" stroke-width="0.8" opacity="0.20"/><line x1="484" y1="240" x2="501" y2="270" stroke="#b88e84" stroke-width="0.6" opacity="0.25"/><line x1="508" y1="215" x2="491" y2="237" stroke="#9a8a72" stroke-width="1.0" opacity="0.24"/><line x1="391" y1="254" x2="373" y2="288" stroke="#9a6c62" stroke-width="0.6" opacity="0.24"/><line x1="424" y1="199" x2="409" y2="224" stroke="#9a8a72" stroke-width="0.7" opacity="0.13"/><line x1="639" y1="176" x2="618" y2="199" stroke="#b07a72" stroke-width="0.8" opacity="0.12"/><line x1="490" y1="302" x2="464" y2="313" stroke="#9a6c62" stroke-width="0.9" opacity="0.12"/><line x1="853" y1="161" x2="883" y2="182" stroke="#c89a90" stroke-width="1.0" opacity="0.18"/><line x1="632" y1="191" x2="605" y2="219" stroke="#9a6c62" stroke-width="1.0" opacity="0.21"/><line x1="571" y1="183" x2="545" y2="216" stroke="#b88e84" stroke-width="1.0" opacity="0.26"/><line x1="587" y1="188" x2="555" y2="216" stroke="#c89a90" stroke-width="0.9" opacity="0.13"/><line x1="364" y1="159" x2="347" y2="190" stroke="#8e6a60" stroke-width="0.7" opacity="0.28"/><line x1="747" y1="119" x2="735" y2="128" stroke="#b07a72" stroke-width="0.8" opacity="0.24"/><line x1="780" y1="197" x2="806" y2="218" stroke="#b88e84" stroke-width="1.0" opacity="0.15"/><line x1="388" y1="109" x2="374" y2="141" stroke="#9a6c62" stroke-width="0.6" opacity="0.13"/><line x1="320" y1="218" x2="311" y2="237" stroke="#c89a90" stroke-width="0.9" opacity="0.25"/><line x1="718" y1="269" x2="701" y2="277" stroke="#b88e84" stroke-width="0.8" opacity="0.16"/><line x1="440" y1="248" x2="455" y2="274" stroke="#9a6c62" stroke-width="0.8" opacity="0.23"/><line x1="639" y1="141" x2="612" y2="166" stroke="#9a6c62" stroke-width="0.8" opacity="0.19"/><line x1="516" y1="106" x2="508" y2="124" stroke="#b88e84" stroke-width="0.8" opacity="0.12"/><line x1="507" y1="131" x2="495" y2="153" stroke="#c89a90" stroke-width="0.6" opacity="0.27"/><line x1="531" y1="127" x2="523" y2="141" stroke="#9a8a72" stroke-width="1.0" opacity="0.22"/><line x1="520" y1="279" x2="504" y2="287" stroke="#8e6a60" stroke-width="0.8" opacity="0.18"/><line x1="518" y1="271" x2="498" y2="279" stroke="#9a8a72" stroke-width="0.7" opacity="0.25"/><line x1="850" y1="207" x2="881" y2="231" stroke="#9a6c62" stroke-width="0.7" opacity="0.13"/><line x1="533" y1="268" x2="517" y2="272" stroke="#b07a72" stroke-width="0.8" opacity="0.27"/><line x1="642" y1="135" x2="658" y2="157" stroke="#b07a72" stroke-width="0.8" opacity="0.11"/><line x1="823" y1="197" x2="848" y2="222" stroke="#9a6c62" stroke-width="0.8" opacity="0.22"/><line x1="757" y1="94" x2="740" y2="111" stroke="#b07a72" stroke-width="0.8" opacity="0.15"/><line x1="734" y1="214" x2="722" y2="225" stroke="#b07a72" stroke-width="0.7" opacity="0.13"/><line x1="578" y1="300" x2="553" y2="310" stroke="#8e6a60" stroke-width="0.7" opacity="0.25"/><line x1="802" y1="262" x2="792" y2="273" stroke="#9a6c62" stroke-width="0.8" opacity="0.13"/></g>
<g filter="url(#sb2)" opacity="0.4">
<polyline points="481.8,300.4 540.4,248.5 573.9,233.5" fill="none" stroke="#b08a80" stroke-width="3"/>
<polyline points="363.0,115.0 330.0,170.0 288.0,247.0" fill="none" stroke="#b08a80" stroke-width="3"/>
<polyline points="353.7,147.9 320.0,200.0 283.8,239.5" fill="none" stroke="#b08a80" stroke-width="3"/>
<polyline points="274.0,287.7 320.0,272.0 370.5,256.3" fill="none" stroke="#b08a80" stroke-width="3"/>
<polyline points="298.2,273.2 350.0,248.0 394.6,225.0 418.8,203.3" fill="none" stroke="#b08a80" stroke-width="3"/>
<polyline points="404.3,210.5 430.0,250.0 454.9,282.9" fill="none" stroke="#b08a80" stroke-width="3"/>
<polyline points="703.8,190.0 712.0,220.0 724.5,254.9" fill="none" stroke="#b08a80" stroke-width="3"/>
<polyline points="820.5,203.0 860.0,250.0 898.3,293.8" fill="none" stroke="#b08a80" stroke-width="3"/>
<polyline points="716.7,216.0 680.0,255.0 638.9,293.8" fill="none" stroke="#b08a80" stroke-width="3"/>
<polyline points="600.0,300.0 640.0,270.0 690.0,240.0" fill="none" stroke="#b08a80" stroke-width="3"/>
<polyline points="760.0,300.0 800.0,270.0 840.0,240.0" fill="none" stroke="#b08a80" stroke-width="3"/>
<polyline points="540.0,300.0 520.0,270.0 505.0,240.0" fill="none" stroke="#b08a80" stroke-width="3"/>
</g>
</g>
<polygon points="339.0,86.1 346.6,80.7 355.3,77.4 366.2,74.1 383.6,70.7 418.4,70.7 437.1,72.1 463.9,72.9 490.7,73.4 504.1,74.7 517.5,72.1 544.2,72.1 571.0,73.4 597.8,78.7 613.9,84.1 624.6,92.1 627.3,97.5 624.6,104.0 611.2,113.6 590.0,119.0 571.0,120.3 545.0,121.0 517.5,120.3 490.0,118.0 463.9,114.9 440.0,110.0 420.0,104.0 409.7,101.3 398.8,102.4 385.8,101.3 377.0,98.1 366.2,94.8 355.3,91.6" fill="url(#topL)"/>
<polygon points="440,110 490,118 545,121 590,119 611,113.6 625,104 630,118 610,132 560,140 520,134 470,124" fill="#4a4a30" opacity="0.8"/>
<polygon points="624.6,94.0 634.3,94.0 658.5,91.5 677.9,86.7 694.9,79.4 719.2,73.3 743.5,69.7 767.7,72.1 784.7,77.0 804.1,78.2 828.4,81.8 843.0,87.9 847.8,94.0 861.3,114.2 870.3,124.8 830.0,124.0 800.0,124.0 770.0,118.0 740.0,122.0 731.0,142.5 680.0,142.5 640.0,142.5 620.0,140.0 624.0,118.0" fill="#4a3c31"/>
<g clip-path="url(#fc)" filter="url(#bl)"><ellipse cx="650" cy="120" rx="40" ry="25" fill="#5a4034" opacity="0.8"/><ellipse cx="700" cy="115" rx="40" ry="20" fill="#474232" opacity="0.8"/></g>
<polygon points="660.0,92.0 677.9,86.7 694.9,79.4 719.2,73.3 743.5,69.7 767.7,72.1 784.7,77.0 804.1,78.2 828.4,81.8 843.0,87.9 847.8,94.0 856.0,106.0 840.0,114.0 815.0,116.0 790.0,112.0 760.0,106.0 730.0,106.0 700.0,104.0 680.0,100.0" fill="#5a5a3c" opacity="0.95"/>
<polygon points="700,80 719.2,73.3 743.5,69.7 767.7,72.1 784.7,77 804.1,78.2 828.4,81.8 843,87.9 846,95 830,100 800,98 770,92 740,90 710,90" fill="#6c7244" opacity="0.9"/>
<polygon points="735,74 760,71 782,76 790,84 770,86 745,84" fill="#8a9a4e" opacity="0.8"/>
<defs><clipPath id="tc"><polygon points="339.0,86.1 346.6,80.7 355.3,77.4 366.2,74.1 383.6,70.7 418.4,70.7 437.1,72.1 463.9,72.9 490.7,73.4 504.1,74.7 517.5,72.1 544.2,72.1 571.0,73.4 597.8,78.7 613.9,84.1 624.6,92.1 627.3,97.5 624.6,104.0 611.2,113.6 590.0,119.0 571.0,120.3 545.0,121.0 517.5,120.3 490.0,118.0 463.9,114.9 440.0,110.0 420.0,104.0 409.7,101.3 398.8,102.4 385.8,101.3 377.0,98.1 366.2,94.8 355.3,91.6"/><polygon points="660.0,92.0 677.9,86.7 694.9,79.4 719.2,73.3 743.5,69.7 767.7,72.1 784.7,77.0 804.1,78.2 828.4,81.8 843.0,87.9 847.8,94.0 856.0,106.0 840.0,114.0 815.0,116.0 790.0,112.0 760.0,106.0 730.0,106.0 700.0,104.0 680.0,100.0"/></clipPath>
<filter id="tx3" color-interpolation-filters="sRGB" filterUnits="userSpaceOnUse" x="300" y="50" width="600" height="120">
 <feTurbulence type="fractalNoise" baseFrequency="0.3" numOctaves="3" seed="11"/>
 <feColorMatrix type="matrix" values="0 0 0 0 0.75  0 0 0 0 0.80  0 0 0 0 0.42  3 0 0 0 -1.5"/>
</filter>
<filter id="tx4" color-interpolation-filters="sRGB" filterUnits="userSpaceOnUse" x="300" y="50" width="600" height="120">
 <feTurbulence type="fractalNoise" baseFrequency="0.25" numOctaves="3" seed="21"/>
 <feColorMatrix type="matrix" values="0 0 0 0 0.22  0 0 0 0 0.26  0 0 0 0 0.12  3.5 0 0 0 -1.7"/>
</filter></defs>
<g clip-path="url(#tc)"><rect x="300" y="50" width="600" height="120" filter="url(#tx3)" opacity="0.5"/><rect x="300" y="50" width="600" height="120" filter="url(#tx4)" opacity="0.6"/></g>
<defs><clipPath id="tb"><polygon points="624.6,94.0 634.3,94.0 658.5,91.5 677.9,86.7 694.9,79.4 719.2,73.3 743.5,69.7 767.7,72.1 784.7,77.0 804.1,78.2 828.4,81.8 843.0,87.9 847.8,94.0 861.3,114.2 870.3,124.8 830.0,124.0 800.0,124.0 770.0,118.0 740.0,122.0 731.0,142.5 680.0,142.5 640.0,142.5 620.0,140.0 624.0,118.0"/></clipPath></defs>
<g clip-path="url(#tb)"><g transform="rotate(-20 700 120)"><rect x="600" y="60" width="300" height="120" filter="url(#tx1)" opacity="0.35"/></g><rect x="600" y="60" width="300" height="100" filter="url(#tx2)" opacity="0.6"/></g>
<polyline points="805,124.5 840,124 872,125" fill="none" stroke="#9a8a78" stroke-width="1.5" opacity="0.8"/>
<polyline points="560,146 610,142.5 680,143 731,142" fill="none" stroke="#8a8070" stroke-width="1.5" opacity="0.7"/>
<defs><filter id="sb" x="-20%" y="-20%" width="140%" height="140%"><feGaussianBlur stdDeviation="0.5"/></filter></defs>
<g filter="url(#sb)">
<polyline points="374,234 362,241 350,249" fill="none" stroke="#a8c8b8" stroke-width="4.5" stroke-linecap="round" opacity="0.7"/>
<polyline points="358.8,93.5 356.9,97.0 355.7,100.9 353.9,105.3 351.5,109.6 350.5,113.6 348.3,117.3 346.9,120.6 346.1,125.6 344.1,128.4 343.5,133.4 342.0,136.3 340.4,140.3 339.8,143.6 338.3,148.0 335.8,151.7 334.7,156.9 333.7,160.4 330.4,163.9 328.4,166.9 325.4,169.8 321.9,173.3 320.1,177.0 317.0,180.5 314.7,184.7 312.9,188.2 311.4,192.9 308.5,196.7 306.9,200.6 305.3,205.4 304.0,208.6 302.7,212.5 300.3,217.3 296.8,221.1 293.0,224.0 290.2,227.4 287.0,231.0 285.6,234.2 283.3,237.2 280.2,240.8 279.2,245.0 277.6,248.7 276.7,253.5 274.8,257.1 273.5,260.8 271.8,265.1 271.7,269.6 271.0,272.5 269.3,277.1 268.5,280.9" fill="none" stroke="#78a0c8" stroke-width="5.6" stroke-linecap="round" stroke-linejoin="round"/>
<polyline points="385.6,105.2 382.9,108.8 381.2,111.8 379.0,116.5 377.2,119.3 375.7,123.9 373.9,126.9 371.6,130.7 370.6,135.3 369.4,139.2 366.9,142.4 365.3,147.1 363.9,150.4 362.9,153.7 360.0,157.8 358.4,162.1 357.3,165.6 354.7,169.8 353.8,173.8 352.3,177.9 351.8,182.1 349.8,186.0 348.7,189.2 347.1,193.9 347.1,199.0 346.4,203.7 344.9,207.8 343.8,212.8 343.8,217.3 342.0,220.5 341.1,224.6 340.2,228.3 338.5,232.4 337.6,236.7 337.1,240.8 335.1,245.6 334.8,248.6 333.0,253.1 332.1,257.5" fill="none" stroke="#6eb45a" stroke-width="5.6" stroke-linecap="round" stroke-linejoin="round"/>
<polyline points="411.3,105.5 410.8,108.9 411.2,114.3 410.3,117.5 409.3,120.9 409.4,125.2 409.9,129.0 409.0,133.6 407.7,138.4 408.0,141.2 407.6,145.1 407.0,150.0 406.5,155.2 406.4,159.2 405.3,163.4 403.2,167.4 401.4,172.2 400.3,176.4 398.6,180.2 396.2,184.0 394.9,189.4 392.9,193.3 390.2,197.0 389.0,201.4 386.4,205.1 384.9,208.3 382.7,212.7 381.8,217.1 379.5,221.6 378.6,225.5 376.6,230.6 374.0,234.0" fill="none" stroke="#32aa86" stroke-width="5.6" stroke-linecap="round" stroke-linejoin="round"/>
<polyline points="432.1,160.1 432.8,164.6 431.7,169.1 431.6,173.7 432.3,179.5 432.1,183.6 432.4,187.8 431.8,192.4 430.6,196.4 431.7,200.8 431.2,204.5 430.5,208.7 431.1,213.1 432.4,217.0 433.8,220.5 436.3,224.8 437.0,230.1 438.9,233.9" fill="none" stroke="#98d8b8" stroke-width="5.6" stroke-linecap="round" stroke-linejoin="round"/>
<polyline points="434.4,129.6 436.7,133.2 437.7,137.4 440.9,142.6 441.7,146.8 444.2,150.4 447.0,154.7 448.0,158.5 449.6,161.7 453.0,166.7 454.2,170.5 457.1,175.5 460.0,179.1 463.3,183.5 467.3,186.2 470.1,190.4 472.2,193.8 474.7,198.1 477.2,201.6 480.1,205.5 482.3,209.3 485.5,211.7 488.7,215.6 491.4,218.1 495.5,220.9 499.8,222.4 504.0,224.4" fill="none" stroke="#e2e8aa" stroke-width="5.6" stroke-linecap="round" stroke-linejoin="round"/>
<polyline points="478.9,121.3 478.2,125.2 477.4,130.1 475.9,135.8 476.0,140.0 475.2,144.1 475.9,148.4 475.0,152.5 475.1,157.1 474.1,160.9 474.5,165.0 473.7,169.2 474.2,174.2 473.5,179.2 473.6,183.2 472.6,187.9 474.0,192.0" fill="none" stroke="#c8d8a0" stroke-width="5.6" stroke-linecap="round" stroke-linejoin="round"/>
<polyline points="496.5,125.0 498.3,128.8 499.9,132.9 501.5,136.4 502.7,140.6 504.0,145.4 505.3,148.9 506.9,153.3 508.5,156.1 509.1,160.3" fill="none" stroke="#d8a060" stroke-width="5.6" stroke-linecap="round" stroke-linejoin="round"/>
<polyline points="517.9,135.1 517.6,140.4 517.6,143.7 516.6,148.9 514.1,153.2 512.8,157.7 509.6,162.3 507.8,167.8 505.9,173.1 505.7,178.5 504.0,182.9 502.6,188.3 502.6,192.4 501.5,198.0 501.8,202.8 500.5,206.9 500.4,210.2 500.3,214.3 504.0,218.1 508.9,219.9 511.7,220.5 516.3,221.6 520.4,223.1" fill="none" stroke="#7858c0" stroke-width="5.6" stroke-linecap="round" stroke-linejoin="round"/>
<polyline points="534.2,155.2 530.6,160.0 527.9,165.3 524.9,168.3 521.3,172.7 517.9,176.6 514.2,179.3 512.2,182.5 509.1,185.4 505.9,189.3 504.0,191.7" fill="none" stroke="#9a90d0" stroke-width="5.6" stroke-linecap="round" stroke-linejoin="round"/>
<polyline points="544.3,148.9 540.5,155.2 541.4,161.0 540.7,164.9 541.8,170.3 542.7,175.8 544.8,179.8 546.8,185.4 547.9,190.3 549.8,193.4 550.6,198.0 551.3,203.7 553.1,208.1" fill="none" stroke="#c8c8dc" stroke-width="5.6" stroke-linecap="round" stroke-linejoin="round"/>
<polyline points="585.8,155.2 585.5,159.7 584.3,162.9 584.5,167.8 582.3,171.4 578.8,176.0 577.0,179.1 574.7,183.3 571.3,187.2 569.4,190.4 565.8,194.8 563.5,197.7 560.6,201.8 557.6,205.3 554.0,206.9 551.3,209.9 548.1,213.1 543.7,215.7 539.8,218.9 536.5,222.2 533.0,225.7" fill="none" stroke="#78acd8" stroke-width="5.6" stroke-linecap="round" stroke-linejoin="round"/>
<polyline points="588.3,194.2 589.5,198.5 590.0,203.0 590.8,208.1 591.2,212.0 591.7,216.7 593.0,222.3 593.3,226.9" fill="none" stroke="#a8d0e8" stroke-width="5.6" stroke-linecap="round" stroke-linejoin="round"/>
<polyline points="402.8,227.2 399.2,231.1 397.4,234.4 393.6,238.9 389.9,242.1 385.2,245.6" fill="none" stroke="#7068b8" stroke-width="5.6" stroke-linecap="round" stroke-linejoin="round"/>
<polyline points="393.6,250.7 394.0,255.4 394.2,259.1 395.1,264.0 395.2,267.4 396.6,272.4 398.9,276.6 400.3,280.9 401.8,284.6 402.9,288.1 405.3,292.6 402.9,297.2 401.9,301.0 397.0,306.0" fill="none" stroke="#a0c8cc" stroke-width="5.6" stroke-linecap="round" stroke-linejoin="round"/>
<polyline points="536.2,270.9 535.1,274.4 534.2,279.5 534.8,283.2 533.2,286.6 532.9,291.0" fill="none" stroke="#3078c8" stroke-width="5.6" stroke-linecap="round" stroke-linejoin="round"/>
<polyline points="660.0,146.7 659.4,150.7 658.9,154.8 658.8,159.7 659.6,163.2 658.6,167.2 658.5,172.3 659.0,175.7 658.9,180.1 660.0,184.7 661.4,189.1 662.5,193.5 663.6,197.5 665.9,202.3" fill="none" stroke="#d8ecf0" stroke-width="5.6" stroke-linecap="round" stroke-linejoin="round"/>
<polyline points="695.2,146.7 695.4,150.6 696.2,154.1 697.5,158.6 698.9,163.1 699.6,167.2 698.0,172.3 696.0,177.5 693.7,181.8 689.9,184.4 687.2,187.1 683.1,190.8 679.1,193.5 675.4,197.0 673.9,199.6 670.3,202.3" fill="none" stroke="#d4302a" stroke-width="5.6" stroke-linecap="round" stroke-linejoin="round"/>
<polyline points="753.8,126.2 753.3,130.8 751.5,134.4 751.2,139.0 750.8,143.1 749.4,146.7 748.6,151.7 747.7,155.8 746.0,159.1 744.9,164.0 743.9,169.2 743.5,173.0 742.9,177.6 742.3,182.1 741.3,185.4 740.6,190.6 742.2,195.4 742.8,199.5 744.2,203.1 745.0,208.2" fill="none" stroke="#e4489a" stroke-width="5.6" stroke-linecap="round" stroke-linejoin="round"/>
<polyline points="808.0,124.7 806.6,128.7 803.8,133.1 803.1,137.4 801.3,143.1 799.2,146.7 797.1,150.3 795.0,154.5 793.3,158.2 791.0,161.1 788.1,165.1 787.0,168.9 784.5,173.0 781.7,175.7 778.0,179.7 776.0,183.9 773.1,186.7 769.9,190.6 766.6,193.3 763.2,195.4 760.5,198.3 757.3,202.2 752.4,204.1 750.4,207.6 746.5,209.6" fill="none" stroke="#f0c8b6" stroke-width="5.6" stroke-linecap="round" stroke-linejoin="round"/>
<polyline points="810.9,173.0 809.6,176.7 808.1,181.9 806.9,185.4 805.6,189.4 805.0,193.5 803.4,197.0 800.8,201.7 798.6,206.1 795.2,210.5 793.3,214.0 791.2,217.3 788.4,222.2 787.1,226.0 784.6,230.2 783.1,234.5" fill="none" stroke="#46aa3a" stroke-width="5.6" stroke-linecap="round" stroke-linejoin="round"/>
<polyline points="827.0,126.2 827.6,130.8 828.0,134.8 830.2,137.9 831.2,142.9 831.4,146.7 833.8,150.5 834.7,154.7 837.5,159.1 838.2,163.0 840.2,167.2 841.6,170.6 843.1,175.9 845.1,180.2 846.8,183.2 849.0,187.7 850.2,191.3 851.1,196.6 853.1,200.5 853.8,204.8 854.8,208.2 858.4,211.2 861.0,213.3 863.9,216.9 866.5,219.9 869.9,223.1 872.1,225.0 876.0,228.1 878.3,231.6" fill="none" stroke="#a8d878" stroke-width="5.6" stroke-linecap="round" stroke-linejoin="round"/>
<polyline points="850.4,132.0 853.7,135.4 856.7,139.7 861.1,142.6 863.6,146.7 866.0,150.0 868.1,153.8 869.7,157.1 872.4,161.3 874.9,165.8 878.3,168.7 881.2,173.0" fill="none" stroke="#f08a24" stroke-width="5.6" stroke-linecap="round" stroke-linejoin="round"/>
<polyline points="863.6,132.0 866.2,137.7 867.5,141.2 869.5,146.7 870.9,150.9 873.1,155.8 875.3,161.3 878.4,163.9 882.5,167.8 886.3,170.0 889.2,173.1 892.9,176.0" fill="none" stroke="#f0b46c" stroke-width="5.6" stroke-linecap="round" stroke-linejoin="round"/>
</g>
<line x1="407.9" y1="106.0" x2="401.7" y2="94.8" stroke="#fff" stroke-width="2.2"/>
<polygon points="398.8,89.5 404.1,93.4 399.2,96.1" fill="#fff"/>
<line x1="474.3" y1="119.1" x2="459.3" y2="103.5" stroke="#fff" stroke-width="2.2"/>
<polygon points="455.1,99.2 461.3,101.6 457.3,105.5" fill="#fff"/>
<line x1="496.1" y1="124.0" x2="491.9" y2="110.2" stroke="#fff" stroke-width="2.2"/>
<polygon points="490.1,104.5 494.5,109.4 489.2,111.1" fill="#fff"/>
<line x1="516.8" y1="130.4" x2="519.5" y2="118.8" stroke="#fff" stroke-width="2.2"/>
<polygon points="520.9,113.0 522.2,119.5 516.8,118.2" fill="#fff"/>
<line x1="522.3" y1="171.6" x2="523.2" y2="226.0" stroke="#fff" stroke-width="2.2"/>
<polygon points="523.3,232.0 520.4,226.0 526.0,226.0" fill="#fff"/>
<line x1="383.5" y1="249.0" x2="374.9" y2="262.9" stroke="#fff" stroke-width="2.2"/>
<polygon points="371.7,268.0 372.5,261.4 377.2,264.4" fill="#fff"/>
<rect x="383.0" y="61.8" width="33" height="26.0" fill="#fff"/>
<text x="399.5" y="80.0" font-size="17" fill="#1a1a1a" stroke="#1a1a1a" stroke-width="0.35" text-anchor="middle">G21</text>
<rect x="435.4" y="72.4" width="33" height="26.0" fill="#fff"/>
<text x="451.9" y="90.6" font-size="17" fill="#1a1a1a" stroke="#1a1a1a" stroke-width="0.35" text-anchor="middle">G16</text>
<rect x="471.1" y="76.6" width="33" height="26.0" fill="#fff"/>
<text x="487.6" y="94.8" font-size="17" fill="#1a1a1a" stroke="#1a1a1a" stroke-width="0.35" text-anchor="middle">G15</text>
<rect x="507.3" y="85.6" width="33" height="26.0" fill="#fff"/>
<text x="523.8" y="103.8" font-size="17" fill="#1a1a1a" stroke="#1a1a1a" stroke-width="0.35" text-anchor="middle">G14</text>
<rect x="413.1" y="101.0" width="33" height="26.0" fill="#fff"/>
<text x="429.6" y="119.2" font-size="17" fill="#1a1a1a" stroke="#1a1a1a" stroke-width="0.35" text-anchor="middle">G17</text>
<rect x="532.9" y="116.0" width="33" height="26.0" fill="#fff"/>
<text x="549.4" y="134.2" font-size="17" fill="#1a1a1a" stroke="#1a1a1a" stroke-width="0.35" text-anchor="middle">G12</text>
<rect x="577.4" y="120.7" width="33" height="26.0" fill="#fff"/>
<text x="593.9" y="138.9" font-size="17" fill="#1a1a1a" stroke="#1a1a1a" stroke-width="0.35" text-anchor="middle">G10</text>
<rect x="441.0" y="225.1" width="33" height="26.0" fill="#fff"/>
<text x="457.5" y="243.3" font-size="17" fill="#1a1a1a" stroke="#1a1a1a" stroke-width="0.35" text-anchor="middle">G18</text>
<rect x="505.0" y="234.5" width="33" height="26.0" fill="#fff"/>
<text x="521.5" y="252.7" font-size="17" fill="#1a1a1a" stroke="#1a1a1a" stroke-width="0.35" text-anchor="middle">G13</text>
<rect x="599.8" y="231.9" width="33" height="26.0" fill="#fff"/>
<text x="616.3" y="250.1" font-size="17" fill="#1a1a1a" stroke="#1a1a1a" stroke-width="0.35" text-anchor="middle">G9</text>
<rect x="228.2" y="262.7" width="33" height="26.0" fill="#fff"/>
<text x="244.7" y="280.9" font-size="17" fill="#1a1a1a" stroke="#1a1a1a" stroke-width="0.35" text-anchor="middle">G23</text>
<rect x="303.3" y="273.5" width="33" height="26.0" fill="#fff"/>
<text x="319.8" y="291.7" font-size="17" fill="#1a1a1a" stroke="#1a1a1a" stroke-width="0.35" text-anchor="middle">G22</text>
<rect x="352.5" y="268.4" width="33" height="26.0" fill="#fff"/>
<text x="369.0" y="286.6" font-size="17" fill="#1a1a1a" stroke="#1a1a1a" stroke-width="0.35" text-anchor="middle">G19</text>
<rect x="414.6" y="291.0" width="33" height="26.0" fill="#fff"/>
<text x="431.1" y="309.2" font-size="17" fill="#1a1a1a" stroke="#1a1a1a" stroke-width="0.35" text-anchor="middle">G20</text>
<rect x="545.3" y="266.5" width="33" height="26.0" fill="#fff"/>
<text x="561.8" y="284.7" font-size="17" fill="#1a1a1a" stroke="#1a1a1a" stroke-width="0.35" text-anchor="middle">G11</text>
<rect x="635.1" y="117.4" width="33" height="26.0" fill="#fff"/>
<text x="651.6" y="135.6" font-size="17" fill="#1a1a1a" stroke="#1a1a1a" stroke-width="0.35" text-anchor="middle">G8</text>
<rect x="685.8" y="116.8" width="33" height="26.0" fill="#fff"/>
<text x="702.3" y="135.0" font-size="17" fill="#1a1a1a" stroke="#1a1a1a" stroke-width="0.35" text-anchor="middle">G7</text>
<rect x="731.8" y="93.4" width="33" height="26.0" fill="#fff"/>
<text x="748.3" y="111.6" font-size="17" fill="#1a1a1a" stroke="#1a1a1a" stroke-width="0.35" text-anchor="middle">G6</text>
<rect x="781.6" y="89.5" width="33" height="26.0" fill="#fff"/>
<text x="798.1" y="107.7" font-size="17" fill="#1a1a1a" stroke="#1a1a1a" stroke-width="0.35" text-anchor="middle">G5</text>
<rect x="833.5" y="94.5" width="33" height="27.5" fill="#fff"/>
<text x="850.0" y="113.5" font-size="17" fill="#1a1a1a" stroke="#1a1a1a" stroke-width="0.35" text-anchor="middle">G2</text>
<rect x="900.2" y="174.5" width="33" height="26.0" fill="#fff"/>
<text x="916.7" y="192.7" font-size="17" fill="#1a1a1a" stroke="#1a1a1a" stroke-width="0.35" text-anchor="middle">G1</text>
<rect x="792.7" y="227.2" width="33" height="26.0" fill="#fff"/>
<text x="809.2" y="245.4" font-size="17" fill="#1a1a1a" stroke="#1a1a1a" stroke-width="0.35" text-anchor="middle">G4</text>
<rect x="881.8" y="225.7" width="33" height="26.0" fill="#fff"/>
<text x="898.3" y="243.9" font-size="17" fill="#1a1a1a" stroke="#1a1a1a" stroke-width="0.35" text-anchor="middle">G3</text>
<rect x="892.6" y="19.8" width="239.8" height="146.2" fill="#fff"/>
<line x1="892.6" y1="42.5" x2="1132.4" y2="42.5" stroke="#444" stroke-width="1.5"/>
<text x="1012.7" y="37.5" font-size="17" font-weight="bold" text-anchor="middle" fill="#111">Legend</text>
<line x1="895.2" y1="53.5" x2="918.7" y2="53.5" stroke="#f5b97a" stroke-width="4"/>
<text x="921.3" y="60.0" font-size="17" fill="#222">G1</text>
<line x1="895.2" y1="73.7" x2="918.7" y2="73.7" stroke="#f08a2a" stroke-width="4"/>
<text x="921.3" y="80.2" font-size="17" fill="#222">G2</text>
<line x1="895.2" y1="93.9" x2="918.7" y2="93.9" stroke="#a6d98a" stroke-width="4"/>
<text x="921.3" y="100.4" font-size="17" fill="#222">G3</text>
<line x1="895.2" y1="114.1" x2="918.7" y2="114.1" stroke="#3f9b3f" stroke-width="4"/>
<text x="921.3" y="120.6" font-size="17" fill="#222">G4</text>
<line x1="895.2" y1="134.3" x2="918.7" y2="134.3" stroke="#f5c2b8" stroke-width="4"/>
<text x="921.3" y="140.8" font-size="17" fill="#222">G5</text>
<line x1="895.2" y1="154.5" x2="918.7" y2="154.5" stroke="#e0589b" stroke-width="4"/>
<text x="921.3" y="161.0" font-size="17" fill="#222">G6</text>
<line x1="948.5" y1="53.5" x2="972.5" y2="53.5" stroke="#b22028" stroke-width="4"/>
<text x="974.6" y="60.0" font-size="17" fill="#222">G7</text>
<line x1="948.5" y1="73.7" x2="972.5" y2="73.7" stroke="#c8ddf0" stroke-width="4"/>
<text x="974.6" y="80.2" font-size="17" fill="#222">G8</text>
<line x1="948.5" y1="93.9" x2="972.5" y2="93.9" stroke="#9fc3dc" stroke-width="4"/>
<text x="974.6" y="100.4" font-size="17" fill="#222">G9</text>
<line x1="948.5" y1="114.1" x2="972.5" y2="114.1" stroke="#5f98c8" stroke-width="4"/>
<text x="974.6" y="120.6" font-size="17" fill="#222">G10</text>
<line x1="948.5" y1="134.3" x2="972.5" y2="134.3" stroke="#2b6aa8" stroke-width="4"/>
<text x="974.6" y="140.8" font-size="17" fill="#222">G11</text>
<line x1="948.5" y1="154.5" x2="972.5" y2="154.5" stroke="#bdb8da" stroke-width="4"/>
<text x="974.6" y="161.0" font-size="17" fill="#222">G12</text>
<line x1="1010.5" y1="53.5" x2="1034.5" y2="53.5" stroke="#8c86c0" stroke-width="4"/>
<text x="1036.7" y="60.0" font-size="17" fill="#222">G13</text>
<line x1="1010.5" y1="73.7" x2="1034.5" y2="73.7" stroke="#5b3a9b" stroke-width="4"/>
<text x="1036.7" y="80.2" font-size="17" fill="#222">G14</text>
<line x1="1010.5" y1="93.9" x2="1034.5" y2="93.9" stroke="#e3a877" stroke-width="4"/>
<text x="1036.7" y="100.4" font-size="17" fill="#222">G15</text>
<line x1="1010.5" y1="114.1" x2="1034.5" y2="114.1" stroke="#cfe0b0" stroke-width="4"/>
<text x="1036.7" y="120.6" font-size="17" fill="#222">G16</text>
<line x1="1010.5" y1="134.3" x2="1034.5" y2="134.3" stroke="#ecefc2" stroke-width="4"/>
<text x="1036.7" y="140.8" font-size="17" fill="#222">G17</text>
<line x1="1010.5" y1="154.5" x2="1034.5" y2="154.5" stroke="#8ccfae" stroke-width="4"/>
<text x="1036.7" y="161.0" font-size="17" fill="#222">G18</text>
<line x1="1072.6" y1="53.5" x2="1096.5" y2="53.5" stroke="#56709e" stroke-width="4"/>
<text x="1098.7" y="60.0" font-size="17" fill="#222">G19</text>
<line x1="1072.6" y1="73.7" x2="1096.5" y2="73.7" stroke="#7fa8a8" stroke-width="4"/>
<text x="1098.7" y="80.2" font-size="17" fill="#222">G20</text>
<line x1="1072.6" y1="93.9" x2="1096.5" y2="93.9" stroke="#2fa88a" stroke-width="4"/>
<text x="1098.7" y="100.4" font-size="17" fill="#222">G21</text>
<line x1="1072.6" y1="114.1" x2="1096.5" y2="114.1" stroke="#69a85c" stroke-width="4"/>
<text x="1098.7" y="120.6" font-size="17" fill="#222">G22</text>
<line x1="1072.6" y1="134.3" x2="1096.5" y2="134.3" stroke="#4f82b4" stroke-width="4"/>
<text x="1098.7" y="140.8" font-size="17" fill="#222">G23</text>
<polyline points="121.5,141.9 121.5,276.8 674.9,442.3 1112.6,252.2" fill="none" stroke="#e8e8e8" stroke-width="1.5"/>
<line x1="107.6" y1="137.3" x2="121.5" y2="141.9" stroke="#e8e8e8" stroke-width="1.5"/>
<text x="100.7" y="144.2" font-size="22" fill="#e8e8e8" text-anchor="end">1800</text>
<line x1="107.6" y1="182.3" x2="121.5" y2="186.9" stroke="#e8e8e8" stroke-width="1.5"/>
<text x="100.7" y="189.2" font-size="22" fill="#e8e8e8" text-anchor="end">1700</text>
<line x1="107.6" y1="227.9" x2="121.5" y2="232.5" stroke="#e8e8e8" stroke-width="1.5"/>
<text x="100.7" y="234.8" font-size="22" fill="#e8e8e8" text-anchor="end">1600</text>
<line x1="107.6" y1="272.2" x2="121.5" y2="276.8" stroke="#e8e8e8" stroke-width="1.5"/>
<text x="100.7" y="279.1" font-size="22" fill="#e8e8e8" text-anchor="end">1500</text>
<text transform="translate(48,210.5) rotate(-90)" font-size="25" fill="#e8e8e8" text-anchor="middle">Z (m)</text>
<line x1="143.4" y1="283.4" x2="130.4" y2="288.9" stroke="#e8e8e8" stroke-width="1.5"/>
<text x="61.5" y="313.7" font-size="22" fill="#e8e8e8">2.7602</text>
<line x1="219.3" y1="306.1" x2="206.3" y2="311.6" stroke="#e8e8e8" stroke-width="1.5"/>
<text x="137.6" y="335.6" font-size="22" fill="#e8e8e8">2.7604</text>
<line x1="295.3" y1="328.8" x2="282.3" y2="334.3" stroke="#e8e8e8" stroke-width="1.5"/>
<text x="212.6" y="358.6" font-size="22" fill="#e8e8e8">2.7606</text>
<line x1="371.2" y1="351.5" x2="358.2" y2="357.0" stroke="#e8e8e8" stroke-width="1.5"/>
<text x="287.9" y="381.6" font-size="22" fill="#e8e8e8">2.7608</text>
<line x1="447.1" y1="374.2" x2="434.1" y2="379.7" stroke="#e8e8e8" stroke-width="1.5"/>
<text x="363.2" y="403.8" font-size="22" fill="#e8e8e8">2.7610</text>
<line x1="523.1" y1="396.9" x2="510.1" y2="402.4" stroke="#e8e8e8" stroke-width="1.5"/>
<text x="438.5" y="425.5" font-size="22" fill="#e8e8e8">2.7612</text>
<line x1="599.0" y1="419.6" x2="586.0" y2="425.1" stroke="#e8e8e8" stroke-width="1.5"/>
<text x="513.8" y="448.5" font-size="22" fill="#e8e8e8">2.7614</text>
<line x1="674.9" y1="442.3" x2="661.9" y2="447.8" stroke="#e8e8e8" stroke-width="1.5"/>
<text x="589.1" y="469.5" font-size="22" fill="#e8e8e8">2.7616</text>
<text x="256" y="418.6" font-size="25" fill="#e8e8e8"><tspan font-style="italic">Y</tspan> (10<tspan dy="-10.6" font-size="16.5">6</tspan><tspan dy="10.6"> m)</tspan></text>
<line x1="1090.8" y1="261.7" x2="1101.8" y2="266.7" stroke="#e8e8e8" stroke-width="1.5"/>
<text x="1110.4" y="288.7" font-size="22" fill="#e8e8e8">5.0760</text>
<line x1="1029.1" y1="288.4" x2="1040.1" y2="293.4" stroke="#e8e8e8" stroke-width="1.5"/>
<text x="1047.3" y="316.2" font-size="22" fill="#e8e8e8">5.0780</text>
<line x1="967.5" y1="315.2" x2="978.5" y2="320.2" stroke="#e8e8e8" stroke-width="1.5"/>
<text x="986.4" y="342.3" font-size="22" fill="#e8e8e8">5.0800</text>
<line x1="905.8" y1="342.0" x2="916.8" y2="347.0" stroke="#e8e8e8" stroke-width="1.5"/>
<text x="924.6" y="369.7" font-size="22" fill="#e8e8e8">5.0820</text>
<line x1="844.2" y1="368.8" x2="855.2" y2="373.8" stroke="#e8e8e8" stroke-width="1.5"/>
<text x="862.3" y="396.7" font-size="22" fill="#e8e8e8">5.0840</text>
<line x1="782.5" y1="395.5" x2="793.5" y2="400.5" stroke="#e8e8e8" stroke-width="1.5"/>
<text x="799.3" y="423.6" font-size="22" fill="#e8e8e8">5.0860</text>
<line x1="720.9" y1="422.3" x2="731.9" y2="427.3" stroke="#e8e8e8" stroke-width="1.5"/>
<text x="738.3" y="451.1" font-size="22" fill="#e8e8e8">5.0880</text>
<text x="918.5" y="423.5" font-size="25" fill="#e8e8e8"><tspan font-style="italic">X</tspan> (10<tspan dy="-10.6" font-size="16.5">5</tspan><tspan dy="10.6"> m)</tspan></text>
<polyline points="100,535.3 100,888 536.2,888" fill="none" stroke="#7a7a7a" stroke-width="1.6"/>
<line x1="95" y1="535.3" x2="100" y2="535.3" stroke="#7a7a7a" stroke-width="1.5"/>
<text x="89" y="542.0" font-size="18" fill="#222" text-anchor="end">2.7614</text>
<line x1="95" y1="594.1" x2="100" y2="594.1" stroke="#7a7a7a" stroke-width="1.5"/>
<text x="89" y="600.8" font-size="18" fill="#222" text-anchor="end">2.7612</text>
<line x1="95" y1="652.9" x2="100" y2="652.9" stroke="#7a7a7a" stroke-width="1.5"/>
<text x="89" y="659.6" font-size="18" fill="#222" text-anchor="end">2.7610</text>
<line x1="95" y1="711.6" x2="100" y2="711.6" stroke="#7a7a7a" stroke-width="1.5"/>
<text x="89" y="718.3" font-size="18" fill="#222" text-anchor="end">2.7608</text>
<line x1="95" y1="770.4" x2="100" y2="770.4" stroke="#7a7a7a" stroke-width="1.5"/>
<text x="89" y="777.1" font-size="18" fill="#222" text-anchor="end">2.7606</text>
<line x1="95" y1="829.2" x2="100" y2="829.2" stroke="#7a7a7a" stroke-width="1.5"/>
<text x="89" y="835.9" font-size="18" fill="#222" text-anchor="end">2.7604</text>
<line x1="95" y1="888.0" x2="100" y2="888.0" stroke="#7a7a7a" stroke-width="1.5"/>
<text x="89" y="894.7" font-size="18" fill="#222" text-anchor="end">2.7602</text>
<line x1="100.0" y1="888" x2="100.0" y2="893" stroke="#7a7a7a" stroke-width="1.5"/>
<text x="100.0" y="914" font-size="18" fill="#222" text-anchor="middle">5.0760</text>
<line x1="162.3" y1="888" x2="162.3" y2="893" stroke="#7a7a7a" stroke-width="1.5"/>
<text x="162.3" y="914" font-size="18" fill="#222" text-anchor="middle">5.0780</text>
<line x1="224.6" y1="888" x2="224.6" y2="893" stroke="#7a7a7a" stroke-width="1.5"/>
<text x="224.6" y="914" font-size="18" fill="#222" text-anchor="middle">5.0800</text>
<line x1="286.9" y1="888" x2="286.9" y2="893" stroke="#7a7a7a" stroke-width="1.5"/>
<text x="286.9" y="914" font-size="18" fill="#222" text-anchor="middle">5.0820</text>
<line x1="349.2" y1="888" x2="349.2" y2="893" stroke="#7a7a7a" stroke-width="1.5"/>
<text x="349.2" y="914" font-size="18" fill="#222" text-anchor="middle">5.0840</text>
<line x1="411.6" y1="888" x2="411.6" y2="893" stroke="#7a7a7a" stroke-width="1.5"/>
<text x="411.6" y="914" font-size="18" fill="#222" text-anchor="middle">5.0860</text>
<line x1="473.9" y1="888" x2="473.9" y2="893" stroke="#7a7a7a" stroke-width="1.5"/>
<text x="473.9" y="914" font-size="18" fill="#222" text-anchor="middle">5.0880</text>
<line x1="536.2" y1="888" x2="536.2" y2="893" stroke="#7a7a7a" stroke-width="1.5"/>
<text x="536.2" y="914" font-size="18" fill="#222" text-anchor="middle">5.0900</text>
<text x="13.5" y="944.5" font-size="21.5" fill="#222">(b)</text>
<text x="280" y="944" font-size="20" fill="#222"><tspan font-style="italic">X</tspan> (10<tspan dy="-10" font-size="13.5">5</tspan><tspan dy="10"> m)</tspan></text>
<text transform="translate(33.5,710) rotate(-90)" font-size="20" fill="#222" text-anchor="middle"><tspan font-style="italic">Y</tspan> (10<tspan dy="-12" font-size="13.5">6</tspan><tspan dy="12"> m)</tspan></text>
<polyline points="156.2,579.8 155.9,583.2 155.5,586.6 155.9,590.0 155.4,593.7 154.1,596.8 152.8,599.7 151.9,605.6 152.3,608.7 152.0,612.1 152.3,615.6" fill="none" stroke="#f0b870" stroke-width="1.35" stroke-linejoin="round"/>
<polyline points="145.9,612.6 147.2,608.9 148.9,605.6 149.9,601.7 152.8,597.7" fill="none" stroke="#ee8a2a" stroke-width="1.35" stroke-linejoin="round"/>
<polyline points="164.8,625.6 166.8,622.3 168.0,619.7 170.3,616.6 171.8,613.6 173.4,610.5 174.9,608.3 176.8,605.5 178.5,602.3 179.7,599.7 181.4,597.2 183.7,595.3 186.0,593.0 187.8,590.8 189.7,588.4 191.4,586.3 193.7,583.8 194.5,581.1 195.8,577.7 196.4,574.6 197.7,571.9 198.3,568.5 199.6,565.8 201.4,563.1 203.0,560.2 204.9,557.3 206.6,554.9" fill="none" stroke="#a8d488" stroke-width="1.35" stroke-linejoin="round"/>
<polyline points="206.0,606.6 209.7,604.6 213.6,602.7 217.2,601.7 220.5,600.4 223.5,599.3 227.3,599.3 231.5,599.7 235.8,598.3 239.5,596.7 242.3,595.1 245.4,594.3 248.4,592.8 251.4,591.7" fill="none" stroke="#3e8e3e" stroke-width="1.35" stroke-linejoin="round"/>
<polyline points="172.8,634.5 176.3,634.2 179.4,633.0 182.8,632.6 186.4,631.9 189.7,631.5 193.4,631.7 196.7,631.3 200.5,631.4 203.6,631.5 207.0,630.6 209.8,630.3 213.0,629.8 216.3,628.6 219.5,628.1 222.6,628.2 226.2,628.8 229.1,628.6 232.4,629.2 235.6,628.8 238.8,629.2 242.4,629.5" fill="none" stroke="#f2c0b8" stroke-width="1.35" stroke-linejoin="round"/>
<polyline points="192.7,661.4 195.7,660.2 198.3,658.7 201.2,656.8 203.6,655.4 206.4,654.2 209.8,652.1 212.7,650.9 215.6,649.5 218.3,648.0 220.9,646.4 223.8,645.2 227.0,643.6 229.5,642.5 232.5,640.0 234.7,638.1 237.5,635.5 240.5,632.0 243.0,628.5" fill="none" stroke="#de5096" stroke-width="1.35" stroke-linejoin="round"/>
<polyline points="221.5,685.3 223.2,682.6 225.4,680.3 227.5,677.3 230.0,675.5 233.1,673.6 235.5,672.3 239.4,671.1 243.4,669.4 246.6,669.6 249.1,670.0 252.7,670.7 255.4,671.3 259.2,671.3 262.6,670.5 266.3,670.4" fill="none" stroke="#a82030" stroke-width="1.35" stroke-linejoin="round"/>
<polyline points="237.5,699.2 241.1,697.3 243.9,695.4 247.4,693.2 250.6,691.1 253.7,689.4 257.4,687.3 259.7,684.7 261.6,681.6 263.3,679.3 264.9,675.3 266.9,671.3" fill="none" stroke="#c8d8e8" stroke-width="1.35" stroke-linejoin="round"/>
<polyline points="305.1,703.2 307.9,701.5 310.0,699.0 312.6,697.2 315.1,695.2 317.8,692.4 320.1,690.2 322.5,687.7 324.7,684.8 327.0,682.3" fill="none" stroke="#9ec2dc" stroke-width="1.35" stroke-linejoin="round"/>
<polyline points="275.8,727.8 279.7,725.7 283.8,723.8 287.2,723.1 289.9,723.2 293.2,722.4 296.2,722.3 299.7,721.9 302.8,722.2 306.4,722.1 309.1,721.4 312.2,721.6 315.7,721.5 319.8,720.7 323.6,719.9 326.9,720.4 330.7,721.2 334.3,721.9 337.6,722.3" fill="none" stroke="#4e8cba" stroke-width="1.35" stroke-linejoin="round"/>
<polyline points="391.4,677.7 394.4,676.2 397.5,675.1 400.2,674.0 404.0,671.8 407.7,669.7" fill="none" stroke="#2e5a92" stroke-width="1.35" stroke-linejoin="round"/>
<polyline points="289.8,750.7 293.9,749.0 297.7,747.7 299.5,744.5 301.5,742.0 303.8,738.7 305.7,735.8 307.6,733.5 309.7,730.4 311.9,728.1 314.0,725.1 315.7,722.8" fill="none" stroke="#b8b0d8" stroke-width="1.35" stroke-linejoin="round"/>
<polyline points="297.7,752.7 301.0,752.6 304.6,752.3 307.7,751.7 310.4,752.1 313.4,752.5 317.0,753.3 319.6,753.7 323.9,754.1 327.6,754.7" fill="none" stroke="#8a82c4" stroke-width="1.35" stroke-linejoin="round"/>
<polyline points="291.8,769.6 295.0,768.3 297.6,767.3 301.0,765.6 303.7,764.7 306.8,765.1 309.7,765.3 312.0,763.3 314.4,761.3 317.0,759.7 319.6,757.7 323.7,755.5 327.6,753.7 331.3,751.6 335.6,749.7 338.0,747.5 340.1,745.6 342.5,743.8 342.9,740.8 342.6,737.5 343.0,734.8 343.4,731.5 343.5,728.8" fill="none" stroke="#4e3a92" stroke-width="1.35" stroke-linejoin="round"/>
<polyline points="295.7,781.6 297.5,777.7 299.7,773.6 301.6,770.8 303.6,768.7 305.7,765.7" fill="none" stroke="#e0a870" stroke-width="1.35" stroke-linejoin="round"/>
<polyline points="299.7,792.5 302.9,791.5 306.3,790.4 309.7,789.5 312.7,787.9 315.2,785.3 318.2,783.4 320.5,781.9 323.6,779.6 325.9,777.8 328.3,775.9 330.8,773.4 332.9,771.6 335.6,769.6 338.2,767.4 340.3,764.7 342.9,762.2 345.5,759.7 346.8,756.5 348.5,754.0 349.7,750.7 351.5,747.7 351.7,744.1 351.5,739.8 350.3,736.0 349.5,732.8" fill="none" stroke="#cfdcb0" stroke-width="1.35" stroke-linejoin="round"/>
<polyline points="327.6,807.5 329.4,804.8 330.6,801.2 332.4,798.4 333.6,795.5 334.9,792.6 335.8,789.3 336.8,786.4 337.5,783.8 338.7,780.4 339.5,777.6 340.3,774.6 341.5,771.6 342.2,768.5 343.5,765.7 345.7,762.6 347.2,759.1 349.5,755.7 350.7,752.0 351.7,748.8 352.5,745.7" fill="none" stroke="#e6eab8" stroke-width="1.35" stroke-linejoin="round"/>
<polyline points="348.5,792.5 351.3,790.6 354.1,788.4 356.7,786.6 359.5,784.6 362.4,782.7 365.4,780.6 368.1,778.7 371.4,776.6 374.1,774.4 376.9,772.8 379.4,770.6 380.7,767.4 382.0,764.4 383.3,761.7 387.3,757.7" fill="none" stroke="#88c8a8" stroke-width="1.35" stroke-linejoin="round"/>
<polyline points="436.7,754.5 438.6,751.6 440.8,748.8 443.3,745.7 445.5,743.2 448.1,740.4 450.7,738.3 453.0,735.6 455.5,732.8 458.1,730.5 460.6,728.1 464.3,725.7 467.6,724.2 470.7,721.8 474.3,720.7 477.4,719.6 481.0,718.3 484.5,716.7" fill="none" stroke="#5e7aa0" stroke-width="1.35" stroke-linejoin="round"/>
<polyline points="410.2,766.6 413.5,767.4 416.4,768.9 419.2,769.6 422.8,770.0 427.1,770.6 430.8,772.9 434.1,775.6" fill="none" stroke="#3e6298" stroke-width="1.35" stroke-linejoin="round"/>
<polyline points="323.6,826.4 326.5,824.7 329.1,823.2 331.6,822.2 334.0,820.2 336.9,818.8 339.5,817.4 342.4,815.6 345.7,814.5 349.2,812.9 352.1,811.3 355.5,809.5 358.4,808.5 362.0,807.4 365.3,806.5 368.3,805.8 371.4,804.5 374.1,803.7 377.5,802.1 380.6,800.8 383.7,799.9 386.2,798.9 389.3,797.5 392.4,795.9 395.8,794.4 399.1,793.1 402.1,792.2 405.2,790.5 408.6,790.3 411.7,789.5 415.2,789.5 418.9,789.8 423.2,790.5 426.2,790.9 429.1,791.7 432.1,791.9" fill="none" stroke="#2e9a86" stroke-width="1.35" stroke-linejoin="round"/>
<polyline points="331.6,842.3 335.3,841.8 339.6,841.3 343.5,841.3 346.4,840.4 349.6,839.6 352.9,839.0 356.4,837.9 359.5,837.3 362.4,836.3 364.9,835.6 367.8,834.1 370.6,833.5 374.0,832.6 376.5,831.2 379.4,830.4 382.2,829.1 385.8,827.5 389.0,826.2 392.4,825.0 395.3,823.4 397.9,821.7 400.5,819.4 403.6,817.2 406.1,815.6 409.2,813.4 411.7,811.9 415.1,810.0 417.4,808.7 420.4,807.2 423.2,805.5 426.6,804.1 429.4,803.0 432.3,802.3 436.0,801.0 438.6,799.9 442.1,798.5" fill="none" stroke="#62a858" stroke-width="1.35" stroke-linejoin="round"/>
<polyline points="332.6,861.2 336.5,860.9 340.2,860.7 343.6,860.2 347.5,860.2 350.5,858.9 353.7,858.4 357.2,857.4 360.4,856.0 363.4,855.2 366.8,854.5 370.2,853.9 373.2,853.3 377.0,852.4 380.2,851.6 383.3,851.3 386.3,850.7 389.7,850.8 392.9,849.9 396.1,849.5 398.8,849.4 402.2,848.9 405.2,848.3 408.1,847.4 410.8,846.1 413.7,845.0 416.4,843.7 419.2,842.3 422.6,841.5 425.6,841.1 428.9,840.6 432.2,839.3 435.5,839.3 439.1,838.3 442.0,836.8 444.7,835.5 448.2,834.6 451.0,833.3 454.1,831.5 456.7,829.4 460.0,827.4 462.9,826.7 466.1,825.9 468.6,825.0 472.1,824.2 474.5,822.8 477.5,821.8 480.7,821.2 483.5,818.9 485.8,816.1 488.0,814.0 490.0,811.3 492.0,809.1" fill="none" stroke="#4a78b0" stroke-width="1.35" stroke-linejoin="round"/>
<text x="142.9" y="574.8" font-size="14" fill="#222">G1</text>
<text x="140.9" y="628.5" font-size="14" fill="#222">G2</text>
<text x="206.6" y="555.9" font-size="14" fill="#222">G3</text>
<text x="255.4" y="597.7" font-size="14" fill="#222">G4</text>
<text x="151.9" y="645.5" font-size="14" fill="#222">G5</text>
<text x="171.8" y="667.4" font-size="14" fill="#222">G6</text>
<text x="199.6" y="690.3" font-size="14" fill="#222">G7</text>
<text x="215.6" y="707.2" font-size="14" fill="#222">G8</text>
<text x="286.2" y="701.2" font-size="14" fill="#222">G9</text>
<text x="248.0" y="731.8" font-size="14" fill="#222">G10</text>
<text x="393.9" y="665.2" font-size="14" fill="#222">G11</text>
<text x="260.9" y="750.7" font-size="14" fill="#222">G12</text>
<text x="304.7" y="748.7" font-size="14" fill="#222">G13</text>
<text x="264.9" y="771.6" font-size="14" fill="#222">G14</text>
<text x="267.9" y="786.6" font-size="14" fill="#222">G15</text>
<text x="273.8" y="801.5" font-size="14" fill="#222">G16</text>
<text x="299.7" y="808.5" font-size="14" fill="#222">G17</text>
<text x="373.4" y="753.7" font-size="14" fill="#222">G18</text>
<text x="475.7" y="713.0" font-size="14" fill="#222">G19</text>
<text x="438.1" y="779.7" font-size="14" fill="#222">G20</text>
<text x="296.7" y="831.3" font-size="14" fill="#222">G21</text>
<text x="303.7" y="847.3" font-size="14" fill="#222">G22</text>
<text x="305.7" y="866.2" font-size="14" fill="#222">G23</text>
<line x1="343.2" y1="547.3" x2="362.5" y2="547.3" stroke="#f5b97a" stroke-width="2"/>
<text x="364.3" y="552.3" font-size="14" fill="#222">G1</text>
<line x1="343.2" y1="563.6" x2="362.5" y2="563.6" stroke="#f08a2a" stroke-width="2"/>
<text x="364.3" y="568.6" font-size="14" fill="#222">G2</text>
<line x1="343.2" y1="579.9" x2="362.5" y2="579.9" stroke="#a6d98a" stroke-width="2"/>
<text x="364.3" y="584.9" font-size="14" fill="#222">G3</text>
<line x1="343.2" y1="596.2" x2="362.5" y2="596.2" stroke="#3f9b3f" stroke-width="2"/>
<text x="364.3" y="601.2" font-size="14" fill="#222">G4</text>
<line x1="343.2" y1="612.5" x2="362.5" y2="612.5" stroke="#f5c2b8" stroke-width="2"/>
<text x="364.3" y="617.5" font-size="14" fill="#222">G5</text>
<line x1="343.2" y1="628.8" x2="362.5" y2="628.8" stroke="#e0589b" stroke-width="2"/>
<text x="364.3" y="633.8" font-size="14" fill="#222">G6</text>
<line x1="386.2" y1="547.3" x2="406.4" y2="547.3" stroke="#b22028" stroke-width="2"/>
<text x="408.2" y="552.3" font-size="14" fill="#222">G7</text>
<line x1="386.2" y1="563.6" x2="406.4" y2="563.6" stroke="#c8ddf0" stroke-width="2"/>
<text x="408.2" y="568.6" font-size="14" fill="#222">G8</text>
<line x1="386.2" y1="579.9" x2="406.4" y2="579.9" stroke="#9fc3dc" stroke-width="2"/>
<text x="408.2" y="584.9" font-size="14" fill="#222">G9</text>
<line x1="386.2" y1="596.2" x2="406.4" y2="596.2" stroke="#5f98c8" stroke-width="2"/>
<text x="408.2" y="601.2" font-size="14" fill="#222">G10</text>
<line x1="386.2" y1="612.5" x2="406.4" y2="612.5" stroke="#2b6aa8" stroke-width="2"/>
<text x="408.2" y="617.5" font-size="14" fill="#222">G11</text>
<line x1="386.2" y1="628.8" x2="406.4" y2="628.8" stroke="#bdb8da" stroke-width="2"/>
<text x="408.2" y="633.8" font-size="14" fill="#222">G12</text>
<line x1="437.2" y1="547.3" x2="456.5" y2="547.3" stroke="#8c86c0" stroke-width="2"/>
<text x="458.3" y="552.3" font-size="14" fill="#222">G13</text>
<line x1="437.2" y1="563.6" x2="456.5" y2="563.6" stroke="#5b3a9b" stroke-width="2"/>
<text x="458.3" y="568.6" font-size="14" fill="#222">G14</text>
<line x1="437.2" y1="579.9" x2="456.5" y2="579.9" stroke="#e3a877" stroke-width="2"/>
<text x="458.3" y="584.9" font-size="14" fill="#222">G15</text>
<line x1="437.2" y1="596.2" x2="456.5" y2="596.2" stroke="#cfe0b0" stroke-width="2"/>
<text x="458.3" y="601.2" font-size="14" fill="#222">G16</text>
<line x1="437.2" y1="612.5" x2="456.5" y2="612.5" stroke="#ecefc2" stroke-width="2"/>
<text x="458.3" y="617.5" font-size="14" fill="#222">G17</text>
<line x1="437.2" y1="628.8" x2="456.5" y2="628.8" stroke="#8ccfae" stroke-width="2"/>
<text x="458.3" y="633.8" font-size="14" fill="#222">G18</text>
<line x1="488.2" y1="547.3" x2="507.5" y2="547.3" stroke="#56709e" stroke-width="2"/>
<text x="508.4" y="552.3" font-size="14" fill="#222">G19</text>
<line x1="488.2" y1="563.6" x2="507.5" y2="563.6" stroke="#7fa8a8" stroke-width="2"/>
<text x="508.4" y="568.6" font-size="14" fill="#222">G20</text>
<line x1="488.2" y1="579.9" x2="507.5" y2="579.9" stroke="#2fa88a" stroke-width="2"/>
<text x="508.4" y="584.9" font-size="14" fill="#222">G21</text>
<line x1="488.2" y1="596.2" x2="507.5" y2="596.2" stroke="#69a85c" stroke-width="2"/>
<text x="508.4" y="601.2" font-size="14" fill="#222">G22</text>
<line x1="488.2" y1="612.5" x2="507.5" y2="612.5" stroke="#4f82b4" stroke-width="2"/>
<text x="508.4" y="617.5" font-size="14" fill="#222">G23</text>
<polyline points="670.5,534.3 670.5,889 1126,889" fill="none" stroke="#7a7a7a" stroke-width="1.6"/>
<line x1="665.5" y1="534.3" x2="670.5" y2="534.3" stroke="#7a7a7a" stroke-width="1.5"/>
<text x="660.5" y="541.0" font-size="18" fill="#222" text-anchor="end">1800</text>
<line x1="665.5" y1="593.4" x2="670.5" y2="593.4" stroke="#7a7a7a" stroke-width="1.5"/>
<text x="660.5" y="600.1" font-size="18" fill="#222" text-anchor="end">1750</text>
<line x1="665.5" y1="652.5" x2="670.5" y2="652.5" stroke="#7a7a7a" stroke-width="1.5"/>
<text x="660.5" y="659.2" font-size="18" fill="#222" text-anchor="end">1700</text>
<line x1="665.5" y1="711.7" x2="670.5" y2="711.7" stroke="#7a7a7a" stroke-width="1.5"/>
<text x="660.5" y="718.4" font-size="18" fill="#222" text-anchor="end">1650</text>
<line x1="665.5" y1="770.8" x2="670.5" y2="770.8" stroke="#7a7a7a" stroke-width="1.5"/>
<text x="660.5" y="777.5" font-size="18" fill="#222" text-anchor="end">1600</text>
<line x1="665.5" y1="829.9" x2="670.5" y2="829.9" stroke="#7a7a7a" stroke-width="1.5"/>
<text x="660.5" y="836.6" font-size="18" fill="#222" text-anchor="end">1550</text>
<line x1="665.5" y1="889.0" x2="670.5" y2="889.0" stroke="#7a7a7a" stroke-width="1.5"/>
<text x="660.5" y="895.7" font-size="18" fill="#222" text-anchor="end">1500</text>
<line x1="670.5" y1="889" x2="670.5" y2="894" stroke="#7a7a7a" stroke-width="1.5"/>
<text x="670.5" y="915" font-size="18" fill="#222" text-anchor="middle">5.0760</text>
<line x1="735.6" y1="889" x2="735.6" y2="894" stroke="#7a7a7a" stroke-width="1.5"/>
<text x="735.6" y="915" font-size="18" fill="#222" text-anchor="middle">5.0780</text>
<line x1="800.6" y1="889" x2="800.6" y2="894" stroke="#7a7a7a" stroke-width="1.5"/>
<text x="800.6" y="915" font-size="18" fill="#222" text-anchor="middle">5.0800</text>
<line x1="865.7" y1="889" x2="865.7" y2="894" stroke="#7a7a7a" stroke-width="1.5"/>
<text x="865.7" y="915" font-size="18" fill="#222" text-anchor="middle">5.0820</text>
<line x1="930.8" y1="889" x2="930.8" y2="894" stroke="#7a7a7a" stroke-width="1.5"/>
<text x="930.8" y="915" font-size="18" fill="#222" text-anchor="middle">5.0840</text>
<line x1="995.8" y1="889" x2="995.8" y2="894" stroke="#7a7a7a" stroke-width="1.5"/>
<text x="995.8" y="915" font-size="18" fill="#222" text-anchor="middle">5.0860</text>
<line x1="1060.9" y1="889" x2="1060.9" y2="894" stroke="#7a7a7a" stroke-width="1.5"/>
<text x="1060.9" y="915" font-size="18" fill="#222" text-anchor="middle">5.0880</text>
<line x1="1126.0" y1="889" x2="1126.0" y2="894" stroke="#7a7a7a" stroke-width="1.5"/>
<text x="1126.0" y="915" font-size="18" fill="#222" text-anchor="middle">5.0900</text>
<text x="601" y="944.5" font-size="21.5" fill="#222">(c)</text>
<text x="858.5" y="944" font-size="20" fill="#222"><tspan font-style="italic">X</tspan> (10<tspan dy="-10" font-size="13.5">5</tspan><tspan dy="10"> m)</tspan></text>
<text transform="translate(617,711.5) rotate(-90)" font-size="21" fill="#222" text-anchor="middle">Z (m)</text>
<polyline points="717.9,639.8 718.0,642.7 718.9,646.0 719.0,649.3 719.2,652.4 719.9,655.8 720.2,659.3 720.8,662.3 721.7,665.8 722.1,669.1 722.1,672.3 722.9,675.7 723.4,679.1 724.0,682.2 724.7,685.0 725.5,688.1 725.8,691.6 726.4,694.7 726.3,698.0 727.2,701.9 727.1,704.9 727.8,708.4 728.2,711.5" fill="none" stroke="#f0b870" stroke-width="1.35" stroke-linejoin="round"/>
<polyline points="724.9,634.9 724.8,638.6 725.1,642.6 725.2,646.4 725.5,649.8 725.6,652.9 726.1,656.4 726.2,659.7 725.6,662.8 725.3,665.9 725.4,668.9 724.9,671.7 725.1,674.8 725.1,678.0 725.5,681.0 725.7,684.1 725.5,687.6" fill="none" stroke="#ee8a2a" stroke-width="1.35" stroke-linejoin="round"/>
<polyline points="737.8,615.9 738.9,619.1 740.7,622.6 741.8,625.9 742.2,629.2 742.6,631.8 743.3,635.0 744.0,638.0 744.2,640.7 744.6,644.1 745.4,647.0 745.8,649.8 746.1,652.7 747.0,655.8 747.0,658.7 748.1,661.6 748.1,664.6 748.9,668.0 749.1,670.5 749.8,673.7 750.4,676.6 751.3,679.4 751.9,682.4 753.1,685.8 753.2,689.0 753.9,691.5 755.3,694.8 755.7,697.6 756.7,700.7 757.2,704.0 758.0,706.8 759.1,709.8 759.9,713.4 761.0,716.4 761.7,719.5 762.8,722.5 763.4,725.5 764.6,728.6 766.0,731.4 766.8,734.6 767.6,737.2 768.9,740.7 769.7,743.4 770.7,746.7 771.5,749.9 772.1,752.9 772.7,756.2 773.6,759.3 775.3,762.2 777.6,765.3" fill="none" stroke="#a8d488" stroke-width="1.35" stroke-linejoin="round"/>
<polyline points="746.8,610.0 748.1,613.1 749.2,615.8 750.2,618.9 751.5,621.9 752.7,625.2 753.7,627.9 754.5,631.0 755.9,633.8 756.7,637.2 757.4,639.9 758.5,643.0 760.0,645.8 760.4,648.9 761.7,651.8 762.9,655.1 764.0,658.2 765.4,661.2 766.2,664.6 767.2,667.6 768.5,670.8 769.7,673.7 771.0,676.8 772.8,678.9 774.3,682.0 775.7,684.8 777.6,687.6 779.0,690.7 780.5,693.4 781.9,696.8 783.6,699.6 785.9,702.3 787.4,705.1 789.6,707.5 791.5,710.3 793.3,713.7 795.7,716.6 797.5,719.5 799.1,722.5 800.6,725.8 802.4,728.5 804.4,731.7 805.8,734.3 807.5,737.4 809.5,739.8 811.7,742.6 813.5,745.4" fill="none" stroke="#f2c0b8" stroke-width="1.35" stroke-linejoin="round"/>
<polyline points="766.7,619.9 767.9,622.6 768.6,625.4 769.6,628.2 770.3,631.4 771.5,633.9 772.5,636.9 773.6,639.8 774.5,643.2 775.7,646.3 776.9,650.0 777.3,653.3 778.9,656.6 779.6,659.7 780.3,663.4 781.7,666.4 782.3,670.5 783.6,673.7 785.7,676.8 787.3,680.0 789.6,683.6 791.0,686.6 792.7,689.0 794.6,692.2 795.7,695.1 797.5,697.6 798.8,700.6 800.0,703.4 801.3,706.2 802.1,708.9 803.5,711.5 804.7,714.5 805.9,717.4 807.1,719.7 808.1,722.4 809.5,725.5 810.6,728.3 811.8,731.5 812.9,734.9 814.1,738.3 814.9,741.4 816.3,744.3 817.5,747.4" fill="none" stroke="#de5096" stroke-width="1.35" stroke-linejoin="round"/>
<polyline points="780.6,675.7 782.5,678.9 784.0,681.6 786.2,684.3 787.6,687.6 788.9,690.5 789.7,693.3 791.3,696.3 792.3,699.1 793.6,701.6 794.7,704.7 796.1,707.5 797.1,711.1 798.0,714.4 799.1,717.2 800.4,720.6 801.5,723.5 802.9,726.6 804.6,729.9 806.5,732.9 808.1,736.2 809.5,739.4 811.5,742.2 813.5,745.7 815.6,748.6 817.5,751.4 820.1,753.2 822.8,755.4 825.8,757.5 828.4,759.3" fill="none" stroke="#3e8e3e" stroke-width="1.35" stroke-linejoin="round"/>
<polyline points="796.6,662.7 797.7,666.4 799.5,669.7 800.6,672.9 800.8,675.9 801.6,679.0 803.0,682.5 803.5,685.6 804.8,689.0 806.2,692.1 807.2,695.3 808.4,698.5 809.5,701.6 811.6,704.4 813.6,707.5 815.7,710.2 817.5,713.5 819.3,716.2 821.6,719.8 823.5,722.4 825.4,725.5 828.3,728.3 830.8,730.6 833.4,733.4 835.5,735.6 837.8,737.9 840.2,740.5 842.4,742.4" fill="none" stroke="#a82030" stroke-width="1.35" stroke-linejoin="round"/>
<polyline points="813.5,659.7 814.4,662.9 815.6,665.8 817.3,669.4 818.6,672.5 819.5,675.7 820.1,678.6 821.5,682.0 822.8,684.6 823.4,687.4 824.5,690.4 825.4,693.6 826.2,696.2 827.1,699.7 828.1,702.9 829.1,705.8 830.1,708.2 831.4,711.5 832.6,714.3 833.6,717.3 834.1,720.7 835.5,723.7 836.6,726.2 837.4,729.5" fill="none" stroke="#c8d8e8" stroke-width="1.35" stroke-linejoin="round"/>
<polyline points="852.1,670.1 853.6,673.2 854.8,676.3 856.1,679.3 857.6,681.9 858.7,684.7 859.1,688.3 860.6,691.0 861.2,694.6 862.3,697.6 864.7,700.5 867.6,702.6 870.2,705.5 870.9,708.7 871.7,711.9 872.3,715.2 873.3,718.1 874.8,721.3 876.6,724.3 878.0,727.7 879.9,730.9 881.2,733.8 883.2,736.8 884.8,740.4 887.2,743.5 889.0,746.4 891.0,749.1 893.5,751.8 895.3,754.2 898.5,755.6 901.5,757.6 904.7,758.9 906.7,762.2 909.0,765.5 911.0,768.4 914.4,770.2 917.3,772.3" fill="none" stroke="#4e8cba" stroke-width="1.35" stroke-linejoin="round"/>
<polyline points="866.5,650.0 868.6,653.6 869.0,656.4 870.1,659.6 871.2,662.7 871.4,665.6 872.8,668.6 873.4,671.1 874.4,674.5 874.9,677.2 876.1,680.6 876.9,683.2 878.1,686.8 878.9,689.9 880.5,692.7 881.2,696.0 882.1,699.3 882.7,702.1 883.4,705.6 884.5,708.6 884.8,712.0 885.9,714.9 887.0,717.9 887.8,721.5 888.9,724.3 889.5,727.5 890.2,730.4 891.1,733.9 892.2,736.9 893.4,739.8 894.7,742.6 895.7,745.1 897.6,748.2 898.5,751.1" fill="none" stroke="#b8b0d8" stroke-width="1.35" stroke-linejoin="round"/>
<polyline points="882.7,699.2 883.0,702.4 884.0,705.3 884.4,708.5 884.8,711.5 885.0,715.3 885.9,718.1 887.3,721.2 888.3,724.2 889.6,727.4 890.6,730.6 892.5,733.9 894.0,737.2 895.2,739.7 896.9,743.2 898.3,746.1 899.8,749.2 901.7,752.9 903.2,755.8 904.7,758.7 906.6,760.7 907.9,763.6 908.4,767.1 908.4,771.0 908.9,774.3 909.5,777.8" fill="none" stroke="#9ec2dc" stroke-width="1.35" stroke-linejoin="round"/>
<polyline points="874.0,655.0 875.1,658.9 876.1,662.1 877.0,665.5 878.0,669.3 879.7,672.6 880.6,674.9 882.0,678.0 883.8,681.4 885.1,683.7 886.5,687.1 887.7,690.3 889.0,692.9 890.0,695.4 891.9,698.6 893.2,700.9 894.5,703.9 895.5,706.3 897.0,708.8 898.5,711.8 899.8,714.3 901.0,716.9 902.7,719.5 904.0,722.3 904.9,725.5 906.4,728.2 907.9,730.6 909.5,733.6 910.3,736.0 911.6,739.0 913.5,741.5 914.6,744.0 916.2,746.8 917.3,749.5 919.0,752.0 920.3,754.7 922.2,757.8 923.6,760.5" fill="none" stroke="#8a82c4" stroke-width="1.35" stroke-linejoin="round"/>
<polyline points="870.1,640.7 871.0,642.6 871.7,646.0 872.6,648.8 873.5,651.8 874.8,655.0 875.3,658.3 876.4,661.4 877.2,664.8 878.0,668.1 879.0,671.2 880.4,673.8 881.2,677.2 882.8,680.2 884.2,683.2 885.8,686.9 887.5,689.7 889.4,693.2 890.4,695.9 892.2,699.2 894.0,702.0 895.5,705.3 896.9,708.6 898.4,711.4 899.5,714.8 900.2,717.7 901.6,721.2 903.4,724.4 904.5,727.5 906.6,730.5 907.9,733.8 909.5,736.7 910.8,740.3 912.8,743.0 914.2,746.4 916.0,749.2 918.5,752.7 920.5,755.8 921.1,758.7 922.1,762.2 923.0,765.3 923.6,768.4" fill="none" stroke="#4e3a92" stroke-width="1.35" stroke-linejoin="round"/>
<polyline points="872.7,626.3 873.1,629.2 874.0,632.6 874.6,635.5 875.2,638.9 875.8,642.5 876.1,645.1 876.7,648.6 877.5,651.6 878.1,654.4 878.2,657.8 878.8,660.3 879.4,663.6 879.7,666.5 880.6,669.5 881.0,673.0 881.2,676.7 881.9,680.0" fill="none" stroke="#e0a870" stroke-width="1.35" stroke-linejoin="round"/>
<polyline points="880.6,615.8 881.7,619.6 882.3,623.0 883.3,626.6 884.3,630.0 884.8,633.2 886.2,635.9 886.7,638.9 887.5,641.5 888.6,644.6 888.8,647.4 889.6,650.9 890.6,653.6 891.3,656.3 892.7,659.3 893.2,662.5 894.6,665.4 895.7,668.1 896.8,671.5 897.2,674.0 898.5,677.2 899.7,680.3 900.8,683.2 902.2,686.4 903.5,690.0 904.7,692.9 906.0,696.1 908.0,699.0 909.7,702.7 911.0,705.5 912.3,708.1 914.0,710.9 915.0,713.9 916.6,716.1 917.6,718.8 919.1,722.0 920.5,724.3 922.0,727.7 923.2,730.9 924.0,733.8 925.9,737.2 926.8,740.1 927.8,743.2 929.2,746.3 930.3,749.2 931.5,752.6 932.2,756.6 933.0,760.5 931.1,763.4 929.9,766.8" fill="none" stroke="#cfdcb0" stroke-width="1.35" stroke-linejoin="round"/>
<polyline points="905.5,621.1 906.2,625.7 906.3,630.0 907.2,633.0 907.7,636.2 908.3,638.5 908.7,641.6 909.4,644.6 909.9,648.0 910.5,650.5 911.0,653.6 911.5,656.9 912.2,660.2 912.2,663.8 912.6,667.2 913.6,670.5 913.6,673.8 914.2,677.2 914.7,680.3 914.8,683.7 915.4,687.2 915.8,690.5 916.1,694.1 917.1,697.5 917.3,700.8 917.8,704.3 918.0,707.7 918.6,710.9 919.2,714.2 919.5,717.4 919.8,721.0 920.5,724.3 920.9,727.7 921.0,730.9 922.1,734.2 922.3,737.8 922.6,741.5 923.0,744.7 923.6,747.9 924.0,750.7 925.1,754.1 925.2,757.2 926.1,760.6 926.8,763.6" fill="none" stroke="#e6eab8" stroke-width="1.35" stroke-linejoin="round"/>
<polyline points="930.3,664.3 930.8,667.2 932.2,670.7 932.5,673.6 933.4,677.0 934.3,680.0 935.4,683.5 936.5,686.6 937.4,690.0 938.2,693.1 939.5,696.1 940.6,699.3 941.7,702.0 942.8,705.0 943.8,708.4 944.7,711.4 945.9,715.0 947.1,718.0 948.4,721.6 949.4,724.6 950.5,728.0 951.9,730.8 953.5,733.5 954.6,736.4 956.0,739.1 957.7,742.2 958.9,744.8 959.6,748.3 960.1,751.7 961.0,755.3 961.6,758.3 962.7,760.9 963.8,763.9 964.5,767.2 965.1,769.9" fill="none" stroke="#88c8a8" stroke-width="1.35" stroke-linejoin="round"/>
<polyline points="902.8,581.8 904.2,584.5 904.9,587.8 905.6,590.1 907.1,593.3 908.1,596.2 909.3,599.3 909.9,602.4 910.7,604.9 911.7,607.8 912.3,610.8 913.2,614.0 914.3,616.6 914.8,619.4 915.9,622.4 916.7,625.4 917.7,628.5 918.9,631.1 919.4,634.1 920.6,636.8 921.2,640.1 921.8,642.7 923.3,645.9 923.8,648.6 925.0,651.2 926.4,654.5 927.5,657.6 928.7,660.1 929.4,663.0 930.8,666.0 931.7,668.7 933.2,671.9 934.3,674.7 935.1,678.3 936.3,681.0 937.1,684.8 938.0,688.0 938.7,691.1 940.0,694.5 941.3,697.7 942.2,700.6 943.1,703.9 944.0,707.2 945.3,710.5 946.4,713.3 947.1,716.2 948.4,719.6 950.0,722.1 950.9,725.0 952.6,728.2 954.1,731.0 955.1,733.3 956.8,736.4 959.1,738.9 961.1,741.5 962.8,744.1 965.1,746.9 966.1,750.1 967.7,752.6 968.8,755.6 969.8,758.9 971.4,761.5 973.2,764.6 974.9,767.2 976.5,769.6 978.7,772.9 980.0,775.8 981.9,778.3 984.6,780.3 987.0,782.8 989.5,784.9 991.8,786.6 994.5,788.8 997.2,790.3 999.4,792.4 1002.0,794.0 1004.4,795.3 1007.1,797.2 1009.6,799.6 1012.6,802.3 1014.9,804.7 1017.5,807.6 1020.7,810.7 1023.8,813.9" fill="none" stroke="#2e9a86" stroke-width="1.35" stroke-linejoin="round"/>
<polyline points="909.4,588.3 910.6,591.0 911.8,594.5 913.2,597.1 914.4,600.1 915.8,603.0 917.4,606.2 918.6,609.3 919.7,612.4 920.9,615.0 922.7,617.9 923.8,621.3 925.3,623.7 926.3,627.1 927.6,630.2 929.0,632.8 929.9,636.1 931.2,638.6 932.3,641.6 933.5,644.7 934.8,648.0 935.5,650.7 936.8,653.7 938.1,656.7 938.9,660.0 940.0,663.0 941.5,665.7 943.3,668.2 945.1,670.4 946.6,672.8 948.4,675.6 950.3,678.6 952.5,681.3 954.7,684.0 955.1,687.5 956.0,691.0 956.8,694.5 958.0,697.0 959.4,699.9 960.7,703.0 962.2,705.6 964.0,708.6 965.1,711.2 966.7,714.3 967.5,716.8 968.7,720.0 970.5,722.6 971.6,725.7 973.1,728.3 974.5,731.3 975.6,734.3 977.0,737.0 977.9,740.5 979.5,743.3 980.3,745.7 981.9,749.0 983.1,751.6 984.6,754.5 985.8,757.2 987.6,759.9 989.1,763.0 990.3,765.7 991.9,768.3 993.1,771.4 994.4,773.8 996.1,777.1 997.2,779.4 998.7,782.5 1001.0,785.1 1002.6,787.4 1004.7,790.3 1006.9,792.9 1009.2,795.1 1010.9,797.4 1012.4,800.2 1014.0,803.1 1015.4,805.5 1017.3,807.6 1019.9,810.2 1022.0,812.8 1023.8,815.0" fill="none" stroke="#62a858" stroke-width="1.35" stroke-linejoin="round"/>
<polyline points="912.0,573.9 913.0,577.2 913.7,580.1 914.2,583.4 915.2,586.4 916.4,589.2 917.1,592.3 917.9,595.9 918.6,598.8 919.5,601.7 921.0,604.7 921.8,607.3 922.5,610.2 923.7,613.0 924.7,615.8 926.0,619.1 926.7,621.7 928.0,624.7 929.0,627.6 930.3,630.3 930.9,633.6 931.7,636.2 932.9,639.2 934.0,642.0 934.8,644.8 936.1,647.5 937.2,650.6 937.7,653.1 938.9,655.8 940.0,658.9 940.7,661.9 941.9,665.3 943.1,668.0 944.1,671.4 945.2,674.3 946.3,677.7 947.6,680.5 949.8,684.2 950.7,687.3 952.6,690.3 954.1,693.3 954.7,696.3 956.2,699.0 957.4,701.9 958.9,705.3 959.9,708.5 961.0,711.2 962.3,714.1 963.1,717.0 964.1,720.5 965.9,723.2 966.6,726.5 968.2,729.7 968.9,732.6 970.5,735.6 971.4,738.5 973.0,741.1 975.1,744.0 976.6,746.9 978.3,749.9 980.0,752.2 981.9,755.3 983.4,758.1 985.1,760.8 986.7,763.7 987.9,766.0 989.2,768.6 991.0,771.1 992.4,774.1 995.0,775.6 997.3,777.9 999.5,779.0 1002.2,780.9 1004.8,782.5 1007.1,784.6 1009.8,786.9 1012.3,788.7 1014.4,791.0 1017.1,792.9 1019.6,795.1 1022.1,797.7 1025.0,800.5 1027.8,802.7 1030.1,805.5 1032.1,807.9 1034.3,810.3 1036.2,812.6 1038.4,815.3 1040.9,818.0 1042.7,820.2 1045.9,821.8 1048.9,822.8 1051.7,823.7 1054.6,825.3 1057.4,826.5 1060.4,827.4 1064.0,828.2 1066.9,829.0 1069.8,830.2 1072.7,830.6 1076.2,831.7" fill="none" stroke="#4a78b0" stroke-width="1.35" stroke-linejoin="round"/>
<polyline points="992.4,738.5 993.6,741.6 994.2,744.9 995.5,748.0 996.5,751.1 997.7,754.2 998.7,757.4 999.7,760.5 1001.5,764.1 1002.2,767.7 1003.6,770.5 1005.0,774.1 1006.3,776.9 1007.5,780.0 1008.5,783.0 1009.7,785.9 1011.2,788.8 1014.1,790.6 1016.7,792.7 1019.6,795.1" fill="none" stroke="#2e5a92" stroke-width="1.35" stroke-linejoin="round"/>
<polyline points="1020.7,759.4 1022.4,763.2 1024.2,766.6 1025.9,769.9 1027.1,772.8 1028.3,776.4 1028.8,779.6 1030.1,782.5 1031.6,785.4 1033.6,788.8 1035.0,791.7 1036.4,795.1 1037.6,799.0 1038.5,803.5 1041.8,804.8 1045.2,806.3 1049.0,807.6 1052.3,808.9 1056.1,810.3 1059.4,811.8 1063.9,812.9 1067.8,813.9" fill="none" stroke="#5e7aa0" stroke-width="1.35" stroke-linejoin="round"/>
<polyline points="972.5,790.9 975.2,793.7 977.7,796.8 979.8,799.3 981.7,802.6 984.0,805.5 986.0,808.8 988.2,811.8" fill="none" stroke="#3e6298" stroke-width="1.35" stroke-linejoin="round"/>
<line x1="909.4" y1="769" x2="910.7" y2="788.6" stroke="#222" stroke-width="1"/>
<polygon points="907.5,784 913.5,784 910.7,790" fill="#222"/>
<line x1="918.6" y1="761.2" x2="935.6" y2="792.6" stroke="#222" stroke-width="1"/>
<polygon points="931,789 936.5,786 936.5,793.5" fill="#222"/>
<text x="700.0" y="652.8" font-size="14" fill="#222">G1</text>
<text x="713.9" y="631.9" font-size="14" fill="#222">G2</text>
<text x="761.7" y="775.3" font-size="14" fill="#222">G3</text>
<text x="823.4" y="773.3" font-size="14" fill="#222">G4</text>
<text x="731.0" y="612.0" font-size="14" fill="#222">G5</text>
<text x="759.7" y="615.9" font-size="14" fill="#222">G6</text>
<text x="783.6" y="657.8" font-size="14" fill="#222">G7</text>
<text x="805.5" y="657.8" font-size="14" fill="#222">G8</text>
<text x="840.0" y="666.9" font-size="14" fill="#222">G10</text>
<text x="841.3" y="652.5" font-size="14" fill="#222">G12</text>
<text x="845.2" y="640.7" font-size="14" fill="#222">G14</text>
<text x="851.8" y="623.7" font-size="14" fill="#222">G15</text>
<text x="864.7" y="610.8" font-size="14" fill="#222">G16</text>
<text x="884.6" y="621.4" font-size="14" fill="#222">G17</text>
<text x="877.6" y="588.6" font-size="14" fill="#222">G21</text>
<text x="895.1" y="571.0" font-size="14" fill="#222">G23</text>
<text x="958.9" y="681.9" font-size="14" fill="#222">G22</text>
<text x="985.1" y="732.2" font-size="14" fill="#222">G11</text>
<text x="943.1" y="783.5" font-size="14" fill="#222">G18</text>
<text x="1074.1" y="817.1" font-size="14" fill="#222">G19</text>
<text x="978.8" y="824.4" font-size="14" fill="#222">G20</text>
<text x="904.2" y="804.4" font-size="14" fill="#222">G9</text>
<text x="923.8" y="804.4" font-size="14" fill="#222">G13</text>
<line x1="935.0" y1="544.5" x2="953.7" y2="544.5" stroke="#f5b97a" stroke-width="2"/>
<text x="956.1" y="549.5" font-size="14" fill="#222">G1</text>
<line x1="935.0" y1="560.8" x2="953.7" y2="560.8" stroke="#f08a2a" stroke-width="2"/>
<text x="956.1" y="565.8" font-size="14" fill="#222">G2</text>
<line x1="935.0" y1="577.1" x2="953.7" y2="577.1" stroke="#a6d98a" stroke-width="2"/>
<text x="956.1" y="582.1" font-size="14" fill="#222">G3</text>
<line x1="935.0" y1="593.4" x2="953.7" y2="593.4" stroke="#3f9b3f" stroke-width="2"/>
<text x="956.1" y="598.4" font-size="14" fill="#222">G4</text>
<line x1="935.0" y1="609.7" x2="953.7" y2="609.7" stroke="#f5c2b8" stroke-width="2"/>
<text x="956.1" y="614.7" font-size="14" fill="#222">G5</text>
<line x1="935.0" y1="626.0" x2="953.7" y2="626.0" stroke="#e0589b" stroke-width="2"/>
<text x="956.1" y="631.0" font-size="14" fill="#222">G6</text>
<line x1="978.3" y1="544.5" x2="997.1" y2="544.5" stroke="#b22028" stroke-width="2"/>
<text x="999.4" y="549.5" font-size="14" fill="#222">G7</text>
<line x1="978.3" y1="560.8" x2="997.1" y2="560.8" stroke="#c8ddf0" stroke-width="2"/>
<text x="999.4" y="565.8" font-size="14" fill="#222">G8</text>
<line x1="978.3" y1="577.1" x2="997.1" y2="577.1" stroke="#9fc3dc" stroke-width="2"/>
<text x="999.4" y="582.1" font-size="14" fill="#222">G9</text>
<line x1="978.3" y1="593.4" x2="997.1" y2="593.4" stroke="#5f98c8" stroke-width="2"/>
<text x="999.4" y="598.4" font-size="14" fill="#222">G10</text>
<line x1="978.3" y1="609.7" x2="997.1" y2="609.7" stroke="#2b6aa8" stroke-width="2"/>
<text x="999.4" y="614.7" font-size="14" fill="#222">G11</text>
<line x1="978.3" y1="626.0" x2="997.1" y2="626.0" stroke="#bdb8da" stroke-width="2"/>
<text x="999.4" y="631.0" font-size="14" fill="#222">G12</text>
<line x1="1028.7" y1="544.5" x2="1047.4" y2="544.5" stroke="#8c86c0" stroke-width="2"/>
<text x="1049.8" y="549.5" font-size="14" fill="#222">G13</text>
<line x1="1028.7" y1="560.8" x2="1047.4" y2="560.8" stroke="#5b3a9b" stroke-width="2"/>
<text x="1049.8" y="565.8" font-size="14" fill="#222">G14</text>
<line x1="1028.7" y1="577.1" x2="1047.4" y2="577.1" stroke="#e3a877" stroke-width="2"/>
<text x="1049.8" y="582.1" font-size="14" fill="#222">G15</text>
<line x1="1028.7" y1="593.4" x2="1047.4" y2="593.4" stroke="#cfe0b0" stroke-width="2"/>
<text x="1049.8" y="598.4" font-size="14" fill="#222">G16</text>
<line x1="1028.7" y1="609.7" x2="1047.4" y2="609.7" stroke="#ecefc2" stroke-width="2"/>
<text x="1049.8" y="614.7" font-size="14" fill="#222">G17</text>
<line x1="1028.7" y1="626.0" x2="1047.4" y2="626.0" stroke="#8ccfae" stroke-width="2"/>
<text x="1049.8" y="631.0" font-size="14" fill="#222">G18</text>
<line x1="1079.1" y1="544.5" x2="1097.8" y2="544.5" stroke="#56709e" stroke-width="2"/>
<text x="1100.2" y="549.5" font-size="14" fill="#222">G19</text>
<line x1="1079.1" y1="560.8" x2="1097.8" y2="560.8" stroke="#7fa8a8" stroke-width="2"/>
<text x="1100.2" y="565.8" font-size="14" fill="#222">G20</text>
<line x1="1079.1" y1="577.1" x2="1097.8" y2="577.1" stroke="#2fa88a" stroke-width="2"/>
<text x="1100.2" y="582.1" font-size="14" fill="#222">G21</text>
<line x1="1079.1" y1="593.4" x2="1097.8" y2="593.4" stroke="#69a85c" stroke-width="2"/>
<text x="1100.2" y="598.4" font-size="14" fill="#222">G22</text>
<line x1="1079.1" y1="609.7" x2="1097.8" y2="609.7" stroke="#4f82b4" stroke-width="2"/>
<text x="1100.2" y="614.7" font-size="14" fill="#222">G23</text>
</svg></body></html>
